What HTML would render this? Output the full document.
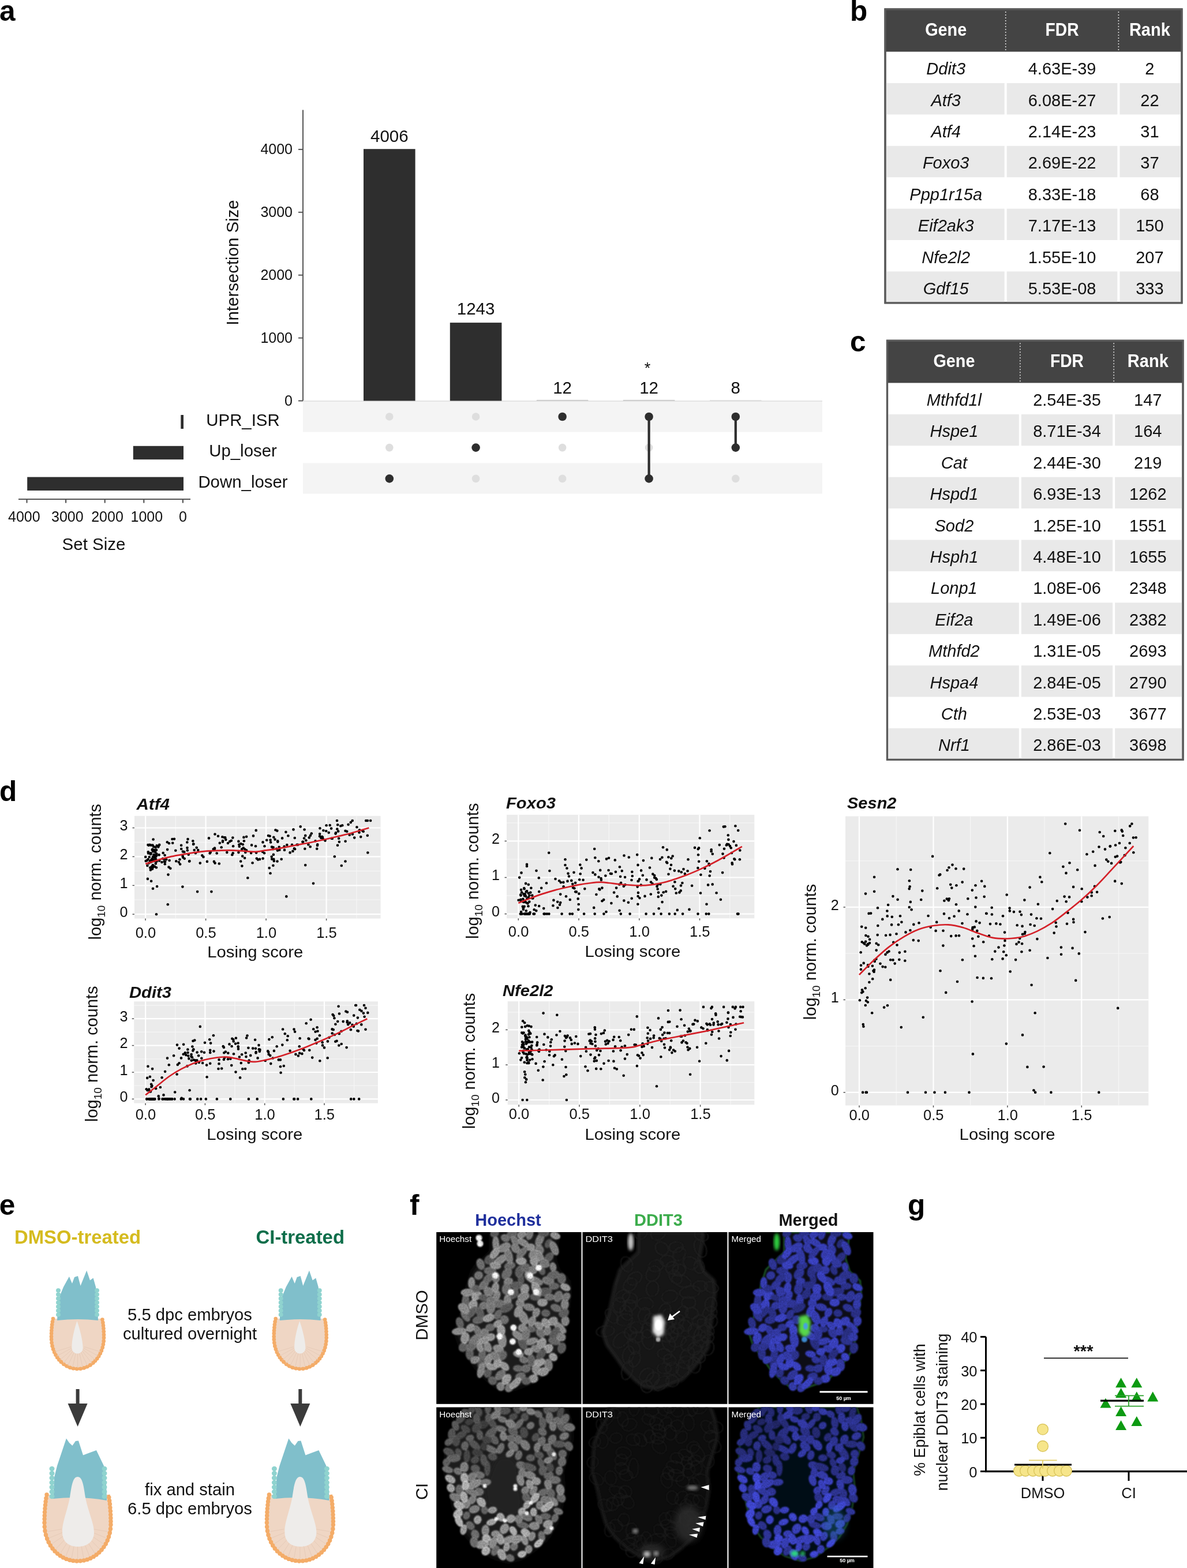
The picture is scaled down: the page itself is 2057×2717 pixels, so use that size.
<!DOCTYPE html>
<html><head><meta charset="utf-8"><title>Figure</title>
<style>html,body{margin:0;padding:0;background:#fff;overflow:hidden;}svg{display:block;}</style></head>
<body>
<svg width="2057" height="2717" viewBox="0 0 2057 2717" font-family="'Liberation Sans', Arial, Helvetica, sans-serif" fill="#111">
<text x="-1" y="35.5" font-size="49.5" font-weight="bold" fill="#000">a</text>
<line x1="525" y1="190.5" x2="525" y2="694.5" stroke="#555" stroke-width="2"/>
<line x1="517" y1="694.5" x2="525" y2="694.5" stroke="#555" stroke-width="2"/>
<text x="507" y="702.5" font-size="25" text-anchor="end">0</text>
<line x1="517" y1="585.6" x2="525" y2="585.6" stroke="#555" stroke-width="2"/>
<text x="507" y="593.6" font-size="25" text-anchor="end">1000</text>
<line x1="517" y1="476.7" x2="525" y2="476.7" stroke="#555" stroke-width="2"/>
<text x="507" y="484.7" font-size="25" text-anchor="end">2000</text>
<line x1="517" y1="367.8" x2="525" y2="367.8" stroke="#555" stroke-width="2"/>
<text x="507" y="375.8" font-size="25" text-anchor="end">3000</text>
<line x1="517" y1="258.9" x2="525" y2="258.9" stroke="#555" stroke-width="2"/>
<text x="507" y="266.9" font-size="25" text-anchor="end">4000</text>
<text x="412.5" y="455" font-size="29.4" text-anchor="middle" transform="rotate(-90 412.5 455)">Intersection Size</text>
<rect x="525" y="695.5" width="900" height="53" fill="#f4f4f4"/>
<rect x="525" y="802.5" width="900" height="53" fill="#f4f4f4"/>
<line x1="525" y1="695" x2="1425" y2="695" stroke="#dcdcdc" stroke-width="1.5"/>
<rect x="630" y="258.2" width="89.6" height="436.3" fill="#2e2e2e"/>
<text x="674.8" y="245.8" font-size="29.5" text-anchor="middle">4006</text>
<rect x="779.8" y="559.1" width="89.6" height="135.4" fill="#2e2e2e"/>
<text x="824.6" y="544.5" font-size="29.5" text-anchor="middle">1243</text>
<rect x="929.8" y="692.9" width="89.6" height="1.6" fill="#c8c8c8"/>
<text x="974.6" y="681.7" font-size="29.5" text-anchor="middle">12</text>
<rect x="1079.8" y="692.9" width="89.6" height="1.6" fill="#c8c8c8"/>
<text x="1124.6" y="681.7" font-size="29.5" text-anchor="middle">12</text>
<rect x="1230" y="693.4" width="89.6" height="1.1" fill="#d4d4d4"/>
<text x="1274.8" y="681.7" font-size="29.5" text-anchor="middle">8</text>
<text x="1122" y="647" font-size="27" text-anchor="middle">*</text>
<circle cx="674.8" cy="722" r="6.8" fill="#dedede"/>
<circle cx="674.8" cy="775.6" r="6.8" fill="#dedede"/>
<circle cx="674.8" cy="829.4" r="7.3" fill="#2e2e2e"/>
<circle cx="824.6" cy="722" r="6.8" fill="#dedede"/>
<circle cx="824.6" cy="829.4" r="6.8" fill="#dedede"/>
<circle cx="824.6" cy="775.6" r="7.3" fill="#2e2e2e"/>
<circle cx="974.6" cy="775.6" r="6.8" fill="#dedede"/>
<circle cx="974.6" cy="829.4" r="6.8" fill="#dedede"/>
<circle cx="974.6" cy="722" r="7.3" fill="#2e2e2e"/>
<circle cx="1124.6" cy="775.6" r="6.8" fill="#dedede"/>
<line x1="1124.6" y1="722" x2="1124.6" y2="829.4" stroke="#2e2e2e" stroke-width="4.2"/>
<circle cx="1124.6" cy="722" r="7.3" fill="#2e2e2e"/>
<circle cx="1124.6" cy="829.4" r="7.3" fill="#2e2e2e"/>
<circle cx="1274.8" cy="829.4" r="6.8" fill="#dedede"/>
<line x1="1274.8" y1="722" x2="1274.8" y2="775.6" stroke="#2e2e2e" stroke-width="4.2"/>
<circle cx="1274.8" cy="722" r="7.3" fill="#2e2e2e"/>
<circle cx="1274.8" cy="775.6" r="7.3" fill="#2e2e2e"/>
<text x="421" y="737.5" font-size="29.4" text-anchor="middle">UPR_ISR</text>
<text x="421" y="791.1" font-size="29.4" text-anchor="middle">Up_loser</text>
<text x="421" y="844.9" font-size="29.4" text-anchor="middle">Down_loser</text>
<rect x="313.3" y="719" width="4.7" height="24" fill="#2e2e2e"/>
<rect x="230.8" y="772.8" width="87.2" height="23.4" fill="#2e2e2e"/>
<rect x="47.2" y="826.6" width="270.8" height="23.4" fill="#2e2e2e"/>
<line x1="32" y1="865" x2="330" y2="865" stroke="#555" stroke-width="2"/>
<line x1="316.9" y1="865" x2="316.9" y2="871.5" stroke="#555" stroke-width="2.2"/>
<text x="317" y="903.8" font-size="25" text-anchor="middle">0</text>
<line x1="249.3" y1="865" x2="249.3" y2="871.5" stroke="#555" stroke-width="2.2"/>
<text x="254.3" y="903.8" font-size="25" text-anchor="middle">1000</text>
<line x1="181.7" y1="865" x2="181.7" y2="871.5" stroke="#555" stroke-width="2.2"/>
<text x="186" y="903.8" font-size="25" text-anchor="middle">2000</text>
<line x1="114.1" y1="865" x2="114.1" y2="871.5" stroke="#555" stroke-width="2.2"/>
<text x="116.8" y="903.8" font-size="25" text-anchor="middle">3000</text>
<line x1="46.5" y1="865" x2="46.5" y2="871.5" stroke="#555" stroke-width="2.2"/>
<text x="41.8" y="903.8" font-size="25" text-anchor="middle">4000</text>
<text x="162.5" y="952.7" font-size="29.5" text-anchor="middle">Set Size</text>
<text x="1473" y="35.5" font-size="49.5" font-weight="bold" fill="#000">b</text>
<rect x="1534" y="16" width="514" height="508.8" fill="#ffffff" stroke="#5a5a5a" stroke-width="3.2"/>
<rect x="1534" y="16" width="514" height="73.6" fill="#444444"/>
<rect x="1535.6" y="144" width="205.1" height="54.4" fill="#e9e9e9"/>
<rect x="1744.7" y="144" width="191.7" height="54.4" fill="#e9e9e9"/>
<rect x="1940.4" y="144" width="106" height="54.4" fill="#e9e9e9"/>
<rect x="1535.6" y="252.8" width="205.1" height="54.4" fill="#e9e9e9"/>
<rect x="1744.7" y="252.8" width="191.7" height="54.4" fill="#e9e9e9"/>
<rect x="1940.4" y="252.8" width="106" height="54.4" fill="#e9e9e9"/>
<rect x="1535.6" y="361.6" width="205.1" height="54.4" fill="#e9e9e9"/>
<rect x="1744.7" y="361.6" width="191.7" height="54.4" fill="#e9e9e9"/>
<rect x="1940.4" y="361.6" width="106" height="54.4" fill="#e9e9e9"/>
<rect x="1535.6" y="470.4" width="205.1" height="54.4" fill="#e9e9e9"/>
<rect x="1744.7" y="470.4" width="191.7" height="54.4" fill="#e9e9e9"/>
<rect x="1940.4" y="470.4" width="106" height="54.4" fill="#e9e9e9"/>
<rect x="1534" y="16" width="514" height="508.8" fill="none" stroke="#5a5a5a" stroke-width="3.2"/>
<line x1="1742.7" y1="20" x2="1742.7" y2="87.6" stroke="#dddddd" stroke-width="1.6" stroke-dasharray="2 3"/>
<line x1="1938.4" y1="20" x2="1938.4" y2="87.6" stroke="#dddddd" stroke-width="1.6" stroke-dasharray="2 3"/>
<text x="1639.2" y="62.3" font-size="32" text-anchor="middle" font-weight="bold" fill="#ffffff" textLength="72" lengthAdjust="spacingAndGlyphs">Gene</text>
<text x="1840.6" y="62.3" font-size="32" text-anchor="middle" font-weight="bold" fill="#ffffff" textLength="58" lengthAdjust="spacingAndGlyphs">FDR</text>
<text x="1992.4" y="62.3" font-size="32" text-anchor="middle" font-weight="bold" fill="#ffffff" textLength="71" lengthAdjust="spacingAndGlyphs">Rank</text>
<text x="1639.2" y="129.1" font-size="29" text-anchor="middle" font-style="italic">Ddit3</text>
<text x="1840.6" y="129.1" font-size="29" text-anchor="middle">4.63E-39</text>
<text x="1992.4" y="129.1" font-size="29" text-anchor="middle">2</text>
<text x="1639.2" y="183.5" font-size="29" text-anchor="middle" font-style="italic">Atf3</text>
<text x="1840.6" y="183.5" font-size="29" text-anchor="middle">6.08E-27</text>
<text x="1992.4" y="183.5" font-size="29" text-anchor="middle">22</text>
<text x="1639.2" y="237.9" font-size="29" text-anchor="middle" font-style="italic">Atf4</text>
<text x="1840.6" y="237.9" font-size="29" text-anchor="middle">2.14E-23</text>
<text x="1992.4" y="237.9" font-size="29" text-anchor="middle">31</text>
<text x="1639.2" y="292.3" font-size="29" text-anchor="middle" font-style="italic">Foxo3</text>
<text x="1840.6" y="292.3" font-size="29" text-anchor="middle">2.69E-22</text>
<text x="1992.4" y="292.3" font-size="29" text-anchor="middle">37</text>
<text x="1639.2" y="346.7" font-size="29" text-anchor="middle" font-style="italic">Ppp1r15a</text>
<text x="1840.6" y="346.7" font-size="29" text-anchor="middle">8.33E-18</text>
<text x="1992.4" y="346.7" font-size="29" text-anchor="middle">68</text>
<text x="1639.2" y="401.1" font-size="29" text-anchor="middle" font-style="italic">Eif2ak3</text>
<text x="1840.6" y="401.1" font-size="29" text-anchor="middle">7.17E-13</text>
<text x="1992.4" y="401.1" font-size="29" text-anchor="middle">150</text>
<text x="1639.2" y="455.5" font-size="29" text-anchor="middle" font-style="italic">Nfe2l2</text>
<text x="1840.6" y="455.5" font-size="29" text-anchor="middle">1.55E-10</text>
<text x="1992.4" y="455.5" font-size="29" text-anchor="middle">207</text>
<text x="1639.2" y="509.9" font-size="29" text-anchor="middle" font-style="italic">Gdf15</text>
<text x="1840.6" y="509.9" font-size="29" text-anchor="middle">5.53E-08</text>
<text x="1992.4" y="509.9" font-size="29" text-anchor="middle">333</text>
<text x="1473" y="609.3" font-size="49.5" font-weight="bold" fill="#000">c</text>
<rect x="1537.5" y="590.3" width="512.5" height="726" fill="#ffffff" stroke="#5a5a5a" stroke-width="3.2"/>
<rect x="1537.5" y="590.3" width="512.5" height="73.2" fill="#444444"/>
<rect x="1539.1" y="717.9" width="226.7" height="54.4" fill="#e9e9e9"/>
<rect x="1769.8" y="717.9" width="158.4" height="54.4" fill="#e9e9e9"/>
<rect x="1932.2" y="717.9" width="116.2" height="54.4" fill="#e9e9e9"/>
<rect x="1539.1" y="826.7" width="226.7" height="54.4" fill="#e9e9e9"/>
<rect x="1769.8" y="826.7" width="158.4" height="54.4" fill="#e9e9e9"/>
<rect x="1932.2" y="826.7" width="116.2" height="54.4" fill="#e9e9e9"/>
<rect x="1539.1" y="935.5" width="226.7" height="54.4" fill="#e9e9e9"/>
<rect x="1769.8" y="935.5" width="158.4" height="54.4" fill="#e9e9e9"/>
<rect x="1932.2" y="935.5" width="116.2" height="54.4" fill="#e9e9e9"/>
<rect x="1539.1" y="1044.3" width="226.7" height="54.4" fill="#e9e9e9"/>
<rect x="1769.8" y="1044.3" width="158.4" height="54.4" fill="#e9e9e9"/>
<rect x="1932.2" y="1044.3" width="116.2" height="54.4" fill="#e9e9e9"/>
<rect x="1539.1" y="1153.1" width="226.7" height="54.4" fill="#e9e9e9"/>
<rect x="1769.8" y="1153.1" width="158.4" height="54.4" fill="#e9e9e9"/>
<rect x="1932.2" y="1153.1" width="116.2" height="54.4" fill="#e9e9e9"/>
<rect x="1539.1" y="1261.9" width="226.7" height="54.4" fill="#e9e9e9"/>
<rect x="1769.8" y="1261.9" width="158.4" height="54.4" fill="#e9e9e9"/>
<rect x="1932.2" y="1261.9" width="116.2" height="54.4" fill="#e9e9e9"/>
<rect x="1537.5" y="590.3" width="512.5" height="726" fill="none" stroke="#5a5a5a" stroke-width="3.2"/>
<line x1="1767.8" y1="594.3" x2="1767.8" y2="661.5" stroke="#dddddd" stroke-width="1.6" stroke-dasharray="2 3"/>
<line x1="1930.2" y1="594.3" x2="1930.2" y2="661.5" stroke="#dddddd" stroke-width="1.6" stroke-dasharray="2 3"/>
<text x="1653.4" y="636.4" font-size="32" text-anchor="middle" font-weight="bold" fill="#ffffff" textLength="72" lengthAdjust="spacingAndGlyphs">Gene</text>
<text x="1849" y="636.4" font-size="32" text-anchor="middle" font-weight="bold" fill="#ffffff" textLength="58" lengthAdjust="spacingAndGlyphs">FDR</text>
<text x="1989.3" y="636.4" font-size="32" text-anchor="middle" font-weight="bold" fill="#ffffff" textLength="71" lengthAdjust="spacingAndGlyphs">Rank</text>
<text x="1653.4" y="703" font-size="29" text-anchor="middle" font-style="italic">Mthfd1l</text>
<text x="1849" y="703" font-size="29" text-anchor="middle">2.54E-35</text>
<text x="1989.3" y="703" font-size="29" text-anchor="middle">147</text>
<text x="1653.4" y="757.4" font-size="29" text-anchor="middle" font-style="italic">Hspe1</text>
<text x="1849" y="757.4" font-size="29" text-anchor="middle">8.71E-34</text>
<text x="1989.3" y="757.4" font-size="29" text-anchor="middle">164</text>
<text x="1653.4" y="811.8" font-size="29" text-anchor="middle" font-style="italic">Cat</text>
<text x="1849" y="811.8" font-size="29" text-anchor="middle">2.44E-30</text>
<text x="1989.3" y="811.8" font-size="29" text-anchor="middle">219</text>
<text x="1653.4" y="866.2" font-size="29" text-anchor="middle" font-style="italic">Hspd1</text>
<text x="1849" y="866.2" font-size="29" text-anchor="middle">6.93E-13</text>
<text x="1989.3" y="866.2" font-size="29" text-anchor="middle">1262</text>
<text x="1653.4" y="920.6" font-size="29" text-anchor="middle" font-style="italic">Sod2</text>
<text x="1849" y="920.6" font-size="29" text-anchor="middle">1.25E-10</text>
<text x="1989.3" y="920.6" font-size="29" text-anchor="middle">1551</text>
<text x="1653.4" y="975" font-size="29" text-anchor="middle" font-style="italic">Hsph1</text>
<text x="1849" y="975" font-size="29" text-anchor="middle">4.48E-10</text>
<text x="1989.3" y="975" font-size="29" text-anchor="middle">1655</text>
<text x="1653.4" y="1029.4" font-size="29" text-anchor="middle" font-style="italic">Lonp1</text>
<text x="1849" y="1029.4" font-size="29" text-anchor="middle">1.08E-06</text>
<text x="1989.3" y="1029.4" font-size="29" text-anchor="middle">2348</text>
<text x="1653.4" y="1083.8" font-size="29" text-anchor="middle" font-style="italic">Eif2a</text>
<text x="1849" y="1083.8" font-size="29" text-anchor="middle">1.49E-06</text>
<text x="1989.3" y="1083.8" font-size="29" text-anchor="middle">2382</text>
<text x="1653.4" y="1138.2" font-size="29" text-anchor="middle" font-style="italic">Mthfd2</text>
<text x="1849" y="1138.2" font-size="29" text-anchor="middle">1.31E-05</text>
<text x="1989.3" y="1138.2" font-size="29" text-anchor="middle">2693</text>
<text x="1653.4" y="1192.6" font-size="29" text-anchor="middle" font-style="italic">Hspa4</text>
<text x="1849" y="1192.6" font-size="29" text-anchor="middle">2.84E-05</text>
<text x="1989.3" y="1192.6" font-size="29" text-anchor="middle">2790</text>
<text x="1653.4" y="1247" font-size="29" text-anchor="middle" font-style="italic">Cth</text>
<text x="1849" y="1247" font-size="29" text-anchor="middle">2.53E-03</text>
<text x="1989.3" y="1247" font-size="29" text-anchor="middle">3677</text>
<text x="1653.4" y="1301.4" font-size="29" text-anchor="middle" font-style="italic">Nrf1</text>
<text x="1849" y="1301.4" font-size="29" text-anchor="middle">2.86E-03</text>
<text x="1989.3" y="1301.4" font-size="29" text-anchor="middle">3698</text>
<text x="-1" y="1388.2" font-size="49.5" font-weight="bold" fill="#000">d</text>
<rect x="233" y="1413.8" width="426.6" height="177.8" fill="#ebebeb"/>
<line x1="304.4" y1="1413.8" x2="304.4" y2="1591.6" stroke="#f5f5f5" stroke-width="1.3"/>
<line x1="408.9" y1="1413.8" x2="408.9" y2="1591.6" stroke="#f5f5f5" stroke-width="1.3"/>
<line x1="513.4" y1="1413.8" x2="513.4" y2="1591.6" stroke="#f5f5f5" stroke-width="1.3"/>
<line x1="617.9" y1="1413.8" x2="617.9" y2="1591.6" stroke="#f5f5f5" stroke-width="1.3"/>
<line x1="233" y1="1559.2" x2="659.6" y2="1559.2" stroke="#f5f5f5" stroke-width="1.3"/>
<line x1="233" y1="1509.4" x2="659.6" y2="1509.4" stroke="#f5f5f5" stroke-width="1.3"/>
<line x1="233" y1="1459.5" x2="659.6" y2="1459.5" stroke="#f5f5f5" stroke-width="1.3"/>
<line x1="252.1" y1="1413.8" x2="252.1" y2="1591.6" stroke="#ffffff" stroke-width="2.2"/>
<line x1="356.6" y1="1413.8" x2="356.6" y2="1591.6" stroke="#ffffff" stroke-width="2.2"/>
<line x1="461.1" y1="1413.8" x2="461.1" y2="1591.6" stroke="#ffffff" stroke-width="2.2"/>
<line x1="565.6" y1="1413.8" x2="565.6" y2="1591.6" stroke="#ffffff" stroke-width="2.2"/>
<line x1="233" y1="1584.2" x2="659.6" y2="1584.2" stroke="#ffffff" stroke-width="2.2"/>
<line x1="233" y1="1534.3" x2="659.6" y2="1534.3" stroke="#ffffff" stroke-width="2.2"/>
<line x1="233" y1="1484.4" x2="659.6" y2="1484.4" stroke="#ffffff" stroke-width="2.2"/>
<line x1="233" y1="1434.5" x2="659.6" y2="1434.5" stroke="#ffffff" stroke-width="2.2"/>
<line x1="252.1" y1="1591.6" x2="252.1" y2="1595.1" stroke="#555" stroke-width="1.5"/>
<text x="252.4" y="1625.2" font-size="25" text-anchor="middle" textLength="35.5" lengthAdjust="spacingAndGlyphs">0.0</text>
<line x1="356.6" y1="1591.6" x2="356.6" y2="1595.1" stroke="#555" stroke-width="1.5"/>
<text x="356.9" y="1625.2" font-size="25" text-anchor="middle" textLength="35.5" lengthAdjust="spacingAndGlyphs">0.5</text>
<line x1="461.1" y1="1591.6" x2="461.1" y2="1595.1" stroke="#555" stroke-width="1.5"/>
<text x="461.4" y="1625.2" font-size="25" text-anchor="middle" textLength="35.5" lengthAdjust="spacingAndGlyphs">1.0</text>
<line x1="565.6" y1="1591.6" x2="565.6" y2="1595.1" stroke="#555" stroke-width="1.5"/>
<text x="565.9" y="1625.2" font-size="25" text-anchor="middle" textLength="35.5" lengthAdjust="spacingAndGlyphs">1.5</text>
<line x1="229.5" y1="1584.2" x2="233" y2="1584.2" stroke="#555" stroke-width="1.5"/>
<text x="221.5" y="1588.8" font-size="25.5" text-anchor="end" textLength="14" lengthAdjust="spacingAndGlyphs">0</text>
<line x1="229.5" y1="1534.3" x2="233" y2="1534.3" stroke="#555" stroke-width="1.5"/>
<text x="221.5" y="1538.9" font-size="25.5" text-anchor="end" textLength="14" lengthAdjust="spacingAndGlyphs">1</text>
<line x1="229.5" y1="1484.4" x2="233" y2="1484.4" stroke="#555" stroke-width="1.5"/>
<text x="221.5" y="1489" font-size="25.5" text-anchor="end" textLength="14" lengthAdjust="spacingAndGlyphs">2</text>
<line x1="229.5" y1="1434.5" x2="233" y2="1434.5" stroke="#555" stroke-width="1.5"/>
<text x="221.5" y="1439.1" font-size="25.5" text-anchor="end" textLength="14" lengthAdjust="spacingAndGlyphs">3</text>
<circle cx="271.7" cy="1465.3" r="2.3" fill="#000"/>
<circle cx="256.7" cy="1489" r="2.3" fill="#000"/>
<circle cx="264.8" cy="1485.1" r="2.3" fill="#000"/>
<circle cx="263.6" cy="1488.2" r="2.3" fill="#000"/>
<circle cx="265.6" cy="1454.5" r="2.3" fill="#000"/>
<circle cx="271.3" cy="1482.2" r="2.3" fill="#000"/>
<circle cx="265" cy="1500.5" r="2.3" fill="#000"/>
<circle cx="270.2" cy="1484.2" r="2.3" fill="#000"/>
<circle cx="268.1" cy="1486.6" r="2.3" fill="#000"/>
<circle cx="264.9" cy="1492.3" r="2.3" fill="#000"/>
<circle cx="260.5" cy="1479.5" r="2.3" fill="#000"/>
<circle cx="267.5" cy="1473.1" r="2.3" fill="#000"/>
<circle cx="261" cy="1494" r="2.3" fill="#000"/>
<circle cx="271.5" cy="1492.6" r="2.3" fill="#000"/>
<circle cx="265.5" cy="1500.1" r="2.3" fill="#000"/>
<circle cx="260.9" cy="1507.5" r="2.3" fill="#000"/>
<circle cx="252.7" cy="1491.9" r="2.3" fill="#000"/>
<circle cx="262.1" cy="1526.7" r="2.3" fill="#000"/>
<circle cx="257.8" cy="1495.6" r="2.3" fill="#000"/>
<circle cx="266" cy="1484.4" r="2.3" fill="#000"/>
<circle cx="255.9" cy="1522.9" r="2.3" fill="#000"/>
<circle cx="262.3" cy="1489.8" r="2.3" fill="#000"/>
<circle cx="271.4" cy="1479.6" r="2.3" fill="#000"/>
<circle cx="252.2" cy="1484.9" r="2.3" fill="#000"/>
<circle cx="256.5" cy="1464" r="2.3" fill="#000"/>
<circle cx="268" cy="1501.5" r="2.3" fill="#000"/>
<circle cx="263.4" cy="1505.7" r="2.3" fill="#000"/>
<circle cx="261.5" cy="1478.4" r="2.3" fill="#000"/>
<circle cx="264.4" cy="1471.6" r="2.3" fill="#000"/>
<circle cx="255" cy="1490.8" r="2.3" fill="#000"/>
<circle cx="275.6" cy="1481.4" r="2.3" fill="#000"/>
<circle cx="263.7" cy="1472.7" r="2.3" fill="#000"/>
<circle cx="269.2" cy="1476.7" r="2.3" fill="#000"/>
<circle cx="270.1" cy="1488.9" r="2.3" fill="#000"/>
<circle cx="256.9" cy="1476.2" r="2.3" fill="#000"/>
<circle cx="264.5" cy="1464.6" r="2.3" fill="#000"/>
<circle cx="272.1" cy="1536" r="2.3" fill="#000"/>
<circle cx="269.6" cy="1468.4" r="2.3" fill="#000"/>
<circle cx="260.2" cy="1503.6" r="2.3" fill="#000"/>
<circle cx="265.8" cy="1502.1" r="2.3" fill="#000"/>
<circle cx="257.1" cy="1478.5" r="2.3" fill="#000"/>
<circle cx="268.5" cy="1481.7" r="2.3" fill="#000"/>
<circle cx="259.3" cy="1463.7" r="2.3" fill="#000"/>
<circle cx="263.3" cy="1501.4" r="2.3" fill="#000"/>
<circle cx="264.9" cy="1489.5" r="2.3" fill="#000"/>
<circle cx="260.1" cy="1491.9" r="2.3" fill="#000"/>
<circle cx="261.5" cy="1503.4" r="2.3" fill="#000"/>
<circle cx="266.2" cy="1467.1" r="2.3" fill="#000"/>
<circle cx="271" cy="1472.9" r="2.3" fill="#000"/>
<circle cx="257.8" cy="1464.8" r="2.3" fill="#000"/>
<circle cx="265.3" cy="1475.4" r="2.3" fill="#000"/>
<circle cx="261.3" cy="1480.1" r="2.3" fill="#000"/>
<circle cx="268.8" cy="1490.8" r="2.3" fill="#000"/>
<circle cx="258.8" cy="1485" r="2.3" fill="#000"/>
<circle cx="266.9" cy="1482.1" r="2.3" fill="#000"/>
<circle cx="264.1" cy="1505.4" r="2.3" fill="#000"/>
<circle cx="260.8" cy="1478.8" r="2.3" fill="#000"/>
<circle cx="276.2" cy="1491.5" r="2.3" fill="#000"/>
<circle cx="265" cy="1539.8" r="2.3" fill="#000"/>
<circle cx="255.4" cy="1499.9" r="2.3" fill="#000"/>
<circle cx="270.9" cy="1503.3" r="2.3" fill="#000"/>
<circle cx="269.8" cy="1496.4" r="2.3" fill="#000"/>
<circle cx="261.7" cy="1464.6" r="2.3" fill="#000"/>
<circle cx="262.3" cy="1492.9" r="2.3" fill="#000"/>
<circle cx="268.1" cy="1483.4" r="2.3" fill="#000"/>
<circle cx="266.4" cy="1481" r="2.3" fill="#000"/>
<circle cx="274.6" cy="1466.1" r="2.3" fill="#000"/>
<circle cx="268" cy="1492" r="2.3" fill="#000"/>
<circle cx="271" cy="1584.2" r="2.3" fill="#000"/>
<circle cx="264.8" cy="1499.1" r="2.3" fill="#000"/>
<circle cx="610.9" cy="1445.4" r="2.3" fill="#000"/>
<circle cx="314.2" cy="1471" r="2.3" fill="#000"/>
<circle cx="527.6" cy="1437.5" r="2.3" fill="#000"/>
<circle cx="473.4" cy="1499.8" r="2.3" fill="#000"/>
<circle cx="636.8" cy="1447.8" r="2.3" fill="#000"/>
<circle cx="417.4" cy="1462" r="2.3" fill="#000"/>
<circle cx="390.2" cy="1451.3" r="2.3" fill="#000"/>
<circle cx="474.3" cy="1488.9" r="2.3" fill="#000"/>
<circle cx="363.7" cy="1478.4" r="2.3" fill="#000"/>
<circle cx="299.2" cy="1460.8" r="2.3" fill="#000"/>
<circle cx="455.5" cy="1459.4" r="2.3" fill="#000"/>
<circle cx="458.5" cy="1466.2" r="2.3" fill="#000"/>
<circle cx="560.1" cy="1454.3" r="2.3" fill="#000"/>
<circle cx="391.3" cy="1454.9" r="2.3" fill="#000"/>
<circle cx="603.6" cy="1428.8" r="2.3" fill="#000"/>
<circle cx="284.7" cy="1493.1" r="2.3" fill="#000"/>
<circle cx="584" cy="1422" r="2.3" fill="#000"/>
<circle cx="338.9" cy="1478.2" r="2.3" fill="#000"/>
<circle cx="366.4" cy="1545.1" r="2.3" fill="#000"/>
<circle cx="473.3" cy="1471.3" r="2.3" fill="#000"/>
<circle cx="419.4" cy="1500.6" r="2.3" fill="#000"/>
<circle cx="427.1" cy="1473.4" r="2.3" fill="#000"/>
<circle cx="319.3" cy="1476.2" r="2.3" fill="#000"/>
<circle cx="420.2" cy="1483.6" r="2.3" fill="#000"/>
<circle cx="468.6" cy="1455.6" r="2.3" fill="#000"/>
<circle cx="435.1" cy="1478.1" r="2.3" fill="#000"/>
<circle cx="450.1" cy="1488.9" r="2.3" fill="#000"/>
<circle cx="480.3" cy="1439.6" r="2.3" fill="#000"/>
<circle cx="290.8" cy="1567.3" r="2.3" fill="#000"/>
<circle cx="556.4" cy="1452" r="2.3" fill="#000"/>
<circle cx="529.2" cy="1447.9" r="2.3" fill="#000"/>
<circle cx="493" cy="1472.9" r="2.3" fill="#000"/>
<circle cx="628.2" cy="1439.4" r="2.3" fill="#000"/>
<circle cx="483.7" cy="1467.8" r="2.3" fill="#000"/>
<circle cx="525.2" cy="1458.8" r="2.3" fill="#000"/>
<circle cx="543" cy="1530.8" r="2.3" fill="#000"/>
<circle cx="372" cy="1471.1" r="2.3" fill="#000"/>
<circle cx="324.5" cy="1469.1" r="2.3" fill="#000"/>
<circle cx="437.6" cy="1495.3" r="2.3" fill="#000"/>
<circle cx="414.4" cy="1463.5" r="2.3" fill="#000"/>
<circle cx="319.7" cy="1487.7" r="2.3" fill="#000"/>
<circle cx="317.1" cy="1485.7" r="2.3" fill="#000"/>
<circle cx="364.8" cy="1476.7" r="2.3" fill="#000"/>
<circle cx="343.2" cy="1473.1" r="2.3" fill="#000"/>
<circle cx="582" cy="1443" r="2.3" fill="#000"/>
<circle cx="473.6" cy="1468.2" r="2.3" fill="#000"/>
<circle cx="565.6" cy="1430.3" r="2.3" fill="#000"/>
<circle cx="474.8" cy="1491.9" r="2.3" fill="#000"/>
<circle cx="414.8" cy="1466.7" r="2.3" fill="#000"/>
<circle cx="571.7" cy="1430" r="2.3" fill="#000"/>
<circle cx="554.5" cy="1435.3" r="2.3" fill="#000"/>
<circle cx="458.1" cy="1478.2" r="2.3" fill="#000"/>
<circle cx="468.5" cy="1513.2" r="2.3" fill="#000"/>
<circle cx="420.8" cy="1463.3" r="2.3" fill="#000"/>
<circle cx="455.1" cy="1476" r="2.3" fill="#000"/>
<circle cx="375.7" cy="1478.5" r="2.3" fill="#000"/>
<circle cx="579.8" cy="1484.2" r="2.3" fill="#000"/>
<circle cx="424.3" cy="1471.5" r="2.3" fill="#000"/>
<circle cx="386" cy="1458.7" r="2.3" fill="#000"/>
<circle cx="274.3" cy="1467.6" r="2.3" fill="#000"/>
<circle cx="422.9" cy="1457.2" r="2.3" fill="#000"/>
<circle cx="550" cy="1465" r="2.3" fill="#000"/>
<circle cx="509.9" cy="1470.4" r="2.3" fill="#000"/>
<circle cx="507.4" cy="1474.9" r="2.3" fill="#000"/>
<circle cx="586.1" cy="1440.4" r="2.3" fill="#000"/>
<circle cx="370.9" cy="1492.9" r="2.3" fill="#000"/>
<circle cx="474.3" cy="1450.8" r="2.3" fill="#000"/>
<circle cx="289.8" cy="1459.2" r="2.3" fill="#000"/>
<circle cx="429.3" cy="1521.2" r="2.3" fill="#000"/>
<circle cx="623" cy="1438.4" r="2.3" fill="#000"/>
<circle cx="350.3" cy="1482.4" r="2.3" fill="#000"/>
<circle cx="372.5" cy="1445.5" r="2.3" fill="#000"/>
<circle cx="462.2" cy="1455.8" r="2.3" fill="#000"/>
<circle cx="514.6" cy="1463.9" r="2.3" fill="#000"/>
<circle cx="358.9" cy="1492.9" r="2.3" fill="#000"/>
<circle cx="565.2" cy="1440" r="2.3" fill="#000"/>
<circle cx="534.4" cy="1463.4" r="2.3" fill="#000"/>
<circle cx="605.7" cy="1446.8" r="2.3" fill="#000"/>
<circle cx="563.5" cy="1456.6" r="2.3" fill="#000"/>
<circle cx="334.3" cy="1457.3" r="2.3" fill="#000"/>
<circle cx="497.3" cy="1464" r="2.3" fill="#000"/>
<circle cx="324.3" cy="1459.5" r="2.3" fill="#000"/>
<circle cx="362" cy="1452.4" r="2.3" fill="#000"/>
<circle cx="386" cy="1457.1" r="2.3" fill="#000"/>
<circle cx="342.1" cy="1545.1" r="2.3" fill="#000"/>
<circle cx="285.8" cy="1497.3" r="2.3" fill="#000"/>
<circle cx="629.7" cy="1440.7" r="2.3" fill="#000"/>
<circle cx="529.2" cy="1499.1" r="2.3" fill="#000"/>
<circle cx="335.4" cy="1462.2" r="2.3" fill="#000"/>
<circle cx="444.1" cy="1477.6" r="2.3" fill="#000"/>
<circle cx="492.6" cy="1466.9" r="2.3" fill="#000"/>
<circle cx="290.1" cy="1472.1" r="2.3" fill="#000"/>
<circle cx="487.7" cy="1488.8" r="2.3" fill="#000"/>
<circle cx="598.5" cy="1439.7" r="2.3" fill="#000"/>
<circle cx="326.7" cy="1480.7" r="2.3" fill="#000"/>
<circle cx="413.4" cy="1457.9" r="2.3" fill="#000"/>
<circle cx="286.1" cy="1493.3" r="2.3" fill="#000"/>
<circle cx="316.4" cy="1536.6" r="2.3" fill="#000"/>
<circle cx="527.1" cy="1452.5" r="2.3" fill="#000"/>
<circle cx="417.2" cy="1492.5" r="2.3" fill="#000"/>
<circle cx="295.3" cy="1504.8" r="2.3" fill="#000"/>
<circle cx="402.3" cy="1481.2" r="2.3" fill="#000"/>
<circle cx="403.7" cy="1478.3" r="2.3" fill="#000"/>
<circle cx="598.6" cy="1457.7" r="2.3" fill="#000"/>
<circle cx="539.8" cy="1444.3" r="2.3" fill="#000"/>
<circle cx="634.2" cy="1422" r="2.3" fill="#000"/>
<circle cx="292.5" cy="1502.6" r="2.3" fill="#000"/>
<circle cx="637.3" cy="1477.5" r="2.3" fill="#000"/>
<circle cx="419.2" cy="1471.3" r="2.3" fill="#000"/>
<circle cx="282.1" cy="1487.8" r="2.3" fill="#000"/>
<circle cx="285.6" cy="1482" r="2.3" fill="#000"/>
<circle cx="388.9" cy="1451.3" r="2.3" fill="#000"/>
<circle cx="385.4" cy="1450.3" r="2.3" fill="#000"/>
<circle cx="479.1" cy="1470.8" r="2.3" fill="#000"/>
<circle cx="489.1" cy="1452.4" r="2.3" fill="#000"/>
<circle cx="439" cy="1448.4" r="2.3" fill="#000"/>
<circle cx="471.1" cy="1467.6" r="2.3" fill="#000"/>
<circle cx="380.8" cy="1460.7" r="2.3" fill="#000"/>
<circle cx="400.8" cy="1456.7" r="2.3" fill="#000"/>
<circle cx="574.5" cy="1452.7" r="2.3" fill="#000"/>
<circle cx="393.3" cy="1477.1" r="2.3" fill="#000"/>
<circle cx="467.6" cy="1448.8" r="2.3" fill="#000"/>
<circle cx="298.5" cy="1454" r="2.3" fill="#000"/>
<circle cx="610.7" cy="1422" r="2.3" fill="#000"/>
<circle cx="614.2" cy="1451.6" r="2.3" fill="#000"/>
<circle cx="466.7" cy="1504.1" r="2.3" fill="#000"/>
<circle cx="549.2" cy="1470.8" r="2.3" fill="#000"/>
<circle cx="511.1" cy="1471.2" r="2.3" fill="#000"/>
<circle cx="335.1" cy="1462.9" r="2.3" fill="#000"/>
<circle cx="481.2" cy="1457.4" r="2.3" fill="#000"/>
<circle cx="291.5" cy="1515.6" r="2.3" fill="#000"/>
<circle cx="369.8" cy="1471.3" r="2.3" fill="#000"/>
<circle cx="302" cy="1453.8" r="2.3" fill="#000"/>
<circle cx="591.8" cy="1500" r="2.3" fill="#000"/>
<circle cx="378" cy="1448.7" r="2.3" fill="#000"/>
<circle cx="593.2" cy="1430.3" r="2.3" fill="#000"/>
<circle cx="622.5" cy="1442.4" r="2.3" fill="#000"/>
<circle cx="574.1" cy="1435.6" r="2.3" fill="#000"/>
<circle cx="558" cy="1449.7" r="2.3" fill="#000"/>
<circle cx="422.4" cy="1450.9" r="2.3" fill="#000"/>
<circle cx="587.9" cy="1458.8" r="2.3" fill="#000"/>
<circle cx="383.7" cy="1468.3" r="2.3" fill="#000"/>
<circle cx="601.2" cy="1440.8" r="2.3" fill="#000"/>
<circle cx="473.9" cy="1480.9" r="2.3" fill="#000"/>
<circle cx="575.8" cy="1453" r="2.3" fill="#000"/>
<circle cx="506" cy="1463.9" r="2.3" fill="#000"/>
<circle cx="476.5" cy="1454.6" r="2.3" fill="#000"/>
<circle cx="508.5" cy="1437.4" r="2.3" fill="#000"/>
<circle cx="421.8" cy="1469.4" r="2.3" fill="#000"/>
<circle cx="520.7" cy="1432.4" r="2.3" fill="#000"/>
<circle cx="444.8" cy="1487.6" r="2.3" fill="#000"/>
<circle cx="550.2" cy="1463.4" r="2.3" fill="#000"/>
<circle cx="404.1" cy="1466.3" r="2.3" fill="#000"/>
<circle cx="336.7" cy="1473" r="2.3" fill="#000"/>
<circle cx="642.1" cy="1422" r="2.3" fill="#000"/>
<circle cx="546.6" cy="1457.2" r="2.3" fill="#000"/>
<circle cx="537.7" cy="1467.2" r="2.3" fill="#000"/>
<circle cx="537.9" cy="1447.8" r="2.3" fill="#000"/>
<circle cx="282.7" cy="1478" r="2.3" fill="#000"/>
<circle cx="625.2" cy="1450.1" r="2.3" fill="#000"/>
<circle cx="499.4" cy="1448.3" r="2.3" fill="#000"/>
<circle cx="470.7" cy="1484.6" r="2.3" fill="#000"/>
<circle cx="477.5" cy="1438.3" r="2.3" fill="#000"/>
<circle cx="316.9" cy="1475.6" r="2.3" fill="#000"/>
<circle cx="590.3" cy="1431.2" r="2.3" fill="#000"/>
<circle cx="305.3" cy="1492.2" r="2.3" fill="#000"/>
<circle cx="607.8" cy="1425.1" r="2.3" fill="#000"/>
<circle cx="312.1" cy="1497.5" r="2.3" fill="#000"/>
<circle cx="427.1" cy="1449.8" r="2.3" fill="#000"/>
<circle cx="379.8" cy="1496.5" r="2.3" fill="#000"/>
<circle cx="554" cy="1449.1" r="2.3" fill="#000"/>
<circle cx="276.2" cy="1463.9" r="2.3" fill="#000"/>
<circle cx="372" cy="1469.6" r="2.3" fill="#000"/>
<circle cx="554.1" cy="1445.1" r="2.3" fill="#000"/>
<circle cx="425.3" cy="1477" r="2.3" fill="#000"/>
<circle cx="480.5" cy="1492.5" r="2.3" fill="#000"/>
<circle cx="328.1" cy="1492.5" r="2.3" fill="#000"/>
<circle cx="530.3" cy="1456.2" r="2.3" fill="#000"/>
<circle cx="398.2" cy="1458.1" r="2.3" fill="#000"/>
<circle cx="598.5" cy="1492.5" r="2.3" fill="#000"/>
<circle cx="528.3" cy="1470.7" r="2.3" fill="#000"/>
<circle cx="455.6" cy="1487.6" r="2.3" fill="#000"/>
<circle cx="324.8" cy="1473.5" r="2.3" fill="#000"/>
<circle cx="481.3" cy="1458.8" r="2.3" fill="#000"/>
<circle cx="346.8" cy="1495.6" r="2.3" fill="#000"/>
<circle cx="280.4" cy="1494" r="2.3" fill="#000"/>
<circle cx="304.3" cy="1473.7" r="2.3" fill="#000"/>
<circle cx="495.4" cy="1441.8" r="2.3" fill="#000"/>
<circle cx="395" cy="1461" r="2.3" fill="#000"/>
<circle cx="288.2" cy="1489.3" r="2.3" fill="#000"/>
<circle cx="372.6" cy="1495.6" r="2.3" fill="#000"/>
<circle cx="618.4" cy="1433.3" r="2.3" fill="#000"/>
<circle cx="524.4" cy="1458.7" r="2.3" fill="#000"/>
<circle cx="403.3" cy="1451.6" r="2.3" fill="#000"/>
<circle cx="585" cy="1464.7" r="2.3" fill="#000"/>
<circle cx="502.6" cy="1477.4" r="2.3" fill="#000"/>
<circle cx="471.2" cy="1488.6" r="2.3" fill="#000"/>
<circle cx="293" cy="1461.3" r="2.3" fill="#000"/>
<circle cx="352.5" cy="1484.9" r="2.3" fill="#000"/>
<circle cx="469.1" cy="1459.5" r="2.3" fill="#000"/>
<circle cx="311.4" cy="1489.3" r="2.3" fill="#000"/>
<circle cx="585.2" cy="1429.3" r="2.3" fill="#000"/>
<circle cx="284.3" cy="1488.7" r="2.3" fill="#000"/>
<circle cx="325.5" cy="1454.1" r="2.3" fill="#000"/>
<circle cx="584.3" cy="1436.5" r="2.3" fill="#000"/>
<circle cx="587.1" cy="1452.8" r="2.3" fill="#000"/>
<circle cx="316.6" cy="1483.2" r="2.3" fill="#000"/>
<circle cx="496.3" cy="1553.4" r="2.3" fill="#000"/>
<circle cx="413.4" cy="1477.1" r="2.3" fill="#000"/>
<circle cx="443" cy="1466.3" r="2.3" fill="#000"/>
<circle cx="424.1" cy="1486.7" r="2.3" fill="#000"/>
<circle cx="447.1" cy="1489.6" r="2.3" fill="#000"/>
<circle cx="314.1" cy="1464.8" r="2.3" fill="#000"/>
<circle cx="636.9" cy="1422" r="2.3" fill="#000"/>
<circle cx="569.7" cy="1442.7" r="2.3" fill="#000"/>
<circle cx="481" cy="1473.7" r="2.3" fill="#000"/>
<circle cx="560.4" cy="1439" r="2.3" fill="#000"/>
<circle cx="516.2" cy="1463.8" r="2.3" fill="#000"/>
<circle cx="293.6" cy="1491" r="2.3" fill="#000"/>
<circle cx="436.1" cy="1464.4" r="2.3" fill="#000"/>
<circle cx="465" cy="1448" r="2.3" fill="#000"/>
<circle cx="510.8" cy="1452" r="2.3" fill="#000"/>
<circle cx="535.8" cy="1451.4" r="2.3" fill="#000"/>
<circle cx="581.5" cy="1444.6" r="2.3" fill="#000"/>
<circle cx="309.9" cy="1494.1" r="2.3" fill="#000"/>
<circle cx="443.7" cy="1438.9" r="2.3" fill="#000"/>
<circle cx="559" cy="1450.9" r="2.3" fill="#000"/>
<circle cx="484.4" cy="1472.7" r="2.3" fill="#000"/>
<circle cx="328.4" cy="1492.1" r="2.3" fill="#000"/>
<circle cx="340.7" cy="1468.8" r="2.3" fill="#000"/>
<path d="M252.1,1496.9 C255.6,1495.8 266,1492.4 273,1490.4 C280,1488.4 286.9,1486.5 293.9,1484.9 C300.9,1483.3 307.8,1482.2 314.8,1480.9 C321.8,1479.7 328.7,1478.4 335.7,1477.4 C342.7,1476.4 349.6,1475.5 356.6,1474.9 C363.6,1474.3 370.5,1474.2 377.5,1473.9 C384.5,1473.7 391.4,1473.3 398.4,1473.4 C405.4,1473.5 412.3,1474 419.3,1474.4 C426.3,1474.8 433.2,1476.1 440.2,1475.9 C447.2,1475.8 454.1,1474.3 461.1,1473.4 C468.1,1472.5 475,1471.6 482,1470.4 C489,1469.3 495.9,1467.8 502.9,1466.4 C509.9,1465.1 516.8,1463.8 523.8,1462.4 C530.8,1461.1 537.7,1459.9 544.7,1458.5 C551.7,1457 558.6,1455.5 565.6,1454 C572.6,1452.4 579.5,1450.6 586.5,1449 C593.5,1447.3 598.6,1446.4 607.4,1444 C616.2,1441.6 634,1436.1 639.4,1434.5" fill="none" stroke="#d42028" stroke-width="2.7"/>
<text x="236.5" y="1402.6" font-size="28.5" font-weight="bold" font-style="italic" textLength="57.5" lengthAdjust="spacingAndGlyphs">Atf4</text>
<text x="442.2" y="1659.4" font-size="28.3" text-anchor="middle" textLength="166" lengthAdjust="spacingAndGlyphs">Losing score</text>
<text transform="translate(174.5,1510.7) rotate(-90)" font-size="29" text-anchor="middle">log<tspan font-size="19" dy="7">10</tspan><tspan dy="-7"> norm. counts</tspan></text>
<rect x="878" y="1411.8" width="429.3" height="179.5" fill="#ebebeb"/>
<line x1="950.7" y1="1411.8" x2="950.7" y2="1591.3" stroke="#f5f5f5" stroke-width="1.3"/>
<line x1="1055.4" y1="1411.8" x2="1055.4" y2="1591.3" stroke="#f5f5f5" stroke-width="1.3"/>
<line x1="1160.2" y1="1411.8" x2="1160.2" y2="1591.3" stroke="#f5f5f5" stroke-width="1.3"/>
<line x1="1264.9" y1="1411.8" x2="1264.9" y2="1591.3" stroke="#f5f5f5" stroke-width="1.3"/>
<line x1="878" y1="1552" x2="1307.3" y2="1552" stroke="#f5f5f5" stroke-width="1.3"/>
<line x1="878" y1="1488.9" x2="1307.3" y2="1488.9" stroke="#f5f5f5" stroke-width="1.3"/>
<line x1="878" y1="1425.8" x2="1307.3" y2="1425.8" stroke="#f5f5f5" stroke-width="1.3"/>
<line x1="898.3" y1="1411.8" x2="898.3" y2="1591.3" stroke="#ffffff" stroke-width="2.2"/>
<line x1="1003" y1="1411.8" x2="1003" y2="1591.3" stroke="#ffffff" stroke-width="2.2"/>
<line x1="1107.8" y1="1411.8" x2="1107.8" y2="1591.3" stroke="#ffffff" stroke-width="2.2"/>
<line x1="1212.5" y1="1411.8" x2="1212.5" y2="1591.3" stroke="#ffffff" stroke-width="2.2"/>
<line x1="878" y1="1583.6" x2="1307.3" y2="1583.6" stroke="#ffffff" stroke-width="2.2"/>
<line x1="878" y1="1520.5" x2="1307.3" y2="1520.5" stroke="#ffffff" stroke-width="2.2"/>
<line x1="878" y1="1457.4" x2="1307.3" y2="1457.4" stroke="#ffffff" stroke-width="2.2"/>
<line x1="898.3" y1="1591.3" x2="898.3" y2="1594.8" stroke="#555" stroke-width="1.5"/>
<text x="898.6" y="1622.6" font-size="25" text-anchor="middle" textLength="35.5" lengthAdjust="spacingAndGlyphs">0.0</text>
<line x1="1003" y1="1591.3" x2="1003" y2="1594.8" stroke="#555" stroke-width="1.5"/>
<text x="1003.3" y="1622.6" font-size="25" text-anchor="middle" textLength="35.5" lengthAdjust="spacingAndGlyphs">0.5</text>
<line x1="1107.8" y1="1591.3" x2="1107.8" y2="1594.8" stroke="#555" stroke-width="1.5"/>
<text x="1108.1" y="1622.6" font-size="25" text-anchor="middle" textLength="35.5" lengthAdjust="spacingAndGlyphs">1.0</text>
<line x1="1212.5" y1="1591.3" x2="1212.5" y2="1594.8" stroke="#555" stroke-width="1.5"/>
<text x="1212.8" y="1622.6" font-size="25" text-anchor="middle" textLength="35.5" lengthAdjust="spacingAndGlyphs">1.5</text>
<line x1="874.5" y1="1583.6" x2="878" y2="1583.6" stroke="#555" stroke-width="1.5"/>
<text x="866" y="1588.2" font-size="25.5" text-anchor="end" textLength="14" lengthAdjust="spacingAndGlyphs">0</text>
<line x1="874.5" y1="1520.5" x2="878" y2="1520.5" stroke="#555" stroke-width="1.5"/>
<text x="866" y="1525.1" font-size="25.5" text-anchor="end" textLength="14" lengthAdjust="spacingAndGlyphs">1</text>
<line x1="874.5" y1="1457.4" x2="878" y2="1457.4" stroke="#555" stroke-width="1.5"/>
<text x="866" y="1462" font-size="25.5" text-anchor="end" textLength="14" lengthAdjust="spacingAndGlyphs">2</text>
<circle cx="924.5" cy="1583.6" r="2.3" fill="#000"/>
<circle cx="915.1" cy="1583.6" r="2.3" fill="#000"/>
<circle cx="903.1" cy="1580.1" r="2.3" fill="#000"/>
<circle cx="904.1" cy="1546.2" r="2.3" fill="#000"/>
<circle cx="917.3" cy="1562.6" r="2.3" fill="#000"/>
<circle cx="911.3" cy="1553.1" r="2.3" fill="#000"/>
<circle cx="900.2" cy="1520.6" r="2.3" fill="#000"/>
<circle cx="909.9" cy="1549.3" r="2.3" fill="#000"/>
<circle cx="909.6" cy="1561.4" r="2.3" fill="#000"/>
<circle cx="918.6" cy="1581" r="2.3" fill="#000"/>
<circle cx="910.7" cy="1583.6" r="2.3" fill="#000"/>
<circle cx="913.4" cy="1557.4" r="2.3" fill="#000"/>
<circle cx="902.3" cy="1550.2" r="2.3" fill="#000"/>
<circle cx="898.6" cy="1559.8" r="2.3" fill="#000"/>
<circle cx="915.5" cy="1570.3" r="2.3" fill="#000"/>
<circle cx="908.6" cy="1583.6" r="2.3" fill="#000"/>
<circle cx="908.6" cy="1570.7" r="2.3" fill="#000"/>
<circle cx="914.4" cy="1565.4" r="2.3" fill="#000"/>
<circle cx="902.2" cy="1558.9" r="2.3" fill="#000"/>
<circle cx="908.2" cy="1539" r="2.3" fill="#000"/>
<circle cx="908" cy="1563.1" r="2.3" fill="#000"/>
<circle cx="913.2" cy="1583.6" r="2.3" fill="#000"/>
<circle cx="906.9" cy="1573.6" r="2.3" fill="#000"/>
<circle cx="915.8" cy="1532.8" r="2.3" fill="#000"/>
<circle cx="913" cy="1500.9" r="2.3" fill="#000"/>
<circle cx="915.7" cy="1547.8" r="2.3" fill="#000"/>
<circle cx="923.4" cy="1556.5" r="2.3" fill="#000"/>
<circle cx="908.5" cy="1549.6" r="2.3" fill="#000"/>
<circle cx="906.4" cy="1562.4" r="2.3" fill="#000"/>
<circle cx="911.1" cy="1530.9" r="2.3" fill="#000"/>
<circle cx="911.1" cy="1583.6" r="2.3" fill="#000"/>
<circle cx="910.9" cy="1583.6" r="2.3" fill="#000"/>
<circle cx="916.2" cy="1583.6" r="2.3" fill="#000"/>
<circle cx="906.9" cy="1575.8" r="2.3" fill="#000"/>
<circle cx="912.1" cy="1564" r="2.3" fill="#000"/>
<circle cx="906.3" cy="1557.8" r="2.3" fill="#000"/>
<circle cx="904.7" cy="1583.6" r="2.3" fill="#000"/>
<circle cx="908.6" cy="1540.2" r="2.3" fill="#000"/>
<circle cx="910.6" cy="1583.6" r="2.3" fill="#000"/>
<circle cx="908.9" cy="1552.3" r="2.3" fill="#000"/>
<circle cx="916.6" cy="1583.6" r="2.3" fill="#000"/>
<circle cx="901.9" cy="1583.6" r="2.3" fill="#000"/>
<circle cx="907.3" cy="1549.1" r="2.3" fill="#000"/>
<circle cx="913" cy="1544" r="2.3" fill="#000"/>
<circle cx="902.9" cy="1561.7" r="2.3" fill="#000"/>
<circle cx="913" cy="1497.8" r="2.3" fill="#000"/>
<circle cx="902.9" cy="1583.6" r="2.3" fill="#000"/>
<circle cx="903.1" cy="1541.8" r="2.3" fill="#000"/>
<circle cx="911.8" cy="1578.3" r="2.3" fill="#000"/>
<circle cx="905.8" cy="1570.7" r="2.3" fill="#000"/>
<circle cx="919.3" cy="1546.6" r="2.3" fill="#000"/>
<circle cx="914.9" cy="1583.6" r="2.3" fill="#000"/>
<circle cx="911.8" cy="1545.2" r="2.3" fill="#000"/>
<circle cx="917.9" cy="1583.6" r="2.3" fill="#000"/>
<circle cx="920.4" cy="1538.8" r="2.3" fill="#000"/>
<circle cx="917.5" cy="1551.5" r="2.3" fill="#000"/>
<circle cx="903.5" cy="1512.4" r="2.3" fill="#000"/>
<circle cx="915.8" cy="1554.9" r="2.3" fill="#000"/>
<circle cx="908.5" cy="1560.8" r="2.3" fill="#000"/>
<circle cx="902.5" cy="1551.6" r="2.3" fill="#000"/>
<circle cx="1273.3" cy="1489.2" r="2.3" fill="#000"/>
<circle cx="1229.3" cy="1499.1" r="2.3" fill="#000"/>
<circle cx="1077.8" cy="1509.1" r="2.3" fill="#000"/>
<circle cx="1136.5" cy="1521.7" r="2.3" fill="#000"/>
<circle cx="973.6" cy="1583.6" r="2.3" fill="#000"/>
<circle cx="951.2" cy="1477.7" r="2.3" fill="#000"/>
<circle cx="1029.2" cy="1572.9" r="2.3" fill="#000"/>
<circle cx="1171.8" cy="1547.5" r="2.3" fill="#000"/>
<circle cx="1271.5" cy="1458.1" r="2.3" fill="#000"/>
<circle cx="1110.8" cy="1533.6" r="2.3" fill="#000"/>
<circle cx="1180" cy="1534.5" r="2.3" fill="#000"/>
<circle cx="1209.5" cy="1583.6" r="2.3" fill="#000"/>
<circle cx="1139.9" cy="1532.6" r="2.3" fill="#000"/>
<circle cx="1108.4" cy="1556.1" r="2.3" fill="#000"/>
<circle cx="1180.8" cy="1511.3" r="2.3" fill="#000"/>
<circle cx="1041.9" cy="1524.8" r="2.3" fill="#000"/>
<circle cx="1002.7" cy="1567" r="2.3" fill="#000"/>
<circle cx="1166.6" cy="1535.7" r="2.3" fill="#000"/>
<circle cx="1183.1" cy="1583.6" r="2.3" fill="#000"/>
<circle cx="1269" cy="1497.4" r="2.3" fill="#000"/>
<circle cx="1255" cy="1470.7" r="2.3" fill="#000"/>
<circle cx="993.2" cy="1538.2" r="2.3" fill="#000"/>
<circle cx="990.3" cy="1525.9" r="2.3" fill="#000"/>
<circle cx="1013.3" cy="1540.1" r="2.3" fill="#000"/>
<circle cx="995.3" cy="1539.3" r="2.3" fill="#000"/>
<circle cx="1229.7" cy="1517.5" r="2.3" fill="#000"/>
<circle cx="1043.4" cy="1561.2" r="2.3" fill="#000"/>
<circle cx="929.5" cy="1508.8" r="2.3" fill="#000"/>
<circle cx="1210.1" cy="1481.3" r="2.3" fill="#000"/>
<circle cx="1211.2" cy="1492.8" r="2.3" fill="#000"/>
<circle cx="1091.6" cy="1583.6" r="2.3" fill="#000"/>
<circle cx="1126" cy="1503.5" r="2.3" fill="#000"/>
<circle cx="1083.4" cy="1533.1" r="2.3" fill="#000"/>
<circle cx="1159.9" cy="1583.6" r="2.3" fill="#000"/>
<circle cx="1224.9" cy="1492.2" r="2.3" fill="#000"/>
<circle cx="1214.4" cy="1515.8" r="2.3" fill="#000"/>
<circle cx="1154.1" cy="1544.7" r="2.3" fill="#000"/>
<circle cx="1234.8" cy="1479.7" r="2.3" fill="#000"/>
<circle cx="1088.9" cy="1563.8" r="2.3" fill="#000"/>
<circle cx="1274.4" cy="1431.2" r="2.3" fill="#000"/>
<circle cx="1037.3" cy="1492.2" r="2.3" fill="#000"/>
<circle cx="981" cy="1553.3" r="2.3" fill="#000"/>
<circle cx="1083.1" cy="1520" r="2.3" fill="#000"/>
<circle cx="1040.2" cy="1507.9" r="2.3" fill="#000"/>
<circle cx="1057.9" cy="1513.8" r="2.3" fill="#000"/>
<circle cx="1005.7" cy="1514.2" r="2.3" fill="#000"/>
<circle cx="1046.2" cy="1559.1" r="2.3" fill="#000"/>
<circle cx="1105.6" cy="1553" r="2.3" fill="#000"/>
<circle cx="1241.6" cy="1547.2" r="2.3" fill="#000"/>
<circle cx="1282.3" cy="1473.5" r="2.3" fill="#000"/>
<circle cx="1065.8" cy="1490.4" r="2.3" fill="#000"/>
<circle cx="1050.5" cy="1580" r="2.3" fill="#000"/>
<circle cx="966.4" cy="1573" r="2.3" fill="#000"/>
<circle cx="1246.8" cy="1464.1" r="2.3" fill="#000"/>
<circle cx="1120.5" cy="1524.4" r="2.3" fill="#000"/>
<circle cx="1155.8" cy="1472.4" r="2.3" fill="#000"/>
<circle cx="1262.7" cy="1463.2" r="2.3" fill="#000"/>
<circle cx="1075.1" cy="1519" r="2.3" fill="#000"/>
<circle cx="1010.6" cy="1524.7" r="2.3" fill="#000"/>
<circle cx="1204" cy="1468.9" r="2.3" fill="#000"/>
<circle cx="1234.7" cy="1532.4" r="2.3" fill="#000"/>
<circle cx="1232.7" cy="1472.2" r="2.3" fill="#000"/>
<circle cx="1145.6" cy="1583.6" r="2.3" fill="#000"/>
<circle cx="1149" cy="1468.3" r="2.3" fill="#000"/>
<circle cx="1140.8" cy="1553.9" r="2.3" fill="#000"/>
<circle cx="1231" cy="1510" r="2.3" fill="#000"/>
<circle cx="1113.8" cy="1516.8" r="2.3" fill="#000"/>
<circle cx="1266.8" cy="1469.3" r="2.3" fill="#000"/>
<circle cx="947.9" cy="1583.6" r="2.3" fill="#000"/>
<circle cx="1049.3" cy="1517.5" r="2.3" fill="#000"/>
<circle cx="1279.5" cy="1583.6" r="2.3" fill="#000"/>
<circle cx="1252.5" cy="1479.6" r="2.3" fill="#000"/>
<circle cx="1105.5" cy="1498.9" r="2.3" fill="#000"/>
<circle cx="1259.9" cy="1462.9" r="2.3" fill="#000"/>
<circle cx="971.2" cy="1564.1" r="2.3" fill="#000"/>
<circle cx="962.5" cy="1523" r="2.3" fill="#000"/>
<circle cx="1059.8" cy="1514" r="2.3" fill="#000"/>
<circle cx="1254.5" cy="1486.4" r="2.3" fill="#000"/>
<circle cx="958.4" cy="1569.3" r="2.3" fill="#000"/>
<circle cx="997.2" cy="1545.3" r="2.3" fill="#000"/>
<circle cx="1066.9" cy="1510.8" r="2.3" fill="#000"/>
<circle cx="1127.8" cy="1549.5" r="2.3" fill="#000"/>
<circle cx="1004.2" cy="1524.2" r="2.3" fill="#000"/>
<circle cx="1163.3" cy="1487.2" r="2.3" fill="#000"/>
<circle cx="1134.2" cy="1520.7" r="2.3" fill="#000"/>
<circle cx="1194.5" cy="1575.9" r="2.3" fill="#000"/>
<circle cx="1224.5" cy="1566.8" r="2.3" fill="#000"/>
<circle cx="959.4" cy="1559.9" r="2.3" fill="#000"/>
<circle cx="1281.9" cy="1489.2" r="2.3" fill="#000"/>
<circle cx="1027.5" cy="1512" r="2.3" fill="#000"/>
<circle cx="1253.9" cy="1432.6" r="2.3" fill="#000"/>
<circle cx="1073.3" cy="1532.5" r="2.3" fill="#000"/>
<circle cx="1179.7" cy="1543.4" r="2.3" fill="#000"/>
<circle cx="998.8" cy="1545.4" r="2.3" fill="#000"/>
<circle cx="1261.8" cy="1447.3" r="2.3" fill="#000"/>
<circle cx="1176.3" cy="1509.4" r="2.3" fill="#000"/>
<circle cx="1094.7" cy="1556.7" r="2.3" fill="#000"/>
<circle cx="1095.8" cy="1518" r="2.3" fill="#000"/>
<circle cx="982.4" cy="1504.5" r="2.3" fill="#000"/>
<circle cx="1001.7" cy="1557.4" r="2.3" fill="#000"/>
<circle cx="1033.4" cy="1550" r="2.3" fill="#000"/>
<circle cx="1030.2" cy="1471" r="2.3" fill="#000"/>
<circle cx="1037.5" cy="1519.7" r="2.3" fill="#000"/>
<circle cx="1046.4" cy="1583.6" r="2.3" fill="#000"/>
<circle cx="1134.2" cy="1517" r="2.3" fill="#000"/>
<circle cx="1144.3" cy="1532.2" r="2.3" fill="#000"/>
<circle cx="1158.5" cy="1514.8" r="2.3" fill="#000"/>
<circle cx="1258.9" cy="1464.5" r="2.3" fill="#000"/>
<circle cx="994.5" cy="1511.7" r="2.3" fill="#000"/>
<circle cx="1138.5" cy="1535.9" r="2.3" fill="#000"/>
<circle cx="942.2" cy="1574.1" r="2.3" fill="#000"/>
<circle cx="1149.7" cy="1546.3" r="2.3" fill="#000"/>
<circle cx="1095.3" cy="1510.7" r="2.3" fill="#000"/>
<circle cx="1002.3" cy="1576.1" r="2.3" fill="#000"/>
<circle cx="1169.4" cy="1528.3" r="2.3" fill="#000"/>
<circle cx="1068.1" cy="1538.6" r="2.3" fill="#000"/>
<circle cx="1209.4" cy="1504" r="2.3" fill="#000"/>
<circle cx="1191.6" cy="1509.3" r="2.3" fill="#000"/>
<circle cx="971.8" cy="1529.1" r="2.3" fill="#000"/>
<circle cx="1147.6" cy="1563.1" r="2.3" fill="#000"/>
<circle cx="951.4" cy="1583.6" r="2.3" fill="#000"/>
<circle cx="971.2" cy="1549.6" r="2.3" fill="#000"/>
<circle cx="1051" cy="1488.4" r="2.3" fill="#000"/>
<circle cx="1144" cy="1489" r="2.3" fill="#000"/>
<circle cx="1155" cy="1493.8" r="2.3" fill="#000"/>
<circle cx="1108.1" cy="1523.4" r="2.3" fill="#000"/>
<circle cx="922.3" cy="1551.6" r="2.3" fill="#000"/>
<circle cx="1184.5" cy="1506.1" r="2.3" fill="#000"/>
<circle cx="1080.8" cy="1535.8" r="2.3" fill="#000"/>
<circle cx="979.5" cy="1499" r="2.3" fill="#000"/>
<circle cx="1168.9" cy="1508.6" r="2.3" fill="#000"/>
<circle cx="934.2" cy="1545" r="2.3" fill="#000"/>
<circle cx="1256.4" cy="1432.3" r="2.3" fill="#000"/>
<circle cx="944.3" cy="1583.6" r="2.3" fill="#000"/>
<circle cx="1104.7" cy="1536.6" r="2.3" fill="#000"/>
<circle cx="1114.9" cy="1491.1" r="2.3" fill="#000"/>
<circle cx="966.2" cy="1562.7" r="2.3" fill="#000"/>
<circle cx="1131.3" cy="1514.6" r="2.3" fill="#000"/>
<circle cx="1081.5" cy="1482.5" r="2.3" fill="#000"/>
<circle cx="1139.7" cy="1540.5" r="2.3" fill="#000"/>
<circle cx="927.8" cy="1568.6" r="2.3" fill="#000"/>
<circle cx="1012.1" cy="1583.6" r="2.3" fill="#000"/>
<circle cx="1076.1" cy="1529.7" r="2.3" fill="#000"/>
<circle cx="1223.8" cy="1583.6" r="2.3" fill="#000"/>
<circle cx="1031.3" cy="1486.3" r="2.3" fill="#000"/>
<circle cx="1173.8" cy="1576.9" r="2.3" fill="#000"/>
<circle cx="1054.6" cy="1508" r="2.3" fill="#000"/>
<circle cx="1117.5" cy="1552.9" r="2.3" fill="#000"/>
<circle cx="1199.1" cy="1534.8" r="2.3" fill="#000"/>
<circle cx="1161.4" cy="1505.6" r="2.3" fill="#000"/>
<circle cx="1141" cy="1546.6" r="2.3" fill="#000"/>
<circle cx="1064.1" cy="1546.5" r="2.3" fill="#000"/>
<circle cx="1177.4" cy="1546.4" r="2.3" fill="#000"/>
<circle cx="1165.7" cy="1483.5" r="2.3" fill="#000"/>
<circle cx="1104.2" cy="1481.1" r="2.3" fill="#000"/>
<circle cx="1130.7" cy="1531.4" r="2.3" fill="#000"/>
<circle cx="1209.8" cy="1471.3" r="2.3" fill="#000"/>
<circle cx="934.2" cy="1570" r="2.3" fill="#000"/>
<circle cx="1268.7" cy="1495.3" r="2.3" fill="#000"/>
<circle cx="1228.3" cy="1583.6" r="2.3" fill="#000"/>
<circle cx="1141.7" cy="1574.3" r="2.3" fill="#000"/>
<circle cx="926.1" cy="1583.6" r="2.3" fill="#000"/>
<circle cx="1041.6" cy="1522" r="2.3" fill="#000"/>
<circle cx="1279.2" cy="1439" r="2.3" fill="#000"/>
<circle cx="1146.3" cy="1551.6" r="2.3" fill="#000"/>
<circle cx="1227.1" cy="1533.4" r="2.3" fill="#000"/>
<circle cx="1106" cy="1546.9" r="2.3" fill="#000"/>
<circle cx="1232.7" cy="1475.2" r="2.3" fill="#000"/>
<circle cx="1186.9" cy="1514.1" r="2.3" fill="#000"/>
<circle cx="1007.6" cy="1504.4" r="2.3" fill="#000"/>
<circle cx="1069.7" cy="1553.4" r="2.3" fill="#000"/>
<circle cx="986" cy="1518.5" r="2.3" fill="#000"/>
<circle cx="1147.4" cy="1485.7" r="2.3" fill="#000"/>
<circle cx="997.1" cy="1529.7" r="2.3" fill="#000"/>
<circle cx="992.3" cy="1531.7" r="2.3" fill="#000"/>
<circle cx="1229.6" cy="1439.2" r="2.3" fill="#000"/>
<circle cx="1094.5" cy="1525" r="2.3" fill="#000"/>
<circle cx="984.5" cy="1513.6" r="2.3" fill="#000"/>
<circle cx="942.6" cy="1583.6" r="2.3" fill="#000"/>
<circle cx="947" cy="1530.3" r="2.3" fill="#000"/>
<circle cx="929.3" cy="1578.1" r="2.3" fill="#000"/>
<circle cx="1073.9" cy="1502.3" r="2.3" fill="#000"/>
<circle cx="933.8" cy="1521.2" r="2.3" fill="#000"/>
<circle cx="976.3" cy="1528.9" r="2.3" fill="#000"/>
<circle cx="1158.4" cy="1485.2" r="2.3" fill="#000"/>
<circle cx="1261.2" cy="1463.1" r="2.3" fill="#000"/>
<circle cx="1106.4" cy="1526.8" r="2.3" fill="#000"/>
<circle cx="1272.4" cy="1488.3" r="2.3" fill="#000"/>
<circle cx="991.9" cy="1583.6" r="2.3" fill="#000"/>
<circle cx="925.7" cy="1576.3" r="2.3" fill="#000"/>
<circle cx="970" cy="1567.8" r="2.3" fill="#000"/>
<circle cx="1170.2" cy="1540.1" r="2.3" fill="#000"/>
<circle cx="1275.9" cy="1464.9" r="2.3" fill="#000"/>
<circle cx="1252.1" cy="1512.1" r="2.3" fill="#000"/>
<circle cx="1129.3" cy="1486.9" r="2.3" fill="#000"/>
<circle cx="952.4" cy="1509" r="2.3" fill="#000"/>
<circle cx="1043.4" cy="1538.6" r="2.3" fill="#000"/>
<circle cx="1081.3" cy="1560.6" r="2.3" fill="#000"/>
<circle cx="1262.4" cy="1454.9" r="2.3" fill="#000"/>
<circle cx="987.8" cy="1559" r="2.3" fill="#000"/>
<circle cx="1059.4" cy="1565.1" r="2.3" fill="#000"/>
<circle cx="1119.6" cy="1583.6" r="2.3" fill="#000"/>
<circle cx="1228.5" cy="1496.9" r="2.3" fill="#000"/>
<circle cx="1182.4" cy="1530" r="2.3" fill="#000"/>
<circle cx="1105.6" cy="1527" r="2.3" fill="#000"/>
<circle cx="1005.3" cy="1498.6" r="2.3" fill="#000"/>
<circle cx="1128.1" cy="1528.5" r="2.3" fill="#000"/>
<circle cx="1003.3" cy="1548.6" r="2.3" fill="#000"/>
<circle cx="1265" cy="1466.1" r="2.3" fill="#000"/>
<circle cx="1030.7" cy="1583.6" r="2.3" fill="#000"/>
<circle cx="1075.8" cy="1583.6" r="2.3" fill="#000"/>
<circle cx="1214" cy="1547.5" r="2.3" fill="#000"/>
<circle cx="976.6" cy="1536.2" r="2.3" fill="#000"/>
<circle cx="1111.1" cy="1508.4" r="2.3" fill="#000"/>
<circle cx="1073.6" cy="1577.8" r="2.3" fill="#000"/>
<circle cx="983.5" cy="1526.9" r="2.3" fill="#000"/>
<circle cx="1133" cy="1583.6" r="2.3" fill="#000"/>
<circle cx="922.2" cy="1556.2" r="2.3" fill="#000"/>
<circle cx="1089.8" cy="1485.5" r="2.3" fill="#000"/>
<circle cx="1156.2" cy="1495.3" r="2.3" fill="#000"/>
<circle cx="1221.4" cy="1504.7" r="2.3" fill="#000"/>
<circle cx="1248.9" cy="1558.8" r="2.3" fill="#000"/>
<circle cx="979.5" cy="1489.2" r="2.3" fill="#000"/>
<circle cx="1192.5" cy="1489.2" r="2.3" fill="#000"/>
<circle cx="1211.1" cy="1469.4" r="2.3" fill="#000"/>
<circle cx="1031.4" cy="1515.4" r="2.3" fill="#000"/>
<circle cx="1212.8" cy="1452.2" r="2.3" fill="#000"/>
<circle cx="1105.4" cy="1566.8" r="2.3" fill="#000"/>
<circle cx="1016.3" cy="1489.7" r="2.3" fill="#000"/>
<circle cx="938.2" cy="1538.7" r="2.3" fill="#000"/>
<circle cx="1039.3" cy="1541.4" r="2.3" fill="#000"/>
<circle cx="987.6" cy="1583.6" r="2.3" fill="#000"/>
<circle cx="1169.7" cy="1583.6" r="2.3" fill="#000"/>
<circle cx="1038.3" cy="1540.4" r="2.3" fill="#000"/>
<circle cx="969.2" cy="1526.2" r="2.3" fill="#000"/>
<circle cx="1163" cy="1498.7" r="2.3" fill="#000"/>
<circle cx="1278" cy="1583.6" r="2.3" fill="#000"/>
<circle cx="1055" cy="1486.8" r="2.3" fill="#000"/>
<circle cx="1268" cy="1478" r="2.3" fill="#000"/>
<circle cx="1137.9" cy="1523.9" r="2.3" fill="#000"/>
<path d="M898.3,1564.7 C901.8,1563.3 912.3,1559.1 919.2,1556.5 C926.2,1553.8 933.2,1551.2 940.2,1548.9 C947.2,1546.6 954.2,1544.5 961.1,1542.6 C968.1,1540.7 975.1,1539.1 982.1,1537.5 C989.1,1536 996.1,1534.4 1003,1533.1 C1010,1531.9 1017.7,1530.7 1024,1530 C1030.3,1529.2 1035.5,1528.7 1040.8,1528.7 C1046,1528.7 1049.5,1529.3 1055.4,1530 C1061.4,1530.6 1067.6,1531.8 1076.4,1532.5 C1085.1,1533.2 1099.1,1534.3 1107.8,1534.4 C1116.5,1534.5 1121.8,1534 1128.8,1533.1 C1135.7,1532.3 1142.7,1531 1149.7,1529.3 C1156.7,1527.7 1163.7,1525.3 1170.7,1523 C1177.6,1520.7 1184.6,1518.2 1191.6,1515.5 C1198.6,1512.7 1205.6,1509.8 1212.5,1506.6 C1219.5,1503.5 1226.5,1500.1 1233.5,1496.5 C1240.5,1492.9 1245.7,1490.1 1254.4,1485.2 C1263.2,1480.2 1280.6,1469.9 1285.9,1466.9" fill="none" stroke="#d42028" stroke-width="2.7"/>
<text x="877" y="1400.8" font-size="28.5" font-weight="bold" font-style="italic" textLength="86" lengthAdjust="spacingAndGlyphs">Foxo3</text>
<text x="1096.4" y="1657.6" font-size="28.3" text-anchor="middle" textLength="166" lengthAdjust="spacingAndGlyphs">Losing score</text>
<text transform="translate(828.7,1509.2) rotate(-90)" font-size="29" text-anchor="middle">log<tspan font-size="19" dy="7">10</tspan><tspan dy="-7"> norm. counts</tspan></text>
<rect x="232.2" y="1735.3" width="422.7" height="176.3" fill="#ebebeb"/>
<line x1="303.8" y1="1735.3" x2="303.8" y2="1911.6" stroke="#f5f5f5" stroke-width="1.3"/>
<line x1="407" y1="1735.3" x2="407" y2="1911.6" stroke="#f5f5f5" stroke-width="1.3"/>
<line x1="510.4" y1="1735.3" x2="510.4" y2="1911.6" stroke="#f5f5f5" stroke-width="1.3"/>
<line x1="613.6" y1="1735.3" x2="613.6" y2="1911.6" stroke="#f5f5f5" stroke-width="1.3"/>
<line x1="232.2" y1="1881.2" x2="654.9" y2="1881.2" stroke="#f5f5f5" stroke-width="1.3"/>
<line x1="232.2" y1="1834.8" x2="654.9" y2="1834.8" stroke="#f5f5f5" stroke-width="1.3"/>
<line x1="232.2" y1="1788.4" x2="654.9" y2="1788.4" stroke="#f5f5f5" stroke-width="1.3"/>
<line x1="232.2" y1="1742" x2="654.9" y2="1742" stroke="#f5f5f5" stroke-width="1.3"/>
<line x1="252.1" y1="1735.3" x2="252.1" y2="1911.6" stroke="#ffffff" stroke-width="2.2"/>
<line x1="355.4" y1="1735.3" x2="355.4" y2="1911.6" stroke="#ffffff" stroke-width="2.2"/>
<line x1="458.7" y1="1735.3" x2="458.7" y2="1911.6" stroke="#ffffff" stroke-width="2.2"/>
<line x1="562" y1="1735.3" x2="562" y2="1911.6" stroke="#ffffff" stroke-width="2.2"/>
<line x1="232.2" y1="1904.4" x2="654.9" y2="1904.4" stroke="#ffffff" stroke-width="2.2"/>
<line x1="232.2" y1="1858" x2="654.9" y2="1858" stroke="#ffffff" stroke-width="2.2"/>
<line x1="232.2" y1="1811.6" x2="654.9" y2="1811.6" stroke="#ffffff" stroke-width="2.2"/>
<line x1="232.2" y1="1765.2" x2="654.9" y2="1765.2" stroke="#ffffff" stroke-width="2.2"/>
<line x1="252.1" y1="1911.6" x2="252.1" y2="1915.1" stroke="#555" stroke-width="1.5"/>
<text x="252.4" y="1939.6" font-size="25" text-anchor="middle" textLength="35.5" lengthAdjust="spacingAndGlyphs">0.0</text>
<line x1="355.4" y1="1911.6" x2="355.4" y2="1915.1" stroke="#555" stroke-width="1.5"/>
<text x="355.7" y="1939.6" font-size="25" text-anchor="middle" textLength="35.5" lengthAdjust="spacingAndGlyphs">0.5</text>
<line x1="458.7" y1="1911.6" x2="458.7" y2="1915.1" stroke="#555" stroke-width="1.5"/>
<text x="459" y="1939.6" font-size="25" text-anchor="middle" textLength="35.5" lengthAdjust="spacingAndGlyphs">1.0</text>
<line x1="562" y1="1911.6" x2="562" y2="1915.1" stroke="#555" stroke-width="1.5"/>
<text x="562.3" y="1939.6" font-size="25" text-anchor="middle" textLength="35.5" lengthAdjust="spacingAndGlyphs">1.5</text>
<line x1="228.7" y1="1904.4" x2="232.2" y2="1904.4" stroke="#555" stroke-width="1.5"/>
<text x="221.5" y="1909" font-size="25.5" text-anchor="end" textLength="14" lengthAdjust="spacingAndGlyphs">0</text>
<line x1="228.7" y1="1858" x2="232.2" y2="1858" stroke="#555" stroke-width="1.5"/>
<text x="221.5" y="1862.6" font-size="25.5" text-anchor="end" textLength="14" lengthAdjust="spacingAndGlyphs">1</text>
<line x1="228.7" y1="1811.6" x2="232.2" y2="1811.6" stroke="#555" stroke-width="1.5"/>
<text x="221.5" y="1816.2" font-size="25.5" text-anchor="end" textLength="14" lengthAdjust="spacingAndGlyphs">2</text>
<line x1="228.7" y1="1765.2" x2="232.2" y2="1765.2" stroke="#555" stroke-width="1.5"/>
<text x="221.5" y="1769.8" font-size="25.5" text-anchor="end" textLength="14" lengthAdjust="spacingAndGlyphs">3</text>
<circle cx="264.1" cy="1852.1" r="2.3" fill="#000"/>
<circle cx="261.9" cy="1904.4" r="2.3" fill="#000"/>
<circle cx="259.4" cy="1904.4" r="2.3" fill="#000"/>
<circle cx="263.3" cy="1881.2" r="2.3" fill="#000"/>
<circle cx="260.7" cy="1904.4" r="2.3" fill="#000"/>
<circle cx="262" cy="1904.4" r="2.3" fill="#000"/>
<circle cx="255.2" cy="1867.9" r="2.3" fill="#000"/>
<circle cx="258.2" cy="1887.6" r="2.3" fill="#000"/>
<circle cx="254.4" cy="1904.4" r="2.3" fill="#000"/>
<circle cx="268.4" cy="1904.4" r="2.3" fill="#000"/>
<circle cx="266.7" cy="1904.4" r="2.3" fill="#000"/>
<circle cx="259.7" cy="1891.4" r="2.3" fill="#000"/>
<circle cx="270.1" cy="1886.2" r="2.3" fill="#000"/>
<circle cx="253.7" cy="1887.3" r="2.3" fill="#000"/>
<circle cx="260.2" cy="1904.4" r="2.3" fill="#000"/>
<circle cx="258.9" cy="1904.4" r="2.3" fill="#000"/>
<circle cx="256.4" cy="1847.7" r="2.3" fill="#000"/>
<circle cx="255.6" cy="1889.3" r="2.3" fill="#000"/>
<circle cx="265.4" cy="1904.4" r="2.3" fill="#000"/>
<circle cx="262.1" cy="1878.8" r="2.3" fill="#000"/>
<circle cx="258" cy="1904.4" r="2.3" fill="#000"/>
<circle cx="262.7" cy="1904.4" r="2.3" fill="#000"/>
<circle cx="262.5" cy="1883.2" r="2.3" fill="#000"/>
<circle cx="261.2" cy="1904.4" r="2.3" fill="#000"/>
<circle cx="277.9" cy="1884" r="2.3" fill="#000"/>
<circle cx="265.3" cy="1904.4" r="2.3" fill="#000"/>
<circle cx="260.3" cy="1904.4" r="2.3" fill="#000"/>
<circle cx="267.6" cy="1904.4" r="2.3" fill="#000"/>
<circle cx="262.4" cy="1904.4" r="2.3" fill="#000"/>
<circle cx="262" cy="1904.4" r="2.3" fill="#000"/>
<circle cx="261" cy="1891.4" r="2.3" fill="#000"/>
<circle cx="265.6" cy="1872" r="2.3" fill="#000"/>
<circle cx="263.4" cy="1904.4" r="2.3" fill="#000"/>
<circle cx="259.9" cy="1865.8" r="2.3" fill="#000"/>
<circle cx="261.6" cy="1904.4" r="2.3" fill="#000"/>
<circle cx="254.3" cy="1904.4" r="2.3" fill="#000"/>
<circle cx="265" cy="1904.4" r="2.3" fill="#000"/>
<circle cx="262.5" cy="1904.4" r="2.3" fill="#000"/>
<circle cx="266.8" cy="1904.4" r="2.3" fill="#000"/>
<circle cx="258.8" cy="1904.4" r="2.3" fill="#000"/>
<circle cx="355" cy="1806.7" r="2.3" fill="#000"/>
<circle cx="579.4" cy="1764.3" r="2.3" fill="#000"/>
<circle cx="567.9" cy="1804.4" r="2.3" fill="#000"/>
<circle cx="379.5" cy="1843.2" r="2.3" fill="#000"/>
<circle cx="399.4" cy="1834.7" r="2.3" fill="#000"/>
<circle cx="329.8" cy="1904.4" r="2.3" fill="#000"/>
<circle cx="431.6" cy="1837.6" r="2.3" fill="#000"/>
<circle cx="354" cy="1823.7" r="2.3" fill="#000"/>
<circle cx="378.5" cy="1852" r="2.3" fill="#000"/>
<circle cx="297.7" cy="1904.4" r="2.3" fill="#000"/>
<circle cx="603.2" cy="1775.3" r="2.3" fill="#000"/>
<circle cx="600.6" cy="1815.1" r="2.3" fill="#000"/>
<circle cx="335.6" cy="1836.5" r="2.3" fill="#000"/>
<circle cx="616.2" cy="1742" r="2.3" fill="#000"/>
<circle cx="365.1" cy="1807.6" r="2.3" fill="#000"/>
<circle cx="344.9" cy="1840.9" r="2.3" fill="#000"/>
<circle cx="335.4" cy="1818.3" r="2.3" fill="#000"/>
<circle cx="275.5" cy="1903.6" r="2.3" fill="#000"/>
<circle cx="291" cy="1904.4" r="2.3" fill="#000"/>
<circle cx="445.7" cy="1904.4" r="2.3" fill="#000"/>
<circle cx="292.8" cy="1845.2" r="2.3" fill="#000"/>
<circle cx="585.2" cy="1770" r="2.3" fill="#000"/>
<circle cx="388.3" cy="1824.3" r="2.3" fill="#000"/>
<circle cx="404.7" cy="1804.5" r="2.3" fill="#000"/>
<circle cx="318" cy="1904.4" r="2.3" fill="#000"/>
<circle cx="338.1" cy="1837.3" r="2.3" fill="#000"/>
<circle cx="559" cy="1811.4" r="2.3" fill="#000"/>
<circle cx="408.9" cy="1798.7" r="2.3" fill="#000"/>
<circle cx="426.5" cy="1831.1" r="2.3" fill="#000"/>
<circle cx="527" cy="1820" r="2.3" fill="#000"/>
<circle cx="428.5" cy="1794.5" r="2.3" fill="#000"/>
<circle cx="562" cy="1815.4" r="2.3" fill="#000"/>
<circle cx="317.8" cy="1826.7" r="2.3" fill="#000"/>
<circle cx="516.9" cy="1829.5" r="2.3" fill="#000"/>
<circle cx="310.5" cy="1842.2" r="2.3" fill="#000"/>
<circle cx="289" cy="1904.4" r="2.3" fill="#000"/>
<circle cx="594.7" cy="1770.1" r="2.3" fill="#000"/>
<circle cx="581.4" cy="1774.8" r="2.3" fill="#000"/>
<circle cx="621" cy="1786.6" r="2.3" fill="#000"/>
<circle cx="459.7" cy="1838" r="2.3" fill="#000"/>
<circle cx="546.6" cy="1787.8" r="2.3" fill="#000"/>
<circle cx="575.6" cy="1783.4" r="2.3" fill="#000"/>
<circle cx="364.2" cy="1842.7" r="2.3" fill="#000"/>
<circle cx="417.8" cy="1842" r="2.3" fill="#000"/>
<circle cx="303.2" cy="1892.5" r="2.3" fill="#000"/>
<circle cx="331.5" cy="1830.4" r="2.3" fill="#000"/>
<circle cx="519.2" cy="1824.9" r="2.3" fill="#000"/>
<circle cx="327.4" cy="1834.4" r="2.3" fill="#000"/>
<circle cx="607.9" cy="1784.2" r="2.3" fill="#000"/>
<circle cx="370.5" cy="1821.6" r="2.3" fill="#000"/>
<circle cx="387.9" cy="1814.9" r="2.3" fill="#000"/>
<circle cx="530.7" cy="1773.3" r="2.3" fill="#000"/>
<circle cx="486.6" cy="1858.8" r="2.3" fill="#000"/>
<circle cx="412.7" cy="1813.4" r="2.3" fill="#000"/>
<circle cx="325.3" cy="1818.5" r="2.3" fill="#000"/>
<circle cx="491.8" cy="1847" r="2.3" fill="#000"/>
<circle cx="448.8" cy="1818.2" r="2.3" fill="#000"/>
<circle cx="419.1" cy="1827.3" r="2.3" fill="#000"/>
<circle cx="358.6" cy="1866.2" r="2.3" fill="#000"/>
<circle cx="623.3" cy="1749.7" r="2.3" fill="#000"/>
<circle cx="341.2" cy="1837.2" r="2.3" fill="#000"/>
<circle cx="601.8" cy="1769.4" r="2.3" fill="#000"/>
<circle cx="539.3" cy="1904.4" r="2.3" fill="#000"/>
<circle cx="577.7" cy="1784.2" r="2.3" fill="#000"/>
<circle cx="275.3" cy="1904.4" r="2.3" fill="#000"/>
<circle cx="450.4" cy="1818.8" r="2.3" fill="#000"/>
<circle cx="471.8" cy="1797.3" r="2.3" fill="#000"/>
<circle cx="516.1" cy="1904.4" r="2.3" fill="#000"/>
<circle cx="617" cy="1742" r="2.3" fill="#000"/>
<circle cx="549.7" cy="1799.7" r="2.3" fill="#000"/>
<circle cx="369.9" cy="1794.3" r="2.3" fill="#000"/>
<circle cx="518.8" cy="1813.3" r="2.3" fill="#000"/>
<circle cx="535.4" cy="1800.2" r="2.3" fill="#000"/>
<circle cx="339.3" cy="1842.5" r="2.3" fill="#000"/>
<circle cx="512.4" cy="1826.9" r="2.3" fill="#000"/>
<circle cx="324.5" cy="1847.4" r="2.3" fill="#000"/>
<circle cx="509.5" cy="1783.6" r="2.3" fill="#000"/>
<circle cx="337.3" cy="1802.6" r="2.3" fill="#000"/>
<circle cx="543.2" cy="1783.3" r="2.3" fill="#000"/>
<circle cx="413" cy="1817.7" r="2.3" fill="#000"/>
<circle cx="553.9" cy="1794.2" r="2.3" fill="#000"/>
<circle cx="420.3" cy="1852.2" r="2.3" fill="#000"/>
<circle cx="313.8" cy="1904.4" r="2.3" fill="#000"/>
<circle cx="314" cy="1833.4" r="2.3" fill="#000"/>
<circle cx="425.1" cy="1852" r="2.3" fill="#000"/>
<circle cx="546.5" cy="1801.9" r="2.3" fill="#000"/>
<circle cx="465.7" cy="1826.9" r="2.3" fill="#000"/>
<circle cx="364.2" cy="1819.8" r="2.3" fill="#000"/>
<circle cx="619.9" cy="1763.6" r="2.3" fill="#000"/>
<circle cx="486" cy="1848.3" r="2.3" fill="#000"/>
<circle cx="587.3" cy="1811.5" r="2.3" fill="#000"/>
<circle cx="538.6" cy="1766.7" r="2.3" fill="#000"/>
<circle cx="464.2" cy="1821.4" r="2.3" fill="#000"/>
<circle cx="466.4" cy="1801.1" r="2.3" fill="#000"/>
<circle cx="479.7" cy="1813.2" r="2.3" fill="#000"/>
<circle cx="322.3" cy="1828.1" r="2.3" fill="#000"/>
<circle cx="358.1" cy="1845.6" r="2.3" fill="#000"/>
<circle cx="612.8" cy="1778.7" r="2.3" fill="#000"/>
<circle cx="586.6" cy="1743.8" r="2.3" fill="#000"/>
<circle cx="534.6" cy="1799.6" r="2.3" fill="#000"/>
<circle cx="587.8" cy="1791.3" r="2.3" fill="#000"/>
<circle cx="450.1" cy="1820.6" r="2.3" fill="#000"/>
<circle cx="331.6" cy="1827" r="2.3" fill="#000"/>
<circle cx="469.3" cy="1843.1" r="2.3" fill="#000"/>
<circle cx="549.6" cy="1780.3" r="2.3" fill="#000"/>
<circle cx="601.7" cy="1771.5" r="2.3" fill="#000"/>
<circle cx="490.9" cy="1904.4" r="2.3" fill="#000"/>
<circle cx="349.2" cy="1822.2" r="2.3" fill="#000"/>
<circle cx="349.3" cy="1833.8" r="2.3" fill="#000"/>
<circle cx="334.3" cy="1820.6" r="2.3" fill="#000"/>
<circle cx="294.6" cy="1904.4" r="2.3" fill="#000"/>
<circle cx="291.5" cy="1904.4" r="2.3" fill="#000"/>
<circle cx="282.5" cy="1904.4" r="2.3" fill="#000"/>
<circle cx="333" cy="1832.2" r="2.3" fill="#000"/>
<circle cx="318.1" cy="1809.7" r="2.3" fill="#000"/>
<circle cx="442.9" cy="1816.7" r="2.3" fill="#000"/>
<circle cx="364.2" cy="1823.9" r="2.3" fill="#000"/>
<circle cx="307" cy="1810.6" r="2.3" fill="#000"/>
<circle cx="489.3" cy="1810.6" r="2.3" fill="#000"/>
<circle cx="286.1" cy="1856.7" r="2.3" fill="#000"/>
<circle cx="602" cy="1753.7" r="2.3" fill="#000"/>
<circle cx="608.2" cy="1904.4" r="2.3" fill="#000"/>
<circle cx="384.2" cy="1851.5" r="2.3" fill="#000"/>
<circle cx="583.6" cy="1803.8" r="2.3" fill="#000"/>
<circle cx="395" cy="1835.2" r="2.3" fill="#000"/>
<circle cx="541.2" cy="1832.6" r="2.3" fill="#000"/>
<circle cx="610.5" cy="1775.9" r="2.3" fill="#000"/>
<circle cx="448.5" cy="1811.1" r="2.3" fill="#000"/>
<circle cx="536.3" cy="1819.7" r="2.3" fill="#000"/>
<circle cx="329" cy="1904.4" r="2.3" fill="#000"/>
<circle cx="443.5" cy="1824.4" r="2.3" fill="#000"/>
<circle cx="581.3" cy="1804.8" r="2.3" fill="#000"/>
<circle cx="591.7" cy="1809" r="2.3" fill="#000"/>
<circle cx="408.1" cy="1808.6" r="2.3" fill="#000"/>
<circle cx="622.2" cy="1904.4" r="2.3" fill="#000"/>
<circle cx="510.1" cy="1904.4" r="2.3" fill="#000"/>
<circle cx="328.6" cy="1889.3" r="2.3" fill="#000"/>
<circle cx="626.5" cy="1751.9" r="2.3" fill="#000"/>
<circle cx="493.8" cy="1791.3" r="2.3" fill="#000"/>
<circle cx="341.6" cy="1823.5" r="2.3" fill="#000"/>
<circle cx="281.5" cy="1904.4" r="2.3" fill="#000"/>
<circle cx="599.4" cy="1752.5" r="2.3" fill="#000"/>
<circle cx="497.8" cy="1802.2" r="2.3" fill="#000"/>
<circle cx="591.5" cy="1787" r="2.3" fill="#000"/>
<circle cx="578.2" cy="1760" r="2.3" fill="#000"/>
<circle cx="348.1" cy="1904.4" r="2.3" fill="#000"/>
<circle cx="399.3" cy="1904.4" r="2.3" fill="#000"/>
<circle cx="474.9" cy="1820.9" r="2.3" fill="#000"/>
<circle cx="351.1" cy="1842" r="2.3" fill="#000"/>
<circle cx="395.3" cy="1824.8" r="2.3" fill="#000"/>
<circle cx="613.2" cy="1759.6" r="2.3" fill="#000"/>
<circle cx="633.5" cy="1783.8" r="2.3" fill="#000"/>
<circle cx="619.4" cy="1786" r="2.3" fill="#000"/>
<circle cx="449.8" cy="1822" r="2.3" fill="#000"/>
<circle cx="379.6" cy="1836.2" r="2.3" fill="#000"/>
<circle cx="307.8" cy="1844.9" r="2.3" fill="#000"/>
<circle cx="287.6" cy="1904.4" r="2.3" fill="#000"/>
<circle cx="430.9" cy="1841.2" r="2.3" fill="#000"/>
<circle cx="310.6" cy="1816.6" r="2.3" fill="#000"/>
<circle cx="301.1" cy="1829.3" r="2.3" fill="#000"/>
<circle cx="631" cy="1742" r="2.3" fill="#000"/>
<circle cx="331.8" cy="1837.6" r="2.3" fill="#000"/>
<circle cx="404.3" cy="1801.3" r="2.3" fill="#000"/>
<circle cx="442.1" cy="1801.7" r="2.3" fill="#000"/>
<circle cx="567.7" cy="1833.2" r="2.3" fill="#000"/>
<circle cx="333.4" cy="1813.5" r="2.3" fill="#000"/>
<circle cx="554.3" cy="1838.2" r="2.3" fill="#000"/>
<circle cx="285.6" cy="1904.4" r="2.3" fill="#000"/>
<circle cx="430.9" cy="1904.4" r="2.3" fill="#000"/>
<circle cx="386.7" cy="1813.1" r="2.3" fill="#000"/>
<circle cx="425.7" cy="1824.5" r="2.3" fill="#000"/>
<circle cx="519.7" cy="1799.3" r="2.3" fill="#000"/>
<circle cx="363.2" cy="1801.3" r="2.3" fill="#000"/>
<circle cx="576.6" cy="1758.1" r="2.3" fill="#000"/>
<circle cx="334.5" cy="1803.7" r="2.3" fill="#000"/>
<circle cx="443.7" cy="1823" r="2.3" fill="#000"/>
<circle cx="570.4" cy="1797.8" r="2.3" fill="#000"/>
<circle cx="339.7" cy="1838.2" r="2.3" fill="#000"/>
<circle cx="472.8" cy="1833.5" r="2.3" fill="#000"/>
<circle cx="438.2" cy="1816.6" r="2.3" fill="#000"/>
<circle cx="387.9" cy="1835.9" r="2.3" fill="#000"/>
<circle cx="613.3" cy="1904.4" r="2.3" fill="#000"/>
<circle cx="482.8" cy="1836.4" r="2.3" fill="#000"/>
<circle cx="606.1" cy="1772.4" r="2.3" fill="#000"/>
<circle cx="408.5" cy="1857.6" r="2.3" fill="#000"/>
<circle cx="344.1" cy="1829.3" r="2.3" fill="#000"/>
<circle cx="412.9" cy="1814" r="2.3" fill="#000"/>
<circle cx="617.9" cy="1773.9" r="2.3" fill="#000"/>
<circle cx="375.9" cy="1904.4" r="2.3" fill="#000"/>
<circle cx="356.8" cy="1904.4" r="2.3" fill="#000"/>
<circle cx="465.2" cy="1823.1" r="2.3" fill="#000"/>
<circle cx="274.7" cy="1899.4" r="2.3" fill="#000"/>
<circle cx="298.1" cy="1904.4" r="2.3" fill="#000"/>
<circle cx="290" cy="1833.6" r="2.3" fill="#000"/>
<circle cx="325.5" cy="1824" r="2.3" fill="#000"/>
<circle cx="509.3" cy="1904.4" r="2.3" fill="#000"/>
<circle cx="550.5" cy="1786.8" r="2.3" fill="#000"/>
<circle cx="290.6" cy="1904.4" r="2.3" fill="#000"/>
<circle cx="412.6" cy="1807.5" r="2.3" fill="#000"/>
<circle cx="320.8" cy="1824.4" r="2.3" fill="#000"/>
<circle cx="401.6" cy="1813" r="2.3" fill="#000"/>
<circle cx="637.3" cy="1754.9" r="2.3" fill="#000"/>
<circle cx="402.3" cy="1799.8" r="2.3" fill="#000"/>
<circle cx="280.6" cy="1867.3" r="2.3" fill="#000"/>
<circle cx="558.7" cy="1806.3" r="2.3" fill="#000"/>
<circle cx="468.2" cy="1829.1" r="2.3" fill="#000"/>
<circle cx="490.1" cy="1783.5" r="2.3" fill="#000"/>
<circle cx="579.9" cy="1793" r="2.3" fill="#000"/>
<circle cx="346.8" cy="1778.9" r="2.3" fill="#000"/>
<circle cx="314.7" cy="1902.9" r="2.3" fill="#000"/>
<circle cx="523.4" cy="1825.9" r="2.3" fill="#000"/>
<circle cx="306.6" cy="1861.5" r="2.3" fill="#000"/>
<circle cx="390.9" cy="1822.5" r="2.3" fill="#000"/>
<circle cx="389.1" cy="1832.9" r="2.3" fill="#000"/>
<circle cx="588" cy="1756.5" r="2.3" fill="#000"/>
<circle cx="629.9" cy="1755.6" r="2.3" fill="#000"/>
<circle cx="397.5" cy="1809.4" r="2.3" fill="#000"/>
<circle cx="626.3" cy="1775.4" r="2.3" fill="#000"/>
<circle cx="633.5" cy="1746.8" r="2.3" fill="#000"/>
<circle cx="498.7" cy="1795.2" r="2.3" fill="#000"/>
<circle cx="294.5" cy="1904.4" r="2.3" fill="#000"/>
<circle cx="631.6" cy="1761.8" r="2.3" fill="#000"/>
<circle cx="430.4" cy="1815.7" r="2.3" fill="#000"/>
<circle cx="405" cy="1826.2" r="2.3" fill="#000"/>
<circle cx="511.1" cy="1787.8" r="2.3" fill="#000"/>
<circle cx="326.2" cy="1829.6" r="2.3" fill="#000"/>
<circle cx="302.6" cy="1904.4" r="2.3" fill="#000"/>
<circle cx="283.5" cy="1897.4" r="2.3" fill="#000"/>
<circle cx="575.7" cy="1790.5" r="2.3" fill="#000"/>
<circle cx="434.2" cy="1828.9" r="2.3" fill="#000"/>
<circle cx="446.6" cy="1833.4" r="2.3" fill="#000"/>
<circle cx="342.2" cy="1904.4" r="2.3" fill="#000"/>
<circle cx="401.2" cy="1846.1" r="2.3" fill="#000"/>
<circle cx="414.9" cy="1831.5" r="2.3" fill="#000"/>
<circle cx="502.6" cy="1820.8" r="2.3" fill="#000"/>
<circle cx="525.5" cy="1818.1" r="2.3" fill="#000"/>
<circle cx="548.3" cy="1807.6" r="2.3" fill="#000"/>
<circle cx="427.1" cy="1798.5" r="2.3" fill="#000"/>
<circle cx="485.9" cy="1836.4" r="2.3" fill="#000"/>
<circle cx="416.1" cy="1867.4" r="2.3" fill="#000"/>
<path d="M252.1,1897.4 C255.5,1894.7 265.9,1886.6 272.8,1881.2 C279.6,1875.8 286.5,1869.8 293.4,1865 C300.3,1860.2 307.2,1856.1 314.1,1852.4 C321,1848.7 327.9,1845.4 334.7,1842.7 C341.6,1840 348.5,1837.9 355.4,1836.2 C362.3,1834.5 369.9,1833.3 376.1,1832.5 C382.3,1831.7 387.4,1831.3 392.6,1831.6 C397.8,1831.8 401.2,1832.7 407,1833.9 C412.9,1835 421.9,1837.5 427.7,1838.5 C433.6,1839.5 437,1840.1 442.2,1839.9 C447.3,1839.7 452.5,1838.4 458.7,1837.1 C464.9,1835.8 472.5,1833.9 479.4,1832 C486.2,1830.1 493.1,1827.8 500,1825.5 C506.9,1823.2 513.8,1820.7 520.7,1818.1 C527.6,1815.5 534.5,1812.6 541.3,1809.7 C548.2,1806.9 555.1,1803.9 562,1800.9 C568.9,1797.9 575.8,1794.9 582.7,1791.6 C589.5,1788.4 594.4,1785.8 603.3,1781.4 C612.3,1777 630.9,1767.9 636.4,1765.2" fill="none" stroke="#d42028" stroke-width="2.7"/>
<text x="224" y="1728.6" font-size="28.5" font-weight="bold" font-style="italic" textLength="73" lengthAdjust="spacingAndGlyphs">Ddit3</text>
<text x="441.3" y="1975.2" font-size="28.3" text-anchor="middle" textLength="166" lengthAdjust="spacingAndGlyphs">Losing score</text>
<text transform="translate(169.1,1826.2) rotate(-90)" font-size="29" text-anchor="middle">log<tspan font-size="19" dy="7">10</tspan><tspan dy="-7"> norm. counts</tspan></text>
<rect x="879.7" y="1735.1" width="427.6" height="179.2" fill="#ebebeb"/>
<line x1="951.6" y1="1735.1" x2="951.6" y2="1914.3" stroke="#f5f5f5" stroke-width="1.3"/>
<line x1="1056.4" y1="1735.1" x2="1056.4" y2="1914.3" stroke="#f5f5f5" stroke-width="1.3"/>
<line x1="1161.2" y1="1735.1" x2="1161.2" y2="1914.3" stroke="#f5f5f5" stroke-width="1.3"/>
<line x1="1266" y1="1735.1" x2="1266" y2="1914.3" stroke="#f5f5f5" stroke-width="1.3"/>
<line x1="879.7" y1="1875.6" x2="1307.3" y2="1875.6" stroke="#f5f5f5" stroke-width="1.3"/>
<line x1="879.7" y1="1814.8" x2="1307.3" y2="1814.8" stroke="#f5f5f5" stroke-width="1.3"/>
<line x1="879.7" y1="1754" x2="1307.3" y2="1754" stroke="#f5f5f5" stroke-width="1.3"/>
<line x1="899.2" y1="1735.1" x2="899.2" y2="1914.3" stroke="#ffffff" stroke-width="2.2"/>
<line x1="1004" y1="1735.1" x2="1004" y2="1914.3" stroke="#ffffff" stroke-width="2.2"/>
<line x1="1108.8" y1="1735.1" x2="1108.8" y2="1914.3" stroke="#ffffff" stroke-width="2.2"/>
<line x1="1213.6" y1="1735.1" x2="1213.6" y2="1914.3" stroke="#ffffff" stroke-width="2.2"/>
<line x1="879.7" y1="1906" x2="1307.3" y2="1906" stroke="#ffffff" stroke-width="2.2"/>
<line x1="879.7" y1="1845.2" x2="1307.3" y2="1845.2" stroke="#ffffff" stroke-width="2.2"/>
<line x1="879.7" y1="1784.4" x2="1307.3" y2="1784.4" stroke="#ffffff" stroke-width="2.2"/>
<line x1="899.2" y1="1914.3" x2="899.2" y2="1917.8" stroke="#555" stroke-width="1.5"/>
<text x="899.5" y="1939" font-size="25" text-anchor="middle" textLength="35.5" lengthAdjust="spacingAndGlyphs">0.0</text>
<line x1="1004" y1="1914.3" x2="1004" y2="1917.8" stroke="#555" stroke-width="1.5"/>
<text x="1004.3" y="1939" font-size="25" text-anchor="middle" textLength="35.5" lengthAdjust="spacingAndGlyphs">0.5</text>
<line x1="1108.8" y1="1914.3" x2="1108.8" y2="1917.8" stroke="#555" stroke-width="1.5"/>
<text x="1109.1" y="1939" font-size="25" text-anchor="middle" textLength="35.5" lengthAdjust="spacingAndGlyphs">1.0</text>
<line x1="1213.6" y1="1914.3" x2="1213.6" y2="1917.8" stroke="#555" stroke-width="1.5"/>
<text x="1213.9" y="1939" font-size="25" text-anchor="middle" textLength="35.5" lengthAdjust="spacingAndGlyphs">1.5</text>
<line x1="876.2" y1="1906" x2="879.7" y2="1906" stroke="#555" stroke-width="1.5"/>
<text x="866" y="1910.6" font-size="25.5" text-anchor="end" textLength="14" lengthAdjust="spacingAndGlyphs">0</text>
<line x1="876.2" y1="1845.2" x2="879.7" y2="1845.2" stroke="#555" stroke-width="1.5"/>
<text x="866" y="1849.8" font-size="25.5" text-anchor="end" textLength="14" lengthAdjust="spacingAndGlyphs">1</text>
<line x1="876.2" y1="1784.4" x2="879.7" y2="1784.4" stroke="#555" stroke-width="1.5"/>
<text x="866" y="1789" font-size="25.5" text-anchor="end" textLength="14" lengthAdjust="spacingAndGlyphs">2</text>
<circle cx="911" cy="1804.8" r="2.3" fill="#000"/>
<circle cx="916.6" cy="1805.6" r="2.3" fill="#000"/>
<circle cx="911.2" cy="1826.1" r="2.3" fill="#000"/>
<circle cx="912.1" cy="1805.6" r="2.3" fill="#000"/>
<circle cx="916.2" cy="1842.2" r="2.3" fill="#000"/>
<circle cx="907.5" cy="1789.5" r="2.3" fill="#000"/>
<circle cx="912.7" cy="1818.5" r="2.3" fill="#000"/>
<circle cx="906.8" cy="1813.8" r="2.3" fill="#000"/>
<circle cx="922.3" cy="1827.5" r="2.3" fill="#000"/>
<circle cx="917.6" cy="1825.9" r="2.3" fill="#000"/>
<circle cx="904.2" cy="1814.4" r="2.3" fill="#000"/>
<circle cx="913.6" cy="1800" r="2.3" fill="#000"/>
<circle cx="919.2" cy="1805.7" r="2.3" fill="#000"/>
<circle cx="905.1" cy="1810.4" r="2.3" fill="#000"/>
<circle cx="907.1" cy="1807" r="2.3" fill="#000"/>
<circle cx="904.3" cy="1789.6" r="2.3" fill="#000"/>
<circle cx="913.1" cy="1831.4" r="2.3" fill="#000"/>
<circle cx="921.3" cy="1811.7" r="2.3" fill="#000"/>
<circle cx="916.3" cy="1785.9" r="2.3" fill="#000"/>
<circle cx="913.3" cy="1906" r="2.3" fill="#000"/>
<circle cx="921.3" cy="1819.6" r="2.3" fill="#000"/>
<circle cx="902.3" cy="1836.6" r="2.3" fill="#000"/>
<circle cx="907.5" cy="1809.9" r="2.3" fill="#000"/>
<circle cx="910.3" cy="1861.8" r="2.3" fill="#000"/>
<circle cx="920.4" cy="1815" r="2.3" fill="#000"/>
<circle cx="913.5" cy="1836.9" r="2.3" fill="#000"/>
<circle cx="909.1" cy="1857.3" r="2.3" fill="#000"/>
<circle cx="911" cy="1797.1" r="2.3" fill="#000"/>
<circle cx="916.1" cy="1792.4" r="2.3" fill="#000"/>
<circle cx="910.2" cy="1794.7" r="2.3" fill="#000"/>
<circle cx="912.2" cy="1870.4" r="2.3" fill="#000"/>
<circle cx="910.9" cy="1800.8" r="2.3" fill="#000"/>
<circle cx="912" cy="1808.6" r="2.3" fill="#000"/>
<circle cx="917.1" cy="1814.2" r="2.3" fill="#000"/>
<circle cx="913.4" cy="1842.3" r="2.3" fill="#000"/>
<circle cx="913.8" cy="1777.2" r="2.3" fill="#000"/>
<circle cx="906" cy="1790.6" r="2.3" fill="#000"/>
<circle cx="913.8" cy="1833.7" r="2.3" fill="#000"/>
<circle cx="909.1" cy="1772.3" r="2.3" fill="#000"/>
<circle cx="916" cy="1840.9" r="2.3" fill="#000"/>
<circle cx="908.8" cy="1816.5" r="2.3" fill="#000"/>
<circle cx="908.8" cy="1840.7" r="2.3" fill="#000"/>
<circle cx="906.3" cy="1822.9" r="2.3" fill="#000"/>
<circle cx="919.3" cy="1790.9" r="2.3" fill="#000"/>
<circle cx="899.9" cy="1825.3" r="2.3" fill="#000"/>
<circle cx="904.3" cy="1779.8" r="2.3" fill="#000"/>
<circle cx="909.3" cy="1867.3" r="2.3" fill="#000"/>
<circle cx="906.7" cy="1821.1" r="2.3" fill="#000"/>
<circle cx="908.6" cy="1815.9" r="2.3" fill="#000"/>
<circle cx="910.6" cy="1793.6" r="2.3" fill="#000"/>
<circle cx="914.7" cy="1818.1" r="2.3" fill="#000"/>
<circle cx="915" cy="1805.7" r="2.3" fill="#000"/>
<circle cx="912.5" cy="1832.6" r="2.3" fill="#000"/>
<circle cx="910.2" cy="1778.9" r="2.3" fill="#000"/>
<circle cx="916" cy="1803.2" r="2.3" fill="#000"/>
<circle cx="905.1" cy="1805.4" r="2.3" fill="#000"/>
<circle cx="907.9" cy="1825.4" r="2.3" fill="#000"/>
<circle cx="917.4" cy="1797.3" r="2.3" fill="#000"/>
<circle cx="910.9" cy="1875.2" r="2.3" fill="#000"/>
<circle cx="914.1" cy="1827.2" r="2.3" fill="#000"/>
<circle cx="904.1" cy="1833" r="2.3" fill="#000"/>
<circle cx="916.7" cy="1823.7" r="2.3" fill="#000"/>
<circle cx="918.2" cy="1836.8" r="2.3" fill="#000"/>
<circle cx="917.6" cy="1788.8" r="2.3" fill="#000"/>
<circle cx="912.5" cy="1807.6" r="2.3" fill="#000"/>
<circle cx="916.7" cy="1777.8" r="2.3" fill="#000"/>
<circle cx="905.6" cy="1906" r="2.3" fill="#000"/>
<circle cx="919.2" cy="1822.2" r="2.3" fill="#000"/>
<circle cx="906.1" cy="1769.2" r="2.3" fill="#000"/>
<circle cx="912.7" cy="1797.3" r="2.3" fill="#000"/>
<circle cx="1103.9" cy="1847.1" r="2.3" fill="#000"/>
<circle cx="1202.2" cy="1774.6" r="2.3" fill="#000"/>
<circle cx="1196.6" cy="1786.4" r="2.3" fill="#000"/>
<circle cx="1032.5" cy="1793" r="2.3" fill="#000"/>
<circle cx="1181.2" cy="1795.8" r="2.3" fill="#000"/>
<circle cx="1041.3" cy="1852.3" r="2.3" fill="#000"/>
<circle cx="1068.8" cy="1852.5" r="2.3" fill="#000"/>
<circle cx="1072.8" cy="1797" r="2.3" fill="#000"/>
<circle cx="1148.2" cy="1793.1" r="2.3" fill="#000"/>
<circle cx="1151.4" cy="1789.6" r="2.3" fill="#000"/>
<circle cx="1261.5" cy="1765.4" r="2.3" fill="#000"/>
<circle cx="954" cy="1812.6" r="2.3" fill="#000"/>
<circle cx="1208.8" cy="1769.4" r="2.3" fill="#000"/>
<circle cx="1031.2" cy="1799.4" r="2.3" fill="#000"/>
<circle cx="1123.1" cy="1803.6" r="2.3" fill="#000"/>
<circle cx="1114.7" cy="1828" r="2.3" fill="#000"/>
<circle cx="965.3" cy="1758.7" r="2.3" fill="#000"/>
<circle cx="1180.6" cy="1766.3" r="2.3" fill="#000"/>
<circle cx="1273.6" cy="1747.4" r="2.3" fill="#000"/>
<circle cx="1188.6" cy="1806.3" r="2.3" fill="#000"/>
<circle cx="977.4" cy="1865" r="2.3" fill="#000"/>
<circle cx="1244.7" cy="1775.4" r="2.3" fill="#000"/>
<circle cx="1042" cy="1791.3" r="2.3" fill="#000"/>
<circle cx="930.6" cy="1810.1" r="2.3" fill="#000"/>
<circle cx="978.3" cy="1813.8" r="2.3" fill="#000"/>
<circle cx="1006.2" cy="1830.1" r="2.3" fill="#000"/>
<circle cx="1226.4" cy="1785.5" r="2.3" fill="#000"/>
<circle cx="1261.9" cy="1754.5" r="2.3" fill="#000"/>
<circle cx="1138" cy="1882.2" r="2.3" fill="#000"/>
<circle cx="1160.1" cy="1819.1" r="2.3" fill="#000"/>
<circle cx="934" cy="1822" r="2.3" fill="#000"/>
<circle cx="1034.2" cy="1820" r="2.3" fill="#000"/>
<circle cx="1046" cy="1789.9" r="2.3" fill="#000"/>
<circle cx="1164.4" cy="1824.1" r="2.3" fill="#000"/>
<circle cx="1115.7" cy="1812.9" r="2.3" fill="#000"/>
<circle cx="1104.9" cy="1828.3" r="2.3" fill="#000"/>
<circle cx="946.6" cy="1819.2" r="2.3" fill="#000"/>
<circle cx="1178.6" cy="1750.6" r="2.3" fill="#000"/>
<circle cx="920.5" cy="1779.1" r="2.3" fill="#000"/>
<circle cx="1151" cy="1809.8" r="2.3" fill="#000"/>
<circle cx="973.9" cy="1835.8" r="2.3" fill="#000"/>
<circle cx="1030.8" cy="1780.2" r="2.3" fill="#000"/>
<circle cx="932.8" cy="1854.8" r="2.3" fill="#000"/>
<circle cx="1031" cy="1783.8" r="2.3" fill="#000"/>
<circle cx="1181.5" cy="1806.4" r="2.3" fill="#000"/>
<circle cx="1265.9" cy="1775" r="2.3" fill="#000"/>
<circle cx="1232.5" cy="1747.1" r="2.3" fill="#000"/>
<circle cx="1015.1" cy="1814.7" r="2.3" fill="#000"/>
<circle cx="1259.4" cy="1771.8" r="2.3" fill="#000"/>
<circle cx="952.3" cy="1821.8" r="2.3" fill="#000"/>
<circle cx="1266.3" cy="1788.7" r="2.3" fill="#000"/>
<circle cx="1046.5" cy="1842.8" r="2.3" fill="#000"/>
<circle cx="981.9" cy="1906" r="2.3" fill="#000"/>
<circle cx="1030.2" cy="1834.2" r="2.3" fill="#000"/>
<circle cx="1234.3" cy="1788" r="2.3" fill="#000"/>
<circle cx="930.3" cy="1811.5" r="2.3" fill="#000"/>
<circle cx="1040.5" cy="1821" r="2.3" fill="#000"/>
<circle cx="1145.3" cy="1831.2" r="2.3" fill="#000"/>
<circle cx="1274.9" cy="1744.9" r="2.3" fill="#000"/>
<circle cx="1283.2" cy="1744.9" r="2.3" fill="#000"/>
<circle cx="1233" cy="1792.8" r="2.3" fill="#000"/>
<circle cx="1122.8" cy="1790.8" r="2.3" fill="#000"/>
<circle cx="1196.1" cy="1861.7" r="2.3" fill="#000"/>
<circle cx="1001.5" cy="1808.9" r="2.3" fill="#000"/>
<circle cx="1047.8" cy="1785.5" r="2.3" fill="#000"/>
<circle cx="1270.5" cy="1762.9" r="2.3" fill="#000"/>
<circle cx="930.2" cy="1797" r="2.3" fill="#000"/>
<circle cx="1191.5" cy="1814.5" r="2.3" fill="#000"/>
<circle cx="1187" cy="1794.3" r="2.3" fill="#000"/>
<circle cx="1052.2" cy="1802.9" r="2.3" fill="#000"/>
<circle cx="931.2" cy="1806.4" r="2.3" fill="#000"/>
<circle cx="1029.8" cy="1838.7" r="2.3" fill="#000"/>
<circle cx="1098.8" cy="1783.9" r="2.3" fill="#000"/>
<circle cx="1142.8" cy="1799" r="2.3" fill="#000"/>
<circle cx="928.6" cy="1842.9" r="2.3" fill="#000"/>
<circle cx="988" cy="1798.4" r="2.3" fill="#000"/>
<circle cx="1036.8" cy="1817" r="2.3" fill="#000"/>
<circle cx="1122.1" cy="1808.7" r="2.3" fill="#000"/>
<circle cx="1015.9" cy="1821.7" r="2.3" fill="#000"/>
<circle cx="1240.2" cy="1756.2" r="2.3" fill="#000"/>
<circle cx="964.5" cy="1793.5" r="2.3" fill="#000"/>
<circle cx="1184" cy="1803.5" r="2.3" fill="#000"/>
<circle cx="1224.4" cy="1773.8" r="2.3" fill="#000"/>
<circle cx="1144.4" cy="1800.3" r="2.3" fill="#000"/>
<circle cx="941.4" cy="1848.5" r="2.3" fill="#000"/>
<circle cx="1025" cy="1804.3" r="2.3" fill="#000"/>
<circle cx="1249.6" cy="1830.1" r="2.3" fill="#000"/>
<circle cx="1236.8" cy="1772.5" r="2.3" fill="#000"/>
<circle cx="1077.6" cy="1814.2" r="2.3" fill="#000"/>
<circle cx="1233.9" cy="1744.9" r="2.3" fill="#000"/>
<circle cx="1262.5" cy="1780.1" r="2.3" fill="#000"/>
<circle cx="921.5" cy="1818.6" r="2.3" fill="#000"/>
<circle cx="1157.8" cy="1770.9" r="2.3" fill="#000"/>
<circle cx="1109.6" cy="1833.6" r="2.3" fill="#000"/>
<circle cx="970.4" cy="1787" r="2.3" fill="#000"/>
<circle cx="1023" cy="1791.2" r="2.3" fill="#000"/>
<circle cx="1158" cy="1751" r="2.3" fill="#000"/>
<circle cx="1122.4" cy="1780.8" r="2.3" fill="#000"/>
<circle cx="1053.5" cy="1807.9" r="2.3" fill="#000"/>
<circle cx="1152" cy="1815.5" r="2.3" fill="#000"/>
<circle cx="1161.8" cy="1814.5" r="2.3" fill="#000"/>
<circle cx="1275.5" cy="1774.5" r="2.3" fill="#000"/>
<circle cx="1274.5" cy="1783.8" r="2.3" fill="#000"/>
<circle cx="1031.5" cy="1804.8" r="2.3" fill="#000"/>
<circle cx="1099.7" cy="1810.3" r="2.3" fill="#000"/>
<circle cx="1240.5" cy="1758.8" r="2.3" fill="#000"/>
<circle cx="1229.7" cy="1774.3" r="2.3" fill="#000"/>
<circle cx="922.2" cy="1805.6" r="2.3" fill="#000"/>
<circle cx="1163.2" cy="1803.3" r="2.3" fill="#000"/>
<circle cx="1066.1" cy="1813.2" r="2.3" fill="#000"/>
<circle cx="1191.8" cy="1787.6" r="2.3" fill="#000"/>
<circle cx="940.7" cy="1871.5" r="2.3" fill="#000"/>
<circle cx="1127.1" cy="1799.9" r="2.3" fill="#000"/>
<circle cx="1049.8" cy="1809.5" r="2.3" fill="#000"/>
<circle cx="1132.7" cy="1798.3" r="2.3" fill="#000"/>
<circle cx="1080.7" cy="1863.8" r="2.3" fill="#000"/>
<circle cx="998.3" cy="1796" r="2.3" fill="#000"/>
<circle cx="1193.9" cy="1782.6" r="2.3" fill="#000"/>
<circle cx="1038" cy="1828.1" r="2.3" fill="#000"/>
<circle cx="958.3" cy="1845.3" r="2.3" fill="#000"/>
<circle cx="1283.7" cy="1752.2" r="2.3" fill="#000"/>
<circle cx="1246.1" cy="1799.5" r="2.3" fill="#000"/>
<circle cx="1263.1" cy="1820.9" r="2.3" fill="#000"/>
<circle cx="1153.7" cy="1799.2" r="2.3" fill="#000"/>
<circle cx="1245.5" cy="1786.5" r="2.3" fill="#000"/>
<circle cx="1075.2" cy="1803.2" r="2.3" fill="#000"/>
<circle cx="1179.5" cy="1795.7" r="2.3" fill="#000"/>
<circle cx="1195.4" cy="1786.8" r="2.3" fill="#000"/>
<circle cx="1186.1" cy="1776.8" r="2.3" fill="#000"/>
<circle cx="1282.2" cy="1761.8" r="2.3" fill="#000"/>
<circle cx="1195.3" cy="1816.9" r="2.3" fill="#000"/>
<circle cx="1200.5" cy="1774.9" r="2.3" fill="#000"/>
<circle cx="1014.5" cy="1848.3" r="2.3" fill="#000"/>
<circle cx="1160.2" cy="1790.1" r="2.3" fill="#000"/>
<circle cx="1033.2" cy="1851.9" r="2.3" fill="#000"/>
<circle cx="1223.3" cy="1807.8" r="2.3" fill="#000"/>
<circle cx="1021.8" cy="1803.8" r="2.3" fill="#000"/>
<circle cx="1156.9" cy="1790" r="2.3" fill="#000"/>
<circle cx="943.6" cy="1839.3" r="2.3" fill="#000"/>
<circle cx="1215.4" cy="1780.4" r="2.3" fill="#000"/>
<circle cx="1133.1" cy="1794.6" r="2.3" fill="#000"/>
<circle cx="1259.8" cy="1837.4" r="2.3" fill="#000"/>
<circle cx="955.8" cy="1801.2" r="2.3" fill="#000"/>
<circle cx="1062.9" cy="1821.5" r="2.3" fill="#000"/>
<circle cx="1101.8" cy="1810.6" r="2.3" fill="#000"/>
<circle cx="1243.7" cy="1770.4" r="2.3" fill="#000"/>
<circle cx="1225.9" cy="1784.3" r="2.3" fill="#000"/>
<circle cx="960" cy="1830.3" r="2.3" fill="#000"/>
<circle cx="1089.2" cy="1793.1" r="2.3" fill="#000"/>
<circle cx="1130" cy="1815.1" r="2.3" fill="#000"/>
<circle cx="1020.4" cy="1791.7" r="2.3" fill="#000"/>
<circle cx="1026.4" cy="1809" r="2.3" fill="#000"/>
<circle cx="978.6" cy="1803.6" r="2.3" fill="#000"/>
<circle cx="1065" cy="1850.8" r="2.3" fill="#000"/>
<circle cx="1147.6" cy="1780.1" r="2.3" fill="#000"/>
<circle cx="1033.8" cy="1837.9" r="2.3" fill="#000"/>
<circle cx="1023.5" cy="1808" r="2.3" fill="#000"/>
<circle cx="989.8" cy="1801.9" r="2.3" fill="#000"/>
<circle cx="922.5" cy="1835.2" r="2.3" fill="#000"/>
<circle cx="980.5" cy="1849" r="2.3" fill="#000"/>
<circle cx="990.8" cy="1808.9" r="2.3" fill="#000"/>
<circle cx="981.3" cy="1862.2" r="2.3" fill="#000"/>
<circle cx="1190.5" cy="1807.7" r="2.3" fill="#000"/>
<circle cx="1055.6" cy="1804.2" r="2.3" fill="#000"/>
<circle cx="1086.8" cy="1827.1" r="2.3" fill="#000"/>
<circle cx="1219" cy="1744.9" r="2.3" fill="#000"/>
<circle cx="961.7" cy="1828.4" r="2.3" fill="#000"/>
<circle cx="1107" cy="1829.5" r="2.3" fill="#000"/>
<circle cx="952" cy="1828.2" r="2.3" fill="#000"/>
<circle cx="978.9" cy="1795.1" r="2.3" fill="#000"/>
<circle cx="1062.6" cy="1801.9" r="2.3" fill="#000"/>
<circle cx="982.5" cy="1796.7" r="2.3" fill="#000"/>
<circle cx="1031.9" cy="1812.4" r="2.3" fill="#000"/>
<circle cx="1169.8" cy="1821.5" r="2.3" fill="#000"/>
<circle cx="932.8" cy="1820.2" r="2.3" fill="#000"/>
<circle cx="1208.1" cy="1814.8" r="2.3" fill="#000"/>
<circle cx="1075.6" cy="1820.2" r="2.3" fill="#000"/>
<circle cx="1064.2" cy="1796.7" r="2.3" fill="#000"/>
<circle cx="1286.9" cy="1762.4" r="2.3" fill="#000"/>
<circle cx="1054.6" cy="1838" r="2.3" fill="#000"/>
<circle cx="1204.5" cy="1767.9" r="2.3" fill="#000"/>
<circle cx="943.5" cy="1791.9" r="2.3" fill="#000"/>
<circle cx="934.6" cy="1818.5" r="2.3" fill="#000"/>
<circle cx="921.2" cy="1826.5" r="2.3" fill="#000"/>
<circle cx="1284.2" cy="1762.1" r="2.3" fill="#000"/>
<circle cx="1218.5" cy="1782.3" r="2.3" fill="#000"/>
<circle cx="1262" cy="1754.9" r="2.3" fill="#000"/>
<circle cx="1192.6" cy="1819.2" r="2.3" fill="#000"/>
<circle cx="983.6" cy="1794.6" r="2.3" fill="#000"/>
<circle cx="942.3" cy="1810" r="2.3" fill="#000"/>
<circle cx="1018.5" cy="1855.3" r="2.3" fill="#000"/>
<circle cx="1022.9" cy="1802.5" r="2.3" fill="#000"/>
<circle cx="1113.6" cy="1808.2" r="2.3" fill="#000"/>
<circle cx="981" cy="1798.2" r="2.3" fill="#000"/>
<circle cx="1023.5" cy="1827.6" r="2.3" fill="#000"/>
<circle cx="1112.4" cy="1824.3" r="2.3" fill="#000"/>
<circle cx="1167.1" cy="1819.5" r="2.3" fill="#000"/>
<circle cx="1063.4" cy="1838.9" r="2.3" fill="#000"/>
<circle cx="1150.5" cy="1799.7" r="2.3" fill="#000"/>
<circle cx="1049" cy="1804.6" r="2.3" fill="#000"/>
<circle cx="1269.8" cy="1744.9" r="2.3" fill="#000"/>
<circle cx="1162" cy="1815.6" r="2.3" fill="#000"/>
<circle cx="1251.2" cy="1774" r="2.3" fill="#000"/>
<circle cx="1249.5" cy="1775.3" r="2.3" fill="#000"/>
<circle cx="1103.8" cy="1761.4" r="2.3" fill="#000"/>
<circle cx="1144.9" cy="1783.9" r="2.3" fill="#000"/>
<circle cx="949.3" cy="1797.4" r="2.3" fill="#000"/>
<circle cx="980.3" cy="1821.1" r="2.3" fill="#000"/>
<circle cx="1126.6" cy="1785" r="2.3" fill="#000"/>
<circle cx="1146.2" cy="1804" r="2.3" fill="#000"/>
<circle cx="1236.5" cy="1775.6" r="2.3" fill="#000"/>
<circle cx="1031.3" cy="1832.4" r="2.3" fill="#000"/>
<circle cx="1265.7" cy="1795" r="2.3" fill="#000"/>
<circle cx="1083" cy="1834.6" r="2.3" fill="#000"/>
<circle cx="1121.7" cy="1798.5" r="2.3" fill="#000"/>
<circle cx="1254.1" cy="1744.9" r="2.3" fill="#000"/>
<circle cx="1225.8" cy="1775.5" r="2.3" fill="#000"/>
<circle cx="1082.9" cy="1812.3" r="2.3" fill="#000"/>
<circle cx="995.9" cy="1807.5" r="2.3" fill="#000"/>
<circle cx="954.3" cy="1805.9" r="2.3" fill="#000"/>
<circle cx="1287.5" cy="1744.9" r="2.3" fill="#000"/>
<circle cx="1173.5" cy="1778.8" r="2.3" fill="#000"/>
<circle cx="1093.9" cy="1783.8" r="2.3" fill="#000"/>
<circle cx="1141" cy="1764.4" r="2.3" fill="#000"/>
<circle cx="941.6" cy="1755.6" r="2.3" fill="#000"/>
<circle cx="1231.1" cy="1776" r="2.3" fill="#000"/>
<circle cx="1160.3" cy="1770.6" r="2.3" fill="#000"/>
<circle cx="1212.1" cy="1838.7" r="2.3" fill="#000"/>
<circle cx="1234" cy="1766" r="2.3" fill="#000"/>
<circle cx="1112.5" cy="1813.9" r="2.3" fill="#000"/>
<path d="M899.2,1820.9 C909.7,1820.6 941.1,1819.7 962.1,1819.1 C983,1818.4 1004,1817.8 1025,1817.2 C1045.9,1816.6 1073.9,1816.4 1087.8,1815.4 C1101.8,1814.4 1101.8,1812.8 1108.8,1811.2 C1115.8,1809.5 1122.8,1807.4 1129.8,1805.7 C1136.7,1804 1142,1802.6 1150.7,1800.8 C1159.5,1799 1171.7,1796.8 1182.2,1794.7 C1192.6,1792.7 1203.1,1790.8 1213.6,1788.7 C1224.1,1786.5 1232.5,1784.7 1245,1782 C1257.6,1779.2 1281.7,1773.9 1289.1,1772.2" fill="none" stroke="#d42028" stroke-width="2.7"/>
<text x="871" y="1726.2" font-size="28.5" font-weight="bold" font-style="italic" textLength="87.5" lengthAdjust="spacingAndGlyphs">Nfe2l2</text>
<text x="1096.4" y="1975.2" font-size="28.3" text-anchor="middle" textLength="166" lengthAdjust="spacingAndGlyphs">Losing score</text>
<text transform="translate(823.3,1838.6) rotate(-90)" font-size="29" text-anchor="middle">log<tspan font-size="19" dy="7">10</tspan><tspan dy="-7"> norm. counts</tspan></text>
<rect x="1465" y="1414.4" width="525.3" height="501.1" fill="#ebebeb"/>
<line x1="1553.2" y1="1414.4" x2="1553.2" y2="1915.5" stroke="#f5f5f5" stroke-width="1.3"/>
<line x1="1681.7" y1="1414.4" x2="1681.7" y2="1915.5" stroke="#f5f5f5" stroke-width="1.3"/>
<line x1="1810.1" y1="1414.4" x2="1810.1" y2="1915.5" stroke="#f5f5f5" stroke-width="1.3"/>
<line x1="1938.6" y1="1414.4" x2="1938.6" y2="1915.5" stroke="#f5f5f5" stroke-width="1.3"/>
<line x1="1465" y1="1812.7" x2="1990.3" y2="1812.7" stroke="#f5f5f5" stroke-width="1.3"/>
<line x1="1465" y1="1652.2" x2="1990.3" y2="1652.2" stroke="#f5f5f5" stroke-width="1.3"/>
<line x1="1465" y1="1491.7" x2="1990.3" y2="1491.7" stroke="#f5f5f5" stroke-width="1.3"/>
<line x1="1489" y1="1414.4" x2="1489" y2="1915.5" stroke="#ffffff" stroke-width="2.2"/>
<line x1="1617.5" y1="1414.4" x2="1617.5" y2="1915.5" stroke="#ffffff" stroke-width="2.2"/>
<line x1="1745.9" y1="1414.4" x2="1745.9" y2="1915.5" stroke="#ffffff" stroke-width="2.2"/>
<line x1="1874.3" y1="1414.4" x2="1874.3" y2="1915.5" stroke="#ffffff" stroke-width="2.2"/>
<line x1="1465" y1="1892.9" x2="1990.3" y2="1892.9" stroke="#ffffff" stroke-width="2.2"/>
<line x1="1465" y1="1732.4" x2="1990.3" y2="1732.4" stroke="#ffffff" stroke-width="2.2"/>
<line x1="1465" y1="1571.9" x2="1990.3" y2="1571.9" stroke="#ffffff" stroke-width="2.2"/>
<line x1="1489" y1="1915.5" x2="1489" y2="1919" stroke="#555" stroke-width="1.5"/>
<text x="1489.3" y="1941.3" font-size="25" text-anchor="middle" textLength="35.5" lengthAdjust="spacingAndGlyphs">0.0</text>
<line x1="1617.5" y1="1915.5" x2="1617.5" y2="1919" stroke="#555" stroke-width="1.5"/>
<text x="1617.8" y="1941.3" font-size="25" text-anchor="middle" textLength="35.5" lengthAdjust="spacingAndGlyphs">0.5</text>
<line x1="1745.9" y1="1915.5" x2="1745.9" y2="1919" stroke="#555" stroke-width="1.5"/>
<text x="1746.2" y="1941.3" font-size="25" text-anchor="middle" textLength="35.5" lengthAdjust="spacingAndGlyphs">1.0</text>
<line x1="1874.3" y1="1915.5" x2="1874.3" y2="1919" stroke="#555" stroke-width="1.5"/>
<text x="1874.6" y="1941.3" font-size="25" text-anchor="middle" textLength="35.5" lengthAdjust="spacingAndGlyphs">1.5</text>
<line x1="1461.5" y1="1892.9" x2="1465" y2="1892.9" stroke="#555" stroke-width="1.5"/>
<text x="1453.8" y="1897.5" font-size="25.5" text-anchor="end" textLength="14" lengthAdjust="spacingAndGlyphs">0</text>
<line x1="1461.5" y1="1732.4" x2="1465" y2="1732.4" stroke="#555" stroke-width="1.5"/>
<text x="1453.8" y="1737" font-size="25.5" text-anchor="end" textLength="14" lengthAdjust="spacingAndGlyphs">1</text>
<line x1="1461.5" y1="1571.9" x2="1465" y2="1571.9" stroke="#555" stroke-width="1.5"/>
<text x="1453.8" y="1576.5" font-size="25.5" text-anchor="end" textLength="14" lengthAdjust="spacingAndGlyphs">2</text>
<circle cx="1494" cy="1715.2" r="2.3" fill="#000"/>
<circle cx="1502" cy="1892.9" r="2.3" fill="#000"/>
<circle cx="1507.1" cy="1627.7" r="2.3" fill="#000"/>
<circle cx="1500.9" cy="1734.1" r="2.3" fill="#000"/>
<circle cx="1500" cy="1548.6" r="2.3" fill="#000"/>
<circle cx="1504.4" cy="1674.8" r="2.3" fill="#000"/>
<circle cx="1518.7" cy="1634.7" r="2.3" fill="#000"/>
<circle cx="1518.7" cy="1646.6" r="2.3" fill="#000"/>
<circle cx="1491.9" cy="1679.8" r="2.3" fill="#000"/>
<circle cx="1495.8" cy="1775.1" r="2.3" fill="#000"/>
<circle cx="1500.1" cy="1631.6" r="2.3" fill="#000"/>
<circle cx="1499.8" cy="1742" r="2.3" fill="#000"/>
<circle cx="1496.8" cy="1634.2" r="2.3" fill="#000"/>
<circle cx="1495.1" cy="1892.9" r="2.3" fill="#000"/>
<circle cx="1500.6" cy="1892.9" r="2.3" fill="#000"/>
<circle cx="1496.4" cy="1778.8" r="2.3" fill="#000"/>
<circle cx="1504.5" cy="1622.8" r="2.3" fill="#000"/>
<circle cx="1515.3" cy="1663.9" r="2.3" fill="#000"/>
<circle cx="1509.1" cy="1582.6" r="2.3" fill="#000"/>
<circle cx="1511.2" cy="1755.3" r="2.3" fill="#000"/>
<circle cx="1489.9" cy="1733.2" r="2.3" fill="#000"/>
<circle cx="1496.7" cy="1668.9" r="2.3" fill="#000"/>
<circle cx="1507" cy="1634.1" r="2.3" fill="#000"/>
<circle cx="1504.4" cy="1636.7" r="2.3" fill="#000"/>
<circle cx="1498.4" cy="1635.8" r="2.3" fill="#000"/>
<circle cx="1495.4" cy="1718.5" r="2.3" fill="#000"/>
<circle cx="1502.1" cy="1638.4" r="2.3" fill="#000"/>
<circle cx="1499.7" cy="1712.2" r="2.3" fill="#000"/>
<circle cx="1493.2" cy="1605.8" r="2.3" fill="#000"/>
<circle cx="1515.1" cy="1544.8" r="2.3" fill="#000"/>
<circle cx="1503.1" cy="1728.6" r="2.3" fill="#000"/>
<circle cx="1504.1" cy="1672.2" r="2.3" fill="#000"/>
<circle cx="1505.6" cy="1582.9" r="2.3" fill="#000"/>
<circle cx="1500.4" cy="1621" r="2.3" fill="#000"/>
<circle cx="1506.4" cy="1702" r="2.3" fill="#000"/>
<circle cx="1513.5" cy="1682.3" r="2.3" fill="#000"/>
<circle cx="1492" cy="1672.7" r="2.3" fill="#000"/>
<circle cx="1511.9" cy="1673.8" r="2.3" fill="#000"/>
<circle cx="1521" cy="1573.3" r="2.3" fill="#000"/>
<circle cx="1503.8" cy="1736.5" r="2.3" fill="#000"/>
<circle cx="1506.4" cy="1687.5" r="2.3" fill="#000"/>
<circle cx="1512.2" cy="1696.3" r="2.3" fill="#000"/>
<circle cx="1515.1" cy="1519.7" r="2.3" fill="#000"/>
<circle cx="1500.2" cy="1607.7" r="2.3" fill="#000"/>
<circle cx="1515.8" cy="1666" r="2.3" fill="#000"/>
<circle cx="1491.7" cy="1650.3" r="2.3" fill="#000"/>
<circle cx="1493.2" cy="1720.1" r="2.3" fill="#000"/>
<circle cx="1493.8" cy="1632.2" r="2.3" fill="#000"/>
<circle cx="1503.9" cy="1635.9" r="2.3" fill="#000"/>
<circle cx="1514.6" cy="1683.9" r="2.3" fill="#000"/>
<circle cx="1659" cy="1701" r="2.3" fill="#000"/>
<circle cx="1687.6" cy="1639.3" r="2.3" fill="#000"/>
<circle cx="1515" cy="1680.6" r="2.3" fill="#000"/>
<circle cx="1701.1" cy="1526.7" r="2.3" fill="#000"/>
<circle cx="1793.7" cy="1755.3" r="2.3" fill="#000"/>
<circle cx="1950.4" cy="1469.2" r="2.3" fill="#000"/>
<circle cx="1884.4" cy="1554.6" r="2.3" fill="#000"/>
<circle cx="1771.1" cy="1635.3" r="2.3" fill="#000"/>
<circle cx="1791.4" cy="1889.2" r="2.3" fill="#000"/>
<circle cx="1772" cy="1618.9" r="2.3" fill="#000"/>
<circle cx="1685.6" cy="1607" r="2.3" fill="#000"/>
<circle cx="1647.2" cy="1532.7" r="2.3" fill="#000"/>
<circle cx="1785.6" cy="1602" r="2.3" fill="#000"/>
<circle cx="1740.4" cy="1638.5" r="2.3" fill="#000"/>
<circle cx="1644.9" cy="1557.3" r="2.3" fill="#000"/>
<circle cx="1797.4" cy="1627.1" r="2.3" fill="#000"/>
<circle cx="1520.7" cy="1620.1" r="2.3" fill="#000"/>
<circle cx="1940" cy="1461" r="2.3" fill="#000"/>
<circle cx="1964.3" cy="1477.3" r="2.3" fill="#000"/>
<circle cx="1730.5" cy="1641.6" r="2.3" fill="#000"/>
<circle cx="1860.5" cy="1598" r="2.3" fill="#000"/>
<circle cx="1667.5" cy="1600" r="2.3" fill="#000"/>
<circle cx="1853.5" cy="1495.3" r="2.3" fill="#000"/>
<circle cx="1629.5" cy="1682.3" r="2.3" fill="#000"/>
<circle cx="1521.3" cy="1604" r="2.3" fill="#000"/>
<circle cx="1776.4" cy="1615.1" r="2.3" fill="#000"/>
<circle cx="1690" cy="1656.8" r="2.3" fill="#000"/>
<circle cx="1604" cy="1892.9" r="2.3" fill="#000"/>
<circle cx="1830.5" cy="1605.5" r="2.3" fill="#000"/>
<circle cx="1579.6" cy="1576.2" r="2.3" fill="#000"/>
<circle cx="1741" cy="1615.6" r="2.3" fill="#000"/>
<circle cx="1545.8" cy="1588.8" r="2.3" fill="#000"/>
<circle cx="1874.7" cy="1540.3" r="2.3" fill="#000"/>
<circle cx="1968.6" cy="1451.3" r="2.3" fill="#000"/>
<circle cx="1897.6" cy="1499.9" r="2.3" fill="#000"/>
<circle cx="1575.9" cy="1526.2" r="2.3" fill="#000"/>
<circle cx="1582.8" cy="1629.1" r="2.3" fill="#000"/>
<circle cx="1534.5" cy="1653.9" r="2.3" fill="#000"/>
<circle cx="1547.4" cy="1553.1" r="2.3" fill="#000"/>
<circle cx="1575.8" cy="1572" r="2.3" fill="#000"/>
<circle cx="1787.6" cy="1706.7" r="2.3" fill="#000"/>
<circle cx="1831.8" cy="1561.1" r="2.3" fill="#000"/>
<circle cx="1744.7" cy="1550.5" r="2.3" fill="#000"/>
<circle cx="1765.5" cy="1632.6" r="2.3" fill="#000"/>
<circle cx="1749.8" cy="1578.4" r="2.3" fill="#000"/>
<circle cx="1596.2" cy="1559" r="2.3" fill="#000"/>
<circle cx="1553.5" cy="1618.2" r="2.3" fill="#000"/>
<circle cx="1623.2" cy="1597.9" r="2.3" fill="#000"/>
<circle cx="1661.7" cy="1578.4" r="2.3" fill="#000"/>
<circle cx="1583.3" cy="1601.9" r="2.3" fill="#000"/>
<circle cx="1616.1" cy="1483.9" r="2.3" fill="#000"/>
<circle cx="1578.2" cy="1507" r="2.3" fill="#000"/>
<circle cx="1621.6" cy="1612.9" r="2.3" fill="#000"/>
<circle cx="1576.7" cy="1536.3" r="2.3" fill="#000"/>
<circle cx="1880.5" cy="1615.1" r="2.3" fill="#000"/>
<circle cx="1775.4" cy="1559.6" r="2.3" fill="#000"/>
<circle cx="1558.8" cy="1650.6" r="2.3" fill="#000"/>
<circle cx="1733.4" cy="1601.5" r="2.3" fill="#000"/>
<circle cx="1796.4" cy="1591.3" r="2.3" fill="#000"/>
<circle cx="1560" cy="1587.3" r="2.3" fill="#000"/>
<circle cx="1915" cy="1471.6" r="2.3" fill="#000"/>
<circle cx="1640.8" cy="1557.6" r="2.3" fill="#000"/>
<circle cx="1529.3" cy="1592.9" r="2.3" fill="#000"/>
<circle cx="1941.2" cy="1494.4" r="2.3" fill="#000"/>
<circle cx="1568.3" cy="1664.7" r="2.3" fill="#000"/>
<circle cx="1821.4" cy="1892.9" r="2.3" fill="#000"/>
<circle cx="1619.5" cy="1892.9" r="2.3" fill="#000"/>
<circle cx="1656.5" cy="1505.2" r="2.3" fill="#000"/>
<circle cx="1847.7" cy="1562.3" r="2.3" fill="#000"/>
<circle cx="1942.3" cy="1493.8" r="2.3" fill="#000"/>
<circle cx="1958.2" cy="1431.4" r="2.3" fill="#000"/>
<circle cx="1535.1" cy="1620.8" r="2.3" fill="#000"/>
<circle cx="1750.7" cy="1683.5" r="2.3" fill="#000"/>
<circle cx="1738" cy="1587.2" r="2.3" fill="#000"/>
<circle cx="1695.4" cy="1622.7" r="2.3" fill="#000"/>
<circle cx="1538" cy="1742.3" r="2.3" fill="#000"/>
<circle cx="1697.6" cy="1599.1" r="2.3" fill="#000"/>
<circle cx="1657.4" cy="1534.2" r="2.3" fill="#000"/>
<circle cx="1904.3" cy="1892.9" r="2.3" fill="#000"/>
<circle cx="1760.1" cy="1663.1" r="2.3" fill="#000"/>
<circle cx="1844.6" cy="1553.6" r="2.3" fill="#000"/>
<circle cx="1718.9" cy="1584.5" r="2.3" fill="#000"/>
<circle cx="1554.5" cy="1637.5" r="2.3" fill="#000"/>
<circle cx="1657" cy="1567.3" r="2.3" fill="#000"/>
<circle cx="1709.6" cy="1583" r="2.3" fill="#000"/>
<circle cx="1542.6" cy="1619.9" r="2.3" fill="#000"/>
<circle cx="1684.6" cy="1735.5" r="2.3" fill="#000"/>
<circle cx="1767.5" cy="1579.7" r="2.3" fill="#000"/>
<circle cx="1860.1" cy="1592.9" r="2.3" fill="#000"/>
<circle cx="1948.8" cy="1482.1" r="2.3" fill="#000"/>
<circle cx="1636.4" cy="1560.8" r="2.3" fill="#000"/>
<circle cx="1591.7" cy="1630.1" r="2.3" fill="#000"/>
<circle cx="1644.5" cy="1503.2" r="2.3" fill="#000"/>
<circle cx="1537.7" cy="1587.4" r="2.3" fill="#000"/>
<circle cx="1905.7" cy="1442" r="2.3" fill="#000"/>
<circle cx="1679.5" cy="1892.9" r="2.3" fill="#000"/>
<circle cx="1780.4" cy="1848.9" r="2.3" fill="#000"/>
<circle cx="1592.5" cy="1599.3" r="2.3" fill="#000"/>
<circle cx="1568.4" cy="1648.7" r="2.3" fill="#000"/>
<circle cx="1724.3" cy="1648.6" r="2.3" fill="#000"/>
<circle cx="1756.9" cy="1580.1" r="2.3" fill="#000"/>
<circle cx="1561.8" cy="1780.1" r="2.3" fill="#000"/>
<circle cx="1529.6" cy="1675.1" r="2.3" fill="#000"/>
<circle cx="1612.7" cy="1606.8" r="2.3" fill="#000"/>
<circle cx="1770.4" cy="1649.3" r="2.3" fill="#000"/>
<circle cx="1627.6" cy="1516.5" r="2.3" fill="#000"/>
<circle cx="1901.1" cy="1545.7" r="2.3" fill="#000"/>
<circle cx="1737.6" cy="1661.4" r="2.3" fill="#000"/>
<circle cx="1924" cy="1466.2" r="2.3" fill="#000"/>
<circle cx="1662" cy="1621.2" r="2.3" fill="#000"/>
<circle cx="1685.9" cy="1826.4" r="2.3" fill="#000"/>
<circle cx="1691.6" cy="1596.4" r="2.3" fill="#000"/>
<circle cx="1656.6" cy="1621.4" r="2.3" fill="#000"/>
<circle cx="1961.4" cy="1427.5" r="2.3" fill="#000"/>
<circle cx="1829.7" cy="1598.8" r="2.3" fill="#000"/>
<circle cx="1784.6" cy="1646.7" r="2.3" fill="#000"/>
<circle cx="1643.9" cy="1560.3" r="2.3" fill="#000"/>
<circle cx="1860.1" cy="1536.9" r="2.3" fill="#000"/>
<circle cx="1937.2" cy="1746.9" r="2.3" fill="#000"/>
<circle cx="1819.3" cy="1478.2" r="2.3" fill="#000"/>
<circle cx="1850.5" cy="1581.8" r="2.3" fill="#000"/>
<circle cx="1749.6" cy="1573.6" r="2.3" fill="#000"/>
<circle cx="1693.6" cy="1694" r="2.3" fill="#000"/>
<circle cx="1923.7" cy="1466.6" r="2.3" fill="#000"/>
<circle cx="1690.5" cy="1534.3" r="2.3" fill="#000"/>
<circle cx="1684.8" cy="1542.6" r="2.3" fill="#000"/>
<circle cx="1653.6" cy="1587.7" r="2.3" fill="#000"/>
<circle cx="1802.4" cy="1519.9" r="2.3" fill="#000"/>
<circle cx="1543.2" cy="1697.9" r="2.3" fill="#000"/>
<circle cx="1704.2" cy="1632.3" r="2.3" fill="#000"/>
<circle cx="1926.1" cy="1495.9" r="2.3" fill="#000"/>
<circle cx="1599.8" cy="1762.7" r="2.3" fill="#000"/>
<circle cx="1598.3" cy="1543.6" r="2.3" fill="#000"/>
<circle cx="1808.6" cy="1848.5" r="2.3" fill="#000"/>
<circle cx="1894.2" cy="1475.7" r="2.3" fill="#000"/>
<circle cx="1936.1" cy="1483.6" r="2.3" fill="#000"/>
<circle cx="1897" cy="1535.7" r="2.3" fill="#000"/>
<circle cx="1556.9" cy="1602.2" r="2.3" fill="#000"/>
<circle cx="1562.4" cy="1597.7" r="2.3" fill="#000"/>
<circle cx="1838.9" cy="1641.6" r="2.3" fill="#000"/>
<circle cx="1798.9" cy="1566.7" r="2.3" fill="#000"/>
<circle cx="1608.6" cy="1587" r="2.3" fill="#000"/>
<circle cx="1824.1" cy="1575.1" r="2.3" fill="#000"/>
<circle cx="1685.3" cy="1609.4" r="2.3" fill="#000"/>
<circle cx="1684.9" cy="1612" r="2.3" fill="#000"/>
<circle cx="1547.5" cy="1663.4" r="2.3" fill="#000"/>
<circle cx="1649.3" cy="1538.6" r="2.3" fill="#000"/>
<circle cx="1932.3" cy="1439.7" r="2.3" fill="#000"/>
<circle cx="1741.5" cy="1630" r="2.3" fill="#000"/>
<circle cx="1667.9" cy="1663.2" r="2.3" fill="#000"/>
<circle cx="1537.6" cy="1650.4" r="2.3" fill="#000"/>
<circle cx="1637.9" cy="1892.9" r="2.3" fill="#000"/>
<circle cx="1690.3" cy="1571.6" r="2.3" fill="#000"/>
<circle cx="1676.5" cy="1584.2" r="2.3" fill="#000"/>
<circle cx="1522.2" cy="1637.3" r="2.3" fill="#000"/>
<circle cx="1688.8" cy="1606.4" r="2.3" fill="#000"/>
<circle cx="1716" cy="1601.1" r="2.3" fill="#000"/>
<circle cx="1641.6" cy="1508" r="2.3" fill="#000"/>
<circle cx="1693.3" cy="1612.9" r="2.3" fill="#000"/>
<circle cx="1784.6" cy="1537.6" r="2.3" fill="#000"/>
<circle cx="1525.5" cy="1669.7" r="2.3" fill="#000"/>
<circle cx="1912.2" cy="1449" r="2.3" fill="#000"/>
<circle cx="1858.6" cy="1642.9" r="2.3" fill="#000"/>
<circle cx="1869.8" cy="1652.4" r="2.3" fill="#000"/>
<circle cx="1706.3" cy="1535.9" r="2.3" fill="#000"/>
<circle cx="1645" cy="1591" r="2.3" fill="#000"/>
<circle cx="1548.3" cy="1632.8" r="2.3" fill="#000"/>
<circle cx="1917.3" cy="1489.6" r="2.3" fill="#000"/>
<circle cx="1787" cy="1584.6" r="2.3" fill="#000"/>
<circle cx="1933.1" cy="1464.5" r="2.3" fill="#000"/>
<circle cx="1636" cy="1583.4" r="2.3" fill="#000"/>
<circle cx="1867.2" cy="1507.2" r="2.3" fill="#000"/>
<circle cx="1555.6" cy="1558.8" r="2.3" fill="#000"/>
<circle cx="1685.2" cy="1626.5" r="2.3" fill="#000"/>
<circle cx="1624.2" cy="1539.2" r="2.3" fill="#000"/>
<circle cx="1762.7" cy="1603.3" r="2.3" fill="#000"/>
<circle cx="1518.4" cy="1661.7" r="2.3" fill="#000"/>
<circle cx="1743.9" cy="1808.6" r="2.3" fill="#000"/>
<circle cx="1532.1" cy="1745.6" r="2.3" fill="#000"/>
<circle cx="1719.3" cy="1662.2" r="2.3" fill="#000"/>
<circle cx="1839" cy="1653.7" r="2.3" fill="#000"/>
<circle cx="1964" cy="1451.5" r="2.3" fill="#000"/>
<circle cx="1718.7" cy="1572.8" r="2.3" fill="#000"/>
<circle cx="1691.5" cy="1555.5" r="2.3" fill="#000"/>
<circle cx="1577.4" cy="1612" r="2.3" fill="#000"/>
<circle cx="1772" cy="1793.4" r="2.3" fill="#000"/>
<circle cx="1670.2" cy="1505.6" r="2.3" fill="#000"/>
<circle cx="1871" cy="1438.7" r="2.3" fill="#000"/>
<circle cx="1891.7" cy="1552.3" r="2.3" fill="#000"/>
<circle cx="1634.5" cy="1612.8" r="2.3" fill="#000"/>
<circle cx="1922.7" cy="1589.1" r="2.3" fill="#000"/>
<circle cx="1769.9" cy="1585.1" r="2.3" fill="#000"/>
<circle cx="1910.9" cy="1591.5" r="2.3" fill="#000"/>
<circle cx="1792.7" cy="1604" r="2.3" fill="#000"/>
<circle cx="1946.2" cy="1448" r="2.3" fill="#000"/>
<circle cx="1545.1" cy="1602.4" r="2.3" fill="#000"/>
<circle cx="1920.3" cy="1492.7" r="2.3" fill="#000"/>
<circle cx="1569.5" cy="1615.4" r="2.3" fill="#000"/>
<circle cx="1650.5" cy="1498.6" r="2.3" fill="#000"/>
<circle cx="1726.4" cy="1600.4" r="2.3" fill="#000"/>
<circle cx="1634.4" cy="1638.6" r="2.3" fill="#000"/>
<circle cx="1550.7" cy="1669.6" r="2.3" fill="#000"/>
<circle cx="1577.8" cy="1562.9" r="2.3" fill="#000"/>
<circle cx="1718" cy="1695.2" r="2.3" fill="#000"/>
<circle cx="1739.2" cy="1649.2" r="2.3" fill="#000"/>
<circle cx="1767.2" cy="1626" r="2.3" fill="#000"/>
<circle cx="1648.2" cy="1622.1" r="2.3" fill="#000"/>
<circle cx="1677.3" cy="1557.3" r="2.3" fill="#000"/>
<circle cx="1949.5" cy="1482" r="2.3" fill="#000"/>
<circle cx="1667.7" cy="1528.6" r="2.3" fill="#000"/>
<circle cx="1537.4" cy="1578.5" r="2.3" fill="#000"/>
<circle cx="1804" cy="1591.8" r="2.3" fill="#000"/>
<circle cx="1558.3" cy="1662.7" r="2.3" fill="#000"/>
<circle cx="1543.2" cy="1663.3" r="2.3" fill="#000"/>
<circle cx="1943.7" cy="1438.4" r="2.3" fill="#000"/>
<circle cx="1703.9" cy="1694.9" r="2.3" fill="#000"/>
<circle cx="1771.6" cy="1604.9" r="2.3" fill="#000"/>
<circle cx="1944.8" cy="1440.6" r="2.3" fill="#000"/>
<circle cx="1864.2" cy="1698.9" r="2.3" fill="#000"/>
<circle cx="1761.5" cy="1635.9" r="2.3" fill="#000"/>
<circle cx="1709.2" cy="1582.7" r="2.3" fill="#000"/>
<circle cx="1932.2" cy="1526.9" r="2.3" fill="#000"/>
<circle cx="1883.4" cy="1480.3" r="2.3" fill="#000"/>
<circle cx="1539.1" cy="1568" r="2.3" fill="#000"/>
<circle cx="1775.7" cy="1617.8" r="2.3" fill="#000"/>
<circle cx="1853.1" cy="1554.4" r="2.3" fill="#000"/>
<circle cx="1575.7" cy="1540.1" r="2.3" fill="#000"/>
<circle cx="1846.2" cy="1427.5" r="2.3" fill="#000"/>
<circle cx="1555.5" cy="1506.2" r="2.3" fill="#000"/>
<circle cx="1904.5" cy="1467.5" r="2.3" fill="#000"/>
<circle cx="1629.2" cy="1515.4" r="2.3" fill="#000"/>
<circle cx="1842.4" cy="1501.7" r="2.3" fill="#000"/>
<circle cx="1805.3" cy="1528.2" r="2.3" fill="#000"/>
<circle cx="1932.8" cy="1484.7" r="2.3" fill="#000"/>
<circle cx="1705.7" cy="1553.7" r="2.3" fill="#000"/>
<circle cx="1573" cy="1892.9" r="2.3" fill="#000"/>
<circle cx="1943.8" cy="1531.1" r="2.3" fill="#000"/>
<circle cx="1815.4" cy="1660" r="2.3" fill="#000"/>
<circle cx="1847.5" cy="1512.9" r="2.3" fill="#000"/>
<circle cx="1794.1" cy="1892.9" r="2.3" fill="#000"/>
<circle cx="1874.3" cy="1562.2" r="2.3" fill="#000"/>
<circle cx="1534.3" cy="1675.7" r="2.3" fill="#000"/>
<circle cx="1957.7" cy="1461" r="2.3" fill="#000"/>
<circle cx="1891.7" cy="1546.4" r="2.3" fill="#000"/>
<circle cx="1639.2" cy="1719.9" r="2.3" fill="#000"/>
<circle cx="1743.8" cy="1655.2" r="2.3" fill="#000"/>
<circle cx="1849" cy="1600.8" r="2.3" fill="#000"/>
<circle cx="1826.7" cy="1616.6" r="2.3" fill="#000"/>
<circle cx="1540.5" cy="1648.5" r="2.3" fill="#000"/>
<circle cx="1714" cy="1621.6" r="2.3" fill="#000"/>
<path d="M1489,1689.1 C1493.3,1684.8 1506.1,1671.4 1514.7,1663.4 C1523.3,1655.4 1531.8,1647.6 1540.4,1640.9 C1548.9,1634.2 1557.5,1628.3 1566.1,1623.3 C1574.6,1618.2 1583.2,1613.6 1591.8,1610.4 C1600.3,1607.2 1608.9,1605.3 1617.5,1604 C1626,1602.7 1634.6,1601.9 1643.1,1602.4 C1651.7,1602.9 1660.3,1604.8 1668.8,1607.2 C1677.4,1609.6 1686,1613.9 1694.5,1616.8 C1703.1,1619.8 1711.6,1623.3 1720.2,1624.9 C1728.8,1626.5 1737.3,1626.7 1745.9,1626.5 C1754.5,1626.2 1763,1625.4 1771.6,1623.3 C1780.2,1621.1 1788.7,1617.6 1797.3,1613.6 C1805.8,1609.6 1814.4,1604.8 1823,1599.2 C1831.5,1593.6 1840.1,1586.6 1848.7,1579.9 C1857.2,1573.2 1865.8,1566.5 1874.3,1559.1 C1882.9,1551.6 1891.5,1543.5 1900,1535 C1908.6,1526.4 1915,1519.2 1925.7,1507.7 C1936.4,1496.2 1957.8,1472.9 1964.3,1466" fill="none" stroke="#d42028" stroke-width="2.7"/>
<text x="1468" y="1401.4" font-size="28.5" font-weight="bold" font-style="italic" textLength="85.5" lengthAdjust="spacingAndGlyphs">Sesn2</text>
<text x="1745.6" y="1974.6" font-size="28.3" text-anchor="middle" textLength="166" lengthAdjust="spacingAndGlyphs">Losing score</text>
<text transform="translate(1413.5,1649.4) rotate(-90)" font-size="29" text-anchor="middle">log<tspan font-size="19" dy="7">10</tspan><tspan dy="-7"> norm. counts</tspan></text>
<text x="-1.3" y="2105.4" font-size="49.5" font-weight="bold" fill="#000">e</text>
<text x="25" y="2155.3" font-size="34" font-weight="bold" fill="#d5bb1f" textLength="219" lengthAdjust="spacingAndGlyphs">DMSO-treated</text>
<text x="443.5" y="2155.3" font-size="34" font-weight="bold" fill="#0e6e4a" textLength="153.5" lengthAdjust="spacingAndGlyphs">CI-treated</text>
<path d="M92,2285 C89.5,2295 89,2308 89,2318 C89,2348 109.4,2372 134.5,2372 C159.6,2372 180,2348 180,2318 C180,2308 179.5,2295 177,2285 Z" fill="#efd6c4"/>
<path d="M92,2285 C89.5,2295 89,2308 89,2318 C89,2348 109.4,2372 134.5,2372 C159.6,2372 180,2348 180,2318 C180,2308 179.5,2295 177,2285" fill="none" stroke="#f4ac68" stroke-width="4.5"/>
<ellipse cx="92" cy="2285" rx="3.3" ry="3.3" fill="#f4ac68"/><circle cx="90.9" cy="2290.2" r="3.3" fill="#f4ac68"/><circle cx="90.2" cy="2295.2" r="3.3" fill="#f4ac68"/><circle cx="89.7" cy="2300.4" r="3.3" fill="#f4ac68"/><circle cx="89.3" cy="2305.5" r="3.3" fill="#f4ac68"/><circle cx="89.1" cy="2310.6" r="3.3" fill="#f4ac68"/><circle cx="89" cy="2316" r="3.3" fill="#f4ac68"/><circle cx="89.1" cy="2321" r="3.3" fill="#f4ac68"/><circle cx="89.6" cy="2326.8" r="3.3" fill="#f4ac68"/><circle cx="90.6" cy="2332.4" r="3.3" fill="#f4ac68"/><circle cx="92.1" cy="2337.8" r="3.3" fill="#f4ac68"/><circle cx="94.1" cy="2342.9" r="3.3" fill="#f4ac68"/><circle cx="96.5" cy="2347.7" r="3.3" fill="#f4ac68"/><circle cx="99.2" cy="2352.2" r="3.3" fill="#f4ac68"/><circle cx="102.3" cy="2356.2" r="3.3" fill="#f4ac68"/><circle cx="105.8" cy="2359.9" r="3.3" fill="#f4ac68"/><circle cx="110.5" cy="2364" r="3.3" fill="#f4ac68"/><circle cx="115.7" cy="2367.2" r="3.3" fill="#f4ac68"/><circle cx="121.3" cy="2369.7" r="3.3" fill="#f4ac68"/><circle cx="127.1" cy="2371.3" r="3.3" fill="#f4ac68"/><circle cx="133.2" cy="2372" r="3.3" fill="#f4ac68"/><circle cx="139.5" cy="2371.7" r="3.3" fill="#f4ac68"/><circle cx="145.4" cy="2370.4" r="3.3" fill="#f4ac68"/><circle cx="151.1" cy="2368.3" r="3.3" fill="#f4ac68"/><circle cx="156.4" cy="2365.4" r="3.3" fill="#f4ac68"/><circle cx="161.4" cy="2361.6" r="3.3" fill="#f4ac68"/><circle cx="165" cy="2358.1" r="3.3" fill="#f4ac68"/><circle cx="168.3" cy="2354.3" r="3.3" fill="#f4ac68"/><circle cx="171.2" cy="2350" r="3.3" fill="#f4ac68"/><circle cx="173.8" cy="2345.3" r="3.3" fill="#f4ac68"/><circle cx="175.9" cy="2340.4" r="3.3" fill="#f4ac68"/><circle cx="177.7" cy="2335.1" r="3.3" fill="#f4ac68"/><circle cx="178.9" cy="2329.6" r="3.3" fill="#f4ac68"/><circle cx="179.7" cy="2323.9" r="3.3" fill="#f4ac68"/><circle cx="180" cy="2318" r="3.3" fill="#f4ac68"/><circle cx="180" cy="2312.8" r="3.3" fill="#f4ac68"/><circle cx="179.8" cy="2307.2" r="3.3" fill="#f4ac68"/><circle cx="179.5" cy="2302.1" r="3.3" fill="#f4ac68"/><circle cx="179" cy="2296.9" r="3.3" fill="#f4ac68"/><circle cx="178.4" cy="2291.9" r="3.3" fill="#f4ac68"/><circle cx="177.4" cy="2286.5" r="3.3" fill="#f4ac68"/>
<line x1="145.9" y1="2333.7" x2="174.4" y2="2342.4" stroke="#e6cbb8" stroke-width="1"/>
<line x1="144.9" y1="2336" x2="170.9" y2="2350" stroke="#e6cbb8" stroke-width="1"/>
<line x1="143.4" y1="2338" x2="165.7" y2="2356.8" stroke="#e6cbb8" stroke-width="1"/>
<line x1="141.6" y1="2339.7" x2="159.2" y2="2362.4" stroke="#e6cbb8" stroke-width="1"/>
<line x1="139.4" y1="2341" x2="151.6" y2="2366.5" stroke="#e6cbb8" stroke-width="1"/>
<line x1="137" y1="2341.7" x2="143.2" y2="2369.1" stroke="#e6cbb8" stroke-width="1"/>
<line x1="134.5" y1="2342" x2="134.5" y2="2370" stroke="#e6cbb8" stroke-width="1"/>
<line x1="132" y1="2341.7" x2="125.8" y2="2369.1" stroke="#e6cbb8" stroke-width="1"/>
<line x1="129.6" y1="2341" x2="117.4" y2="2366.5" stroke="#e6cbb8" stroke-width="1"/>
<line x1="127.4" y1="2339.7" x2="109.8" y2="2362.4" stroke="#e6cbb8" stroke-width="1"/>
<line x1="125.6" y1="2338" x2="103.3" y2="2356.8" stroke="#e6cbb8" stroke-width="1"/>
<line x1="124.1" y1="2336" x2="98.1" y2="2350" stroke="#e6cbb8" stroke-width="1"/>
<line x1="123.1" y1="2333.7" x2="94.6" y2="2342.4" stroke="#e6cbb8" stroke-width="1"/>
<path d="M99,2288 L101,2252 L110,2230 L119.9,2212 L125,2224 L129,2213 L135,2211 L139.5,2228 L150.2,2201.5 L156,2218.5 L161.6,2214.5 L166,2230 L169,2260 L170,2288 Q135,2284 99,2288 Z" fill="#80bfcb"/>
<ellipse cx="101" cy="2236" rx="4" ry="3.8" fill="#8fd3cf"/>
<ellipse cx="168" cy="2236" rx="4" ry="3.8" fill="#8fd3cf"/>
<ellipse cx="101" cy="2243" rx="4" ry="3.8" fill="#8fd3cf"/>
<ellipse cx="168" cy="2243" rx="4" ry="3.8" fill="#8fd3cf"/>
<ellipse cx="101" cy="2250" rx="4" ry="3.8" fill="#8fd3cf"/>
<ellipse cx="168" cy="2250" rx="4" ry="3.8" fill="#8fd3cf"/>
<ellipse cx="101" cy="2257" rx="4" ry="3.8" fill="#8fd3cf"/>
<ellipse cx="168" cy="2257" rx="4" ry="3.8" fill="#8fd3cf"/>
<ellipse cx="101" cy="2264" rx="4" ry="3.8" fill="#8fd3cf"/>
<ellipse cx="168" cy="2264" rx="4" ry="3.8" fill="#8fd3cf"/>
<ellipse cx="101" cy="2271" rx="4" ry="3.8" fill="#8fd3cf"/>
<ellipse cx="168" cy="2271" rx="4" ry="3.8" fill="#8fd3cf"/>
<ellipse cx="101" cy="2278" rx="4" ry="3.8" fill="#8fd3cf"/>
<ellipse cx="168" cy="2278" rx="4" ry="3.8" fill="#8fd3cf"/>
<path d="M133.5,2289 C129,2302 124,2322 124.5,2336 A9.6 9.6 0 0 0 143.7,2336 C143.5,2322 138,2302 133.5,2289 Z" fill="#eeecea"/>
<path d="M477.7,2285 C475.2,2295 474.7,2308 474.7,2318 C474.7,2348 495.1,2372 520.2,2372 C545.3,2372 565.7,2348 565.7,2318 C565.7,2308 565.2,2295 562.7,2285 Z" fill="#efd6c4"/>
<path d="M477.7,2285 C475.2,2295 474.7,2308 474.7,2318 C474.7,2348 495.1,2372 520.2,2372 C545.3,2372 565.7,2348 565.7,2318 C565.7,2308 565.2,2295 562.7,2285" fill="none" stroke="#f4ac68" stroke-width="4.5"/>
<ellipse cx="477.7" cy="2285" rx="3.3" ry="3.3" fill="#f4ac68"/><circle cx="476.6" cy="2290.2" r="3.3" fill="#f4ac68"/><circle cx="475.9" cy="2295.2" r="3.3" fill="#f4ac68"/><circle cx="475.4" cy="2300.4" r="3.3" fill="#f4ac68"/><circle cx="475" cy="2305.5" r="3.3" fill="#f4ac68"/><circle cx="474.8" cy="2310.6" r="3.3" fill="#f4ac68"/><circle cx="474.7" cy="2316" r="3.3" fill="#f4ac68"/><circle cx="474.8" cy="2321" r="3.3" fill="#f4ac68"/><circle cx="475.3" cy="2326.8" r="3.3" fill="#f4ac68"/><circle cx="476.3" cy="2332.4" r="3.3" fill="#f4ac68"/><circle cx="477.8" cy="2337.8" r="3.3" fill="#f4ac68"/><circle cx="479.8" cy="2342.9" r="3.3" fill="#f4ac68"/><circle cx="482.2" cy="2347.7" r="3.3" fill="#f4ac68"/><circle cx="484.9" cy="2352.2" r="3.3" fill="#f4ac68"/><circle cx="488" cy="2356.2" r="3.3" fill="#f4ac68"/><circle cx="491.5" cy="2359.9" r="3.3" fill="#f4ac68"/><circle cx="496.2" cy="2364" r="3.3" fill="#f4ac68"/><circle cx="501.4" cy="2367.2" r="3.3" fill="#f4ac68"/><circle cx="507" cy="2369.7" r="3.3" fill="#f4ac68"/><circle cx="512.8" cy="2371.3" r="3.3" fill="#f4ac68"/><circle cx="518.9" cy="2372" r="3.3" fill="#f4ac68"/><circle cx="525.2" cy="2371.7" r="3.3" fill="#f4ac68"/><circle cx="531.1" cy="2370.4" r="3.3" fill="#f4ac68"/><circle cx="536.8" cy="2368.3" r="3.3" fill="#f4ac68"/><circle cx="542.1" cy="2365.4" r="3.3" fill="#f4ac68"/><circle cx="547.1" cy="2361.6" r="3.3" fill="#f4ac68"/><circle cx="550.7" cy="2358.1" r="3.3" fill="#f4ac68"/><circle cx="554" cy="2354.3" r="3.3" fill="#f4ac68"/><circle cx="556.9" cy="2350" r="3.3" fill="#f4ac68"/><circle cx="559.5" cy="2345.3" r="3.3" fill="#f4ac68"/><circle cx="561.6" cy="2340.4" r="3.3" fill="#f4ac68"/><circle cx="563.4" cy="2335.1" r="3.3" fill="#f4ac68"/><circle cx="564.6" cy="2329.6" r="3.3" fill="#f4ac68"/><circle cx="565.4" cy="2323.9" r="3.3" fill="#f4ac68"/><circle cx="565.7" cy="2318" r="3.3" fill="#f4ac68"/><circle cx="565.7" cy="2312.8" r="3.3" fill="#f4ac68"/><circle cx="565.5" cy="2307.2" r="3.3" fill="#f4ac68"/><circle cx="565.2" cy="2302.1" r="3.3" fill="#f4ac68"/><circle cx="564.7" cy="2296.9" r="3.3" fill="#f4ac68"/><circle cx="564.1" cy="2291.9" r="3.3" fill="#f4ac68"/><circle cx="563.1" cy="2286.5" r="3.3" fill="#f4ac68"/>
<line x1="531.6" y1="2333.7" x2="560.1" y2="2342.4" stroke="#e6cbb8" stroke-width="1"/>
<line x1="530.6" y1="2336" x2="556.6" y2="2350" stroke="#e6cbb8" stroke-width="1"/>
<line x1="529.1" y1="2338" x2="551.4" y2="2356.8" stroke="#e6cbb8" stroke-width="1"/>
<line x1="527.3" y1="2339.7" x2="544.9" y2="2362.4" stroke="#e6cbb8" stroke-width="1"/>
<line x1="525.1" y1="2341" x2="537.3" y2="2366.5" stroke="#e6cbb8" stroke-width="1"/>
<line x1="522.7" y1="2341.7" x2="528.9" y2="2369.1" stroke="#e6cbb8" stroke-width="1"/>
<line x1="520.2" y1="2342" x2="520.2" y2="2370" stroke="#e6cbb8" stroke-width="1"/>
<line x1="517.7" y1="2341.7" x2="511.5" y2="2369.1" stroke="#e6cbb8" stroke-width="1"/>
<line x1="515.3" y1="2341" x2="503.1" y2="2366.5" stroke="#e6cbb8" stroke-width="1"/>
<line x1="513.1" y1="2339.7" x2="495.5" y2="2362.4" stroke="#e6cbb8" stroke-width="1"/>
<line x1="511.3" y1="2338" x2="489" y2="2356.8" stroke="#e6cbb8" stroke-width="1"/>
<line x1="509.8" y1="2336" x2="483.8" y2="2350" stroke="#e6cbb8" stroke-width="1"/>
<line x1="508.8" y1="2333.7" x2="480.3" y2="2342.4" stroke="#e6cbb8" stroke-width="1"/>
<path d="M484.7,2288 L486.7,2252 L495.7,2230 L505.6,2212 L510.7,2224 L514.7,2213 L520.7,2211 L525.2,2228 L535.9,2201.5 L541.7,2218.5 L547.3,2214.5 L551.7,2230 L554.7,2260 L555.7,2288 Q520.7,2284 484.7,2288 Z" fill="#80bfcb"/>
<ellipse cx="486.7" cy="2236" rx="4" ry="3.8" fill="#8fd3cf"/>
<ellipse cx="553.7" cy="2236" rx="4" ry="3.8" fill="#8fd3cf"/>
<ellipse cx="486.7" cy="2243" rx="4" ry="3.8" fill="#8fd3cf"/>
<ellipse cx="553.7" cy="2243" rx="4" ry="3.8" fill="#8fd3cf"/>
<ellipse cx="486.7" cy="2250" rx="4" ry="3.8" fill="#8fd3cf"/>
<ellipse cx="553.7" cy="2250" rx="4" ry="3.8" fill="#8fd3cf"/>
<ellipse cx="486.7" cy="2257" rx="4" ry="3.8" fill="#8fd3cf"/>
<ellipse cx="553.7" cy="2257" rx="4" ry="3.8" fill="#8fd3cf"/>
<ellipse cx="486.7" cy="2264" rx="4" ry="3.8" fill="#8fd3cf"/>
<ellipse cx="553.7" cy="2264" rx="4" ry="3.8" fill="#8fd3cf"/>
<ellipse cx="486.7" cy="2271" rx="4" ry="3.8" fill="#8fd3cf"/>
<ellipse cx="553.7" cy="2271" rx="4" ry="3.8" fill="#8fd3cf"/>
<ellipse cx="486.7" cy="2278" rx="4" ry="3.8" fill="#8fd3cf"/>
<ellipse cx="553.7" cy="2278" rx="4" ry="3.8" fill="#8fd3cf"/>
<path d="M519.2,2289 C514.7,2302 509.7,2322 510.2,2336 A9.6 9.6 0 0 0 529.4,2336 C529.2,2322 523.7,2302 519.2,2289 Z" fill="#eeecea"/>
<path d="M81,2590 C78,2605 77,2625 77,2640 C77,2678 103,2705 134.5,2705 C166,2705 192,2678 192,2640 C192,2625 191,2605 188,2590 Z" fill="#efd6c4"/>
<path d="M81,2590 C78,2605 77,2625 77,2640 C77,2678 103,2705 134.5,2705 C166,2705 192,2678 192,2640 C192,2625 191,2605 188,2590" fill="none" stroke="#f4ac68" stroke-width="5"/>
<ellipse cx="81" cy="2590" rx="3.7" ry="3.7" fill="#f4ac68"/><circle cx="79.9" cy="2596.2" r="3.7" fill="#f4ac68"/><circle cx="79.1" cy="2602" r="3.7" fill="#f4ac68"/><circle cx="78.5" cy="2608" r="3.7" fill="#f4ac68"/><circle cx="77.9" cy="2614.1" r="3.7" fill="#f4ac68"/><circle cx="77.5" cy="2620.2" r="3.7" fill="#f4ac68"/><circle cx="77.3" cy="2626.3" r="3.7" fill="#f4ac68"/><circle cx="77.1" cy="2632.1" r="3.7" fill="#f4ac68"/><circle cx="77" cy="2638.5" r="3.7" fill="#f4ac68"/><circle cx="77.2" cy="2645.6" r="3.7" fill="#f4ac68"/><circle cx="78" cy="2652.8" r="3.7" fill="#f4ac68"/><circle cx="79.5" cy="2659.7" r="3.7" fill="#f4ac68"/><circle cx="81.6" cy="2666.2" r="3.7" fill="#f4ac68"/><circle cx="84.2" cy="2672.3" r="3.7" fill="#f4ac68"/><circle cx="87.3" cy="2677.9" r="3.7" fill="#f4ac68"/><circle cx="90.9" cy="2683.2" r="3.7" fill="#f4ac68"/><circle cx="95" cy="2687.9" r="3.7" fill="#f4ac68"/><circle cx="99.5" cy="2692.1" r="3.7" fill="#f4ac68"/><circle cx="104.3" cy="2695.8" r="3.7" fill="#f4ac68"/><circle cx="109.5" cy="2698.9" r="3.7" fill="#f4ac68"/><circle cx="115" cy="2701.4" r="3.7" fill="#f4ac68"/><circle cx="120.8" cy="2703.2" r="3.7" fill="#f4ac68"/><circle cx="126.8" cy="2704.4" r="3.7" fill="#f4ac68"/><circle cx="132.9" cy="2705" r="3.7" fill="#f4ac68"/><circle cx="139.2" cy="2704.8" r="3.7" fill="#f4ac68"/><circle cx="145.3" cy="2703.9" r="3.7" fill="#f4ac68"/><circle cx="151.1" cy="2702.4" r="3.7" fill="#f4ac68"/><circle cx="156.8" cy="2700.2" r="3.7" fill="#f4ac68"/><circle cx="162.1" cy="2697.4" r="3.7" fill="#f4ac68"/><circle cx="167.1" cy="2694" r="3.7" fill="#f4ac68"/><circle cx="171.8" cy="2690.1" r="3.7" fill="#f4ac68"/><circle cx="176.1" cy="2685.6" r="3.7" fill="#f4ac68"/><circle cx="179.9" cy="2680.6" r="3.7" fill="#f4ac68"/><circle cx="183.3" cy="2675.2" r="3.7" fill="#f4ac68"/><circle cx="186.2" cy="2669.3" r="3.7" fill="#f4ac68"/><circle cx="188.5" cy="2663" r="3.7" fill="#f4ac68"/><circle cx="190.3" cy="2656.3" r="3.7" fill="#f4ac68"/><circle cx="191.5" cy="2649.3" r="3.7" fill="#f4ac68"/><circle cx="192" cy="2641.9" r="3.7" fill="#f4ac68"/><circle cx="192" cy="2636.2" r="3.7" fill="#f4ac68"/><circle cx="191.9" cy="2630.5" r="3.7" fill="#f4ac68"/><circle cx="191.7" cy="2624.6" r="3.7" fill="#f4ac68"/><circle cx="191.4" cy="2618.5" r="3.7" fill="#f4ac68"/><circle cx="190.9" cy="2612.4" r="3.7" fill="#f4ac68"/><circle cx="190.4" cy="2606.3" r="3.7" fill="#f4ac68"/><circle cx="189.7" cy="2600.4" r="3.7" fill="#f4ac68"/><circle cx="188.8" cy="2594.6" r="3.7" fill="#f4ac68"/>
<line x1="162.2" y1="2649.7" x2="185.9" y2="2653.8" stroke="#e6cbb8" stroke-width="1"/>
<line x1="160.7" y1="2655.5" x2="183.2" y2="2664.7" stroke="#e6cbb8" stroke-width="1"/>
<line x1="158.2" y1="2661" x2="178.5" y2="2674.8" stroke="#e6cbb8" stroke-width="1"/>
<line x1="154.7" y1="2665.7" x2="172.1" y2="2683.7" stroke="#e6cbb8" stroke-width="1"/>
<line x1="150.4" y1="2669.7" x2="164.1" y2="2691" stroke="#e6cbb8" stroke-width="1"/>
<line x1="145.5" y1="2672.6" x2="154.9" y2="2696.5" stroke="#e6cbb8" stroke-width="1"/>
<line x1="140.1" y1="2674.4" x2="144.9" y2="2699.9" stroke="#e6cbb8" stroke-width="1"/>
<line x1="134.5" y1="2675" x2="134.5" y2="2701" stroke="#e6cbb8" stroke-width="1"/>
<line x1="128.9" y1="2674.4" x2="124.1" y2="2699.9" stroke="#e6cbb8" stroke-width="1"/>
<line x1="123.5" y1="2672.6" x2="114.1" y2="2696.5" stroke="#e6cbb8" stroke-width="1"/>
<line x1="118.6" y1="2669.7" x2="104.9" y2="2691" stroke="#e6cbb8" stroke-width="1"/>
<line x1="114.3" y1="2665.7" x2="96.9" y2="2683.7" stroke="#e6cbb8" stroke-width="1"/>
<line x1="110.8" y1="2661" x2="90.5" y2="2674.8" stroke="#e6cbb8" stroke-width="1"/>
<line x1="108.3" y1="2655.5" x2="85.8" y2="2664.7" stroke="#e6cbb8" stroke-width="1"/>
<line x1="106.8" y1="2649.7" x2="83.1" y2="2653.8" stroke="#e6cbb8" stroke-width="1"/>
<path d="M92,2597 L94,2560 L99,2540 L114.9,2492.5 L120,2500 L125.4,2505 L131,2497 L136,2496.5 L144,2521.5 L156,2517 L167,2513 L180,2540 L184,2570 L185,2600 Q140,2592 92,2597 Z" fill="#80bfcb"/>
<ellipse cx="90" cy="2545" rx="4.5" ry="4.2" fill="#8fd3cf"/>
<ellipse cx="181" cy="2545" rx="4.5" ry="4.2" fill="#8fd3cf"/>
<ellipse cx="90" cy="2553" rx="4.5" ry="4.2" fill="#8fd3cf"/>
<ellipse cx="181" cy="2553" rx="4.5" ry="4.2" fill="#8fd3cf"/>
<ellipse cx="90" cy="2561" rx="4.5" ry="4.2" fill="#8fd3cf"/>
<ellipse cx="181" cy="2561" rx="4.5" ry="4.2" fill="#8fd3cf"/>
<ellipse cx="90" cy="2569" rx="4.5" ry="4.2" fill="#8fd3cf"/>
<ellipse cx="181" cy="2569" rx="4.5" ry="4.2" fill="#8fd3cf"/>
<ellipse cx="90" cy="2577" rx="4.5" ry="4.2" fill="#8fd3cf"/>
<ellipse cx="181" cy="2577" rx="4.5" ry="4.2" fill="#8fd3cf"/>
<ellipse cx="90" cy="2585" rx="4.5" ry="4.2" fill="#8fd3cf"/>
<ellipse cx="181" cy="2585" rx="4.5" ry="4.2" fill="#8fd3cf"/>
<ellipse cx="90" cy="2593" rx="4.5" ry="4.2" fill="#8fd3cf"/>
<ellipse cx="181" cy="2593" rx="4.5" ry="4.2" fill="#8fd3cf"/>
<path d="M134.6,2559 C126,2559 124,2575 121,2595 C116,2620 107,2640 108,2655 C108,2672 120,2680 135,2680 C150,2680 163,2672 163,2655 C163,2640 153,2620 148,2595 C145,2575 143,2559 134.6,2559 Z" fill="#eeecea"/>
<path d="M466.4,2590 C463.4,2605 462.4,2625 462.4,2640 C462.4,2678 488.4,2705 519.9,2705 C551.4,2705 577.4,2678 577.4,2640 C577.4,2625 576.4,2605 573.4,2590 Z" fill="#efd6c4"/>
<path d="M466.4,2590 C463.4,2605 462.4,2625 462.4,2640 C462.4,2678 488.4,2705 519.9,2705 C551.4,2705 577.4,2678 577.4,2640 C577.4,2625 576.4,2605 573.4,2590" fill="none" stroke="#f4ac68" stroke-width="5"/>
<ellipse cx="466.4" cy="2590" rx="3.7" ry="3.7" fill="#f4ac68"/><circle cx="465.3" cy="2596.2" r="3.7" fill="#f4ac68"/><circle cx="464.5" cy="2602" r="3.7" fill="#f4ac68"/><circle cx="463.9" cy="2608" r="3.7" fill="#f4ac68"/><circle cx="463.3" cy="2614.1" r="3.7" fill="#f4ac68"/><circle cx="462.9" cy="2620.2" r="3.7" fill="#f4ac68"/><circle cx="462.7" cy="2626.3" r="3.7" fill="#f4ac68"/><circle cx="462.5" cy="2632.1" r="3.7" fill="#f4ac68"/><circle cx="462.4" cy="2638.5" r="3.7" fill="#f4ac68"/><circle cx="462.6" cy="2645.6" r="3.7" fill="#f4ac68"/><circle cx="463.4" cy="2652.8" r="3.7" fill="#f4ac68"/><circle cx="464.9" cy="2659.7" r="3.7" fill="#f4ac68"/><circle cx="467" cy="2666.2" r="3.7" fill="#f4ac68"/><circle cx="469.6" cy="2672.3" r="3.7" fill="#f4ac68"/><circle cx="472.7" cy="2677.9" r="3.7" fill="#f4ac68"/><circle cx="476.3" cy="2683.2" r="3.7" fill="#f4ac68"/><circle cx="480.4" cy="2687.9" r="3.7" fill="#f4ac68"/><circle cx="484.9" cy="2692.1" r="3.7" fill="#f4ac68"/><circle cx="489.7" cy="2695.8" r="3.7" fill="#f4ac68"/><circle cx="494.9" cy="2698.9" r="3.7" fill="#f4ac68"/><circle cx="500.4" cy="2701.4" r="3.7" fill="#f4ac68"/><circle cx="506.2" cy="2703.2" r="3.7" fill="#f4ac68"/><circle cx="512.2" cy="2704.4" r="3.7" fill="#f4ac68"/><circle cx="518.3" cy="2705" r="3.7" fill="#f4ac68"/><circle cx="524.6" cy="2704.8" r="3.7" fill="#f4ac68"/><circle cx="530.7" cy="2703.9" r="3.7" fill="#f4ac68"/><circle cx="536.5" cy="2702.4" r="3.7" fill="#f4ac68"/><circle cx="542.2" cy="2700.2" r="3.7" fill="#f4ac68"/><circle cx="547.5" cy="2697.4" r="3.7" fill="#f4ac68"/><circle cx="552.5" cy="2694" r="3.7" fill="#f4ac68"/><circle cx="557.2" cy="2690.1" r="3.7" fill="#f4ac68"/><circle cx="561.5" cy="2685.6" r="3.7" fill="#f4ac68"/><circle cx="565.3" cy="2680.6" r="3.7" fill="#f4ac68"/><circle cx="568.7" cy="2675.2" r="3.7" fill="#f4ac68"/><circle cx="571.6" cy="2669.3" r="3.7" fill="#f4ac68"/><circle cx="573.9" cy="2663" r="3.7" fill="#f4ac68"/><circle cx="575.7" cy="2656.3" r="3.7" fill="#f4ac68"/><circle cx="576.9" cy="2649.3" r="3.7" fill="#f4ac68"/><circle cx="577.4" cy="2641.9" r="3.7" fill="#f4ac68"/><circle cx="577.4" cy="2636.2" r="3.7" fill="#f4ac68"/><circle cx="577.3" cy="2630.5" r="3.7" fill="#f4ac68"/><circle cx="577.1" cy="2624.6" r="3.7" fill="#f4ac68"/><circle cx="576.8" cy="2618.5" r="3.7" fill="#f4ac68"/><circle cx="576.3" cy="2612.4" r="3.7" fill="#f4ac68"/><circle cx="575.8" cy="2606.3" r="3.7" fill="#f4ac68"/><circle cx="575.1" cy="2600.4" r="3.7" fill="#f4ac68"/><circle cx="574.2" cy="2594.6" r="3.7" fill="#f4ac68"/>
<line x1="547.6" y1="2649.7" x2="571.3" y2="2653.8" stroke="#e6cbb8" stroke-width="1"/>
<line x1="546.1" y1="2655.5" x2="568.6" y2="2664.7" stroke="#e6cbb8" stroke-width="1"/>
<line x1="543.6" y1="2661" x2="563.9" y2="2674.8" stroke="#e6cbb8" stroke-width="1"/>
<line x1="540.1" y1="2665.7" x2="557.5" y2="2683.7" stroke="#e6cbb8" stroke-width="1"/>
<line x1="535.8" y1="2669.7" x2="549.5" y2="2691" stroke="#e6cbb8" stroke-width="1"/>
<line x1="530.9" y1="2672.6" x2="540.3" y2="2696.5" stroke="#e6cbb8" stroke-width="1"/>
<line x1="525.5" y1="2674.4" x2="530.3" y2="2699.9" stroke="#e6cbb8" stroke-width="1"/>
<line x1="519.9" y1="2675" x2="519.9" y2="2701" stroke="#e6cbb8" stroke-width="1"/>
<line x1="514.3" y1="2674.4" x2="509.5" y2="2699.9" stroke="#e6cbb8" stroke-width="1"/>
<line x1="508.9" y1="2672.6" x2="499.5" y2="2696.5" stroke="#e6cbb8" stroke-width="1"/>
<line x1="504" y1="2669.7" x2="490.3" y2="2691" stroke="#e6cbb8" stroke-width="1"/>
<line x1="499.7" y1="2665.7" x2="482.3" y2="2683.7" stroke="#e6cbb8" stroke-width="1"/>
<line x1="496.2" y1="2661" x2="475.9" y2="2674.8" stroke="#e6cbb8" stroke-width="1"/>
<line x1="493.7" y1="2655.5" x2="471.2" y2="2664.7" stroke="#e6cbb8" stroke-width="1"/>
<line x1="492.2" y1="2649.7" x2="468.5" y2="2653.8" stroke="#e6cbb8" stroke-width="1"/>
<path d="M477.4,2597 L479.4,2560 L484.4,2540 L500.29999999999995,2492.5 L505.4,2500 L510.79999999999995,2505 L516.4,2497 L521.4,2496.5 L529.4,2521.5 L541.4,2517 L552.4,2513 L565.4,2540 L569.4,2570 L570.4,2600 Q525.4,2592 477.4,2597 Z" fill="#80bfcb"/>
<ellipse cx="475.4" cy="2545" rx="4.5" ry="4.2" fill="#8fd3cf"/>
<ellipse cx="566.4" cy="2545" rx="4.5" ry="4.2" fill="#8fd3cf"/>
<ellipse cx="475.4" cy="2553" rx="4.5" ry="4.2" fill="#8fd3cf"/>
<ellipse cx="566.4" cy="2553" rx="4.5" ry="4.2" fill="#8fd3cf"/>
<ellipse cx="475.4" cy="2561" rx="4.5" ry="4.2" fill="#8fd3cf"/>
<ellipse cx="566.4" cy="2561" rx="4.5" ry="4.2" fill="#8fd3cf"/>
<ellipse cx="475.4" cy="2569" rx="4.5" ry="4.2" fill="#8fd3cf"/>
<ellipse cx="566.4" cy="2569" rx="4.5" ry="4.2" fill="#8fd3cf"/>
<ellipse cx="475.4" cy="2577" rx="4.5" ry="4.2" fill="#8fd3cf"/>
<ellipse cx="566.4" cy="2577" rx="4.5" ry="4.2" fill="#8fd3cf"/>
<ellipse cx="475.4" cy="2585" rx="4.5" ry="4.2" fill="#8fd3cf"/>
<ellipse cx="566.4" cy="2585" rx="4.5" ry="4.2" fill="#8fd3cf"/>
<ellipse cx="475.4" cy="2593" rx="4.5" ry="4.2" fill="#8fd3cf"/>
<ellipse cx="566.4" cy="2593" rx="4.5" ry="4.2" fill="#8fd3cf"/>
<path d="M520.0,2559 C511.4,2559 509.4,2575 506.4,2595 C501.4,2620 492.4,2640 493.4,2655 C493.4,2672 505.4,2680 520.4,2680 C535.4,2680 548.4,2672 548.4,2655 C548.4,2640 538.4,2620 533.4,2595 C530.4,2575 528.4,2559 520.0,2559 Z" fill="#eeecea"/>
<rect x="131.6" y="2407" width="6" height="28" fill="#3b3b3b"/><path d="M117.6,2432 L151.6,2432 L134.6,2472 Z" fill="#3b3b3b"/>
<rect x="517.3" y="2407" width="6" height="28" fill="#3b3b3b"/><path d="M503.3,2432 L537.3,2432 L520.3,2472 Z" fill="#3b3b3b"/>
<text x="329" y="2287.7" font-size="29.2" text-anchor="middle">5.5 dpc embryos</text>
<text x="329" y="2321.2" font-size="29.2" text-anchor="middle">cultured overnight</text>
<text x="329" y="2590.7" font-size="29.2" text-anchor="middle">fix and stain</text>
<text x="329" y="2624" font-size="29.2" text-anchor="middle">6.5 dpc embryos</text>
<text x="710" y="2105" font-size="49.5" font-weight="bold" fill="#000">f</text>
<text x="880.5" y="2123.6" font-size="29" text-anchor="middle" font-weight="bold" fill="#1f2f9c">Hoechst</text>
<text x="1141" y="2123.6" font-size="29" text-anchor="middle" font-weight="bold" fill="#3cac4c">DDIT3</text>
<text x="1401" y="2123.6" font-size="29" text-anchor="middle" font-weight="bold">Merged</text>
<text transform="translate(741,2279) rotate(-90)" font-size="29" text-anchor="middle">DMSO</text>
<text transform="translate(741,2584.5) rotate(-90)" font-size="29" text-anchor="middle">CI</text>
<defs><filter id="nb" x="-5%" y="-5%" width="110%" height="110%"><feGaussianBlur stdDeviation="1.0"/></filter><filter id="gb" x="-20%" y="-20%" width="140%" height="140%"><feGaussianBlur stdDeviation="6"/></filter><filter id="gb2" x="-20%" y="-20%" width="140%" height="140%"><feGaussianBlur stdDeviation="2.5"/></filter><filter id="tex" x="-2%" y="-2%" width="104%" height="104%" color-interpolation-filters="sRGB"><feGaussianBlur in="SourceGraphic" stdDeviation="0.9" result="b"/><feTurbulence type="fractalNoise" baseFrequency="0.42" numOctaves="2" seed="7" result="n"/><feColorMatrix in="n" type="matrix" values="0.33 0.33 0.33 0 0  0.33 0.33 0.33 0 0  0.33 0.33 0.33 0 0  0 0 0 0 1" result="g"/><feComposite in="b" in2="g" operator="arithmetic" k1="0.7" k2="0.66" k3="0" k4="0"/></filter><clipPath id="c00"><rect x="756.2" y="2135" width="251.3" height="297.8"/></clipPath><clipPath id="c01"><rect x="1009.5" y="2135" width="250.9" height="297.8"/></clipPath><clipPath id="c02"><rect x="1262.5" y="2135" width="251.0" height="297.8"/></clipPath><clipPath id="c10"><rect x="756.2" y="2438.5" width="251.3" height="278.5"/></clipPath><clipPath id="c11"><rect x="1009.5" y="2438.5" width="250.9" height="278.5"/></clipPath><clipPath id="c12"><rect x="1262.5" y="2438.5" width="251.0" height="278.5"/></clipPath></defs>
<rect x="756.2" y="2135" width="251.3" height="297.8" fill="#000"/>
<rect x="1009.5" y="2135" width="250.9" height="297.8" fill="#000"/>
<rect x="1262.5" y="2135" width="251" height="297.8" fill="#000"/>
<rect x="756.2" y="2438.5" width="251.3" height="278.5" fill="#000"/>
<rect x="1009.5" y="2438.5" width="250.9" height="278.5" fill="#000"/>
<rect x="1262.5" y="2438.5" width="251" height="278.5" fill="#000"/>
<g clip-path="url(#c00)"><path d="M852.3,2135 L852.3,2169.6 L820.7,2199.7 L811.7,2228.3 L801.1,2277.9 L790.6,2308 L798.1,2330.6 L814.7,2353.1 L828.2,2372.7 L846.3,2390.8 L861.3,2402.8 L883.9,2407.3 L906.4,2399.8 L929,2390.8 L944.1,2375.7 L959.1,2357.7 L974.1,2335.1 L977.2,2308 L981.7,2277.9 L986.2,2240.3 L984.7,2219.2 L966.6,2202.7 L959.1,2180.1 L963.6,2157.6 L966.6,2135 Z" fill="#1c1c1c" filter="url(#gb)"/><g filter="url(#tex)"><ellipse cx="978.7" cy="2260.2" rx="8.6" ry="6.2" transform="rotate(92 978.7 2260.2)" fill="#7f7f7f" stroke="#959595" stroke-width="1.6"/><ellipse cx="950.5" cy="2154.7" rx="7.9" ry="5.1" transform="rotate(124 950.5 2154.7)" fill="#535353" stroke="#606060" stroke-width="1.6"/><ellipse cx="920.6" cy="2302.8" rx="7.4" ry="5" transform="rotate(10 920.6 2302.8)" fill="#606060" stroke="#707070" stroke-width="1.6"/><ellipse cx="879.7" cy="2253.1" rx="9.8" ry="6" transform="rotate(89 879.7 2253.1)" fill="#818181" stroke="#989898" stroke-width="1.6"/><ellipse cx="878.3" cy="2207" rx="10.3" ry="7" transform="rotate(127 878.3 2207)" fill="#696969" stroke="#7b7b7b" stroke-width="1.6"/><ellipse cx="829.4" cy="2210.1" rx="7.1" ry="6.5" transform="rotate(152 829.4 2210.1)" fill="#6e6e6e" stroke="#818181" stroke-width="1.6"/><ellipse cx="795.7" cy="2306.8" rx="11.9" ry="5.5" transform="rotate(173 795.7 2306.8)" fill="#878787" stroke="#a0a0a0" stroke-width="1.6"/><ellipse cx="951.4" cy="2178.5" rx="8.8" ry="5.9" transform="rotate(131 951.4 2178.5)" fill="#585858" stroke="#676767" stroke-width="1.6"/><ellipse cx="918.4" cy="2161.1" rx="8.3" ry="5.4" transform="rotate(174 918.4 2161.1)" fill="#8a8a8a" stroke="#a4a4a4" stroke-width="1.6"/><ellipse cx="845.4" cy="2379.3" rx="7.6" ry="5.8" transform="rotate(115 845.4 2379.3)" fill="#5a5a5a" stroke="#696969" stroke-width="1.6"/><ellipse cx="835.5" cy="2347.4" rx="11.1" ry="5.6" transform="rotate(104 835.5 2347.4)" fill="#646464" stroke="#757575" stroke-width="1.6"/><ellipse cx="909.3" cy="2233.6" rx="8.4" ry="7" transform="rotate(103 909.3 2233.6)" fill="#8f8f8f" stroke="#a9a9a9" stroke-width="1.6"/><ellipse cx="969.7" cy="2299.4" rx="13.9" ry="5.1" transform="rotate(42 969.7 2299.4)" fill="#848484" stroke="#9b9b9b" stroke-width="1.6"/><ellipse cx="835.3" cy="2361.9" rx="8.9" ry="5.5" transform="rotate(129 835.3 2361.9)" fill="#585858" stroke="#666666" stroke-width="1.6"/><ellipse cx="829.1" cy="2286.9" rx="9.8" ry="6.2" transform="rotate(165 829.1 2286.9)" fill="#616161" stroke="#717171" stroke-width="1.6"/><ellipse cx="875.8" cy="2145.2" rx="7.4" ry="5.7" transform="rotate(23 875.8 2145.2)" fill="#6c6c6c" stroke="#7f7f7f" stroke-width="1.6"/><ellipse cx="921.2" cy="2324.3" rx="10.9" ry="5.2" transform="rotate(163 921.2 2324.3)" fill="#838383" stroke="#9b9b9b" stroke-width="1.6"/><ellipse cx="916.8" cy="2265" rx="9.4" ry="5.6" transform="rotate(13 916.8 2265)" fill="#797979" stroke="#8e8e8e" stroke-width="1.6"/><ellipse cx="938.5" cy="2327.8" rx="9.6" ry="6.9" transform="rotate(123 938.5 2327.8)" fill="#919191" stroke="#acacac" stroke-width="1.6"/><ellipse cx="967.3" cy="2246.5" rx="9.6" ry="6.8" transform="rotate(112 967.3 2246.5)" fill="#6e6e6e" stroke="#808080" stroke-width="1.6"/><ellipse cx="905.3" cy="2300.9" rx="7.1" ry="6.3" transform="rotate(158 905.3 2300.9)" fill="#858585" stroke="#9d9d9d" stroke-width="1.6"/><ellipse cx="863.5" cy="2336.8" rx="8.9" ry="5.9" transform="rotate(15 863.5 2336.8)" fill="#878787" stroke="#9f9f9f" stroke-width="1.6"/><ellipse cx="883.4" cy="2193.4" rx="9.3" ry="6" transform="rotate(165 883.4 2193.4)" fill="#656565" stroke="#767676" stroke-width="1.6"/><ellipse cx="925.8" cy="2185.5" rx="7.4" ry="6.8" transform="rotate(79 925.8 2185.5)" fill="#919191" stroke="#ababab" stroke-width="1.6"/><ellipse cx="850.3" cy="2317.1" rx="7.5" ry="5.8" transform="rotate(164 850.3 2317.1)" fill="#909090" stroke="#aaaaaa" stroke-width="1.6"/><ellipse cx="862.7" cy="2293.6" rx="7.9" ry="5.2" transform="rotate(150 862.7 2293.6)" fill="#8e8e8e" stroke="#a7a7a7" stroke-width="1.6"/><ellipse cx="826" cy="2245.6" rx="9" ry="6" transform="rotate(151 826 2245.6)" fill="#979797" stroke="#b3b3b3" stroke-width="1.6"/><ellipse cx="902.7" cy="2215.8" rx="9.6" ry="5" transform="rotate(81 902.7 2215.8)" fill="#555555" stroke="#626262" stroke-width="1.6"/><ellipse cx="958.4" cy="2195.4" rx="7.3" ry="5" transform="rotate(80 958.4 2195.4)" fill="#797979" stroke="#8e8e8e" stroke-width="1.6"/><ellipse cx="920.8" cy="2357.3" rx="10.2" ry="6.4" transform="rotate(85 920.8 2357.3)" fill="#606060" stroke="#6f6f6f" stroke-width="1.6"/><ellipse cx="838.6" cy="2226.2" rx="9.3" ry="6" transform="rotate(136 838.6 2226.2)" fill="#6e6e6e" stroke="#818181" stroke-width="1.6"/><ellipse cx="935.3" cy="2164.9" rx="8.4" ry="6.3" transform="rotate(67 935.3 2164.9)" fill="#757575" stroke="#898989" stroke-width="1.6"/><ellipse cx="935.2" cy="2360.4" rx="9.1" ry="6.4" transform="rotate(161 935.2 2360.4)" fill="#979797" stroke="#b2b2b2" stroke-width="1.6"/><ellipse cx="950" cy="2219" rx="10" ry="6.7" transform="rotate(14 950 2219)" fill="#727272" stroke="#858585" stroke-width="1.6"/><ellipse cx="898.3" cy="2346.2" rx="8.5" ry="5" transform="rotate(11 898.3 2346.2)" fill="#8a8a8a" stroke="#a3a3a3" stroke-width="1.6"/><ellipse cx="817.2" cy="2223.1" rx="9.6" ry="5.2" transform="rotate(92 817.2 2223.1)" fill="#858585" stroke="#9d9d9d" stroke-width="1.6"/><ellipse cx="960.6" cy="2323.8" rx="10.1" ry="6" transform="rotate(15 960.6 2323.8)" fill="#636363" stroke="#737373" stroke-width="1.6"/><ellipse cx="936.7" cy="2309.4" rx="8.7" ry="6.7" transform="rotate(56 936.7 2309.4)" fill="#6d6d6d" stroke="#808080" stroke-width="1.6"/><ellipse cx="903.2" cy="2185.1" rx="8.7" ry="6" transform="rotate(4 903.2 2185.1)" fill="#969696" stroke="#b1b1b1" stroke-width="1.6"/><ellipse cx="890.9" cy="2241.8" rx="9.6" ry="6.1" transform="rotate(124 890.9 2241.8)" fill="#585858" stroke="#666666" stroke-width="1.6"/><ellipse cx="837.9" cy="2262.4" rx="7.3" ry="5.8" transform="rotate(162 837.9 2262.4)" fill="#747474" stroke="#888888" stroke-width="1.6"/><ellipse cx="848.2" cy="2182.4" rx="9" ry="6.9" transform="rotate(140 848.2 2182.4)" fill="#555555" stroke="#626262" stroke-width="1.6"/><ellipse cx="927.7" cy="2219.5" rx="13.2" ry="6.2" transform="rotate(22 927.7 2219.5)" fill="#767676" stroke="#8b8b8b" stroke-width="1.6"/><ellipse cx="860.8" cy="2245.4" rx="8.7" ry="5.3" transform="rotate(113 860.8 2245.4)" fill="#7f7f7f" stroke="#969696" stroke-width="1.6"/><ellipse cx="911.5" cy="2371.3" rx="7.6" ry="6.5" transform="rotate(162 911.5 2371.3)" fill="#696969" stroke="#7b7b7b" stroke-width="1.6"/><ellipse cx="831.5" cy="2334.3" rx="7.7" ry="5.1" transform="rotate(75 831.5 2334.3)" fill="#8a8a8a" stroke="#a2a2a2" stroke-width="1.6"/><ellipse cx="823.2" cy="2321.8" rx="12.5" ry="7" transform="rotate(136 823.2 2321.8)" fill="#767676" stroke="#8a8a8a" stroke-width="1.6"/><ellipse cx="867.1" cy="2183.4" rx="13.7" ry="6" transform="rotate(144 867.1 2183.4)" fill="#848484" stroke="#9b9b9b" stroke-width="1.6"/><ellipse cx="867.2" cy="2382.6" rx="9.9" ry="6.4" transform="rotate(137 867.2 2382.6)" fill="#6f6f6f" stroke="#828282" stroke-width="1.6"/><ellipse cx="935.4" cy="2148" rx="12" ry="5.9" transform="rotate(114 935.4 2148)" fill="#787878" stroke="#8e8e8e" stroke-width="1.6"/><ellipse cx="921.8" cy="2289.8" rx="8.7" ry="5.7" transform="rotate(115 921.8 2289.8)" fill="#838383" stroke="#9b9b9b" stroke-width="1.6"/><ellipse cx="938.8" cy="2200.9" rx="8.2" ry="5" transform="rotate(67 938.8 2200.9)" fill="#5a5a5a" stroke="#696969" stroke-width="1.6"/><ellipse cx="898.3" cy="2272.2" rx="10.2" ry="6.1" transform="rotate(114 898.3 2272.2)" fill="#8b8b8b" stroke="#a4a4a4" stroke-width="1.6"/><ellipse cx="881.4" cy="2176" rx="13.9" ry="6.2" transform="rotate(75 881.4 2176)" fill="#777777" stroke="#8c8c8c" stroke-width="1.6"/><ellipse cx="942.2" cy="2238.7" rx="14" ry="6.5" transform="rotate(170 942.2 2238.7)" fill="#585858" stroke="#666666" stroke-width="1.6"/><ellipse cx="882.7" cy="2404.4" rx="7.7" ry="6" transform="rotate(130 882.7 2404.4)" fill="#737373" stroke="#878787" stroke-width="1.6"/><ellipse cx="893.5" cy="2163.3" rx="8.4" ry="6.3" transform="rotate(47 893.5 2163.3)" fill="#7b7b7b" stroke="#919191" stroke-width="1.6"/><ellipse cx="870.2" cy="2348.9" rx="8.7" ry="7" transform="rotate(132 870.2 2348.9)" fill="#646464" stroke="#747474" stroke-width="1.6"/><ellipse cx="948.6" cy="2305.5" rx="8.1" ry="5.5" transform="rotate(101 948.6 2305.5)" fill="#7c7c7c" stroke="#929292" stroke-width="1.6"/><ellipse cx="916.1" cy="2342" rx="7.5" ry="5.5" transform="rotate(164 916.1 2342)" fill="#909090" stroke="#aaaaaa" stroke-width="1.6"/><ellipse cx="838.3" cy="2248.8" rx="9" ry="5.1" transform="rotate(13 838.3 2248.8)" fill="#595959" stroke="#686868" stroke-width="1.6"/><ellipse cx="859.4" cy="2155.6" rx="12.7" ry="5.1" transform="rotate(87 859.4 2155.6)" fill="#828282" stroke="#9a9a9a" stroke-width="1.6"/><ellipse cx="845.3" cy="2333.9" rx="9.3" ry="5.5" transform="rotate(64 845.3 2333.9)" fill="#858585" stroke="#9d9d9d" stroke-width="1.6"/><ellipse cx="858.6" cy="2231.2" rx="8.2" ry="5.7" transform="rotate(101 858.6 2231.2)" fill="#8a8a8a" stroke="#a3a3a3" stroke-width="1.6"/><ellipse cx="832.8" cy="2190.6" rx="9.5" ry="6" transform="rotate(70 832.8 2190.6)" fill="#6b6b6b" stroke="#7d7d7d" stroke-width="1.6"/><ellipse cx="952.5" cy="2247.7" rx="8.3" ry="5.2" transform="rotate(178 952.5 2247.7)" fill="#6d6d6d" stroke="#808080" stroke-width="1.6"/><ellipse cx="934.2" cy="2296.9" rx="7.6" ry="5.3" transform="rotate(31 934.2 2296.9)" fill="#878787" stroke="#a0a0a0" stroke-width="1.6"/><ellipse cx="847" cy="2283.7" rx="9.7" ry="5.9" transform="rotate(159 847 2283.7)" fill="#929292" stroke="#adadad" stroke-width="1.6"/><ellipse cx="862.8" cy="2277.8" rx="8.6" ry="5.5" transform="rotate(118 862.8 2277.8)" fill="#646464" stroke="#747474" stroke-width="1.6"/><ellipse cx="849.2" cy="2201.7" rx="9.9" ry="6" transform="rotate(178 849.2 2201.7)" fill="#666666" stroke="#777777" stroke-width="1.6"/><ellipse cx="864.8" cy="2259.1" rx="10.2" ry="6.7" transform="rotate(2 864.8 2259.1)" fill="#6d6d6d" stroke="#808080" stroke-width="1.6"/><ellipse cx="901.3" cy="2258.1" rx="6.9" ry="7" transform="rotate(37 901.3 2258.1)" fill="#7e7e7e" stroke="#949494" stroke-width="1.6"/><ellipse cx="923.3" cy="2200.8" rx="7.5" ry="6.5" transform="rotate(170 923.3 2200.8)" fill="#7a7a7a" stroke="#8f8f8f" stroke-width="1.6"/><ellipse cx="814" cy="2345.7" rx="10" ry="6.1" transform="rotate(90 814 2345.7)" fill="#5d5d5d" stroke="#6c6c6c" stroke-width="1.6"/><ellipse cx="979.7" cy="2230.6" rx="8.5" ry="5.2" transform="rotate(24 979.7 2230.6)" fill="#919191" stroke="#acacac" stroke-width="1.6"/><ellipse cx="900.5" cy="2203.1" rx="10" ry="7" transform="rotate(108 900.5 2203.1)" fill="#5c5c5c" stroke="#6b6b6b" stroke-width="1.6"/><ellipse cx="907.3" cy="2356.3" rx="6.9" ry="5.3" transform="rotate(25 907.3 2356.3)" fill="#6e6e6e" stroke="#818181" stroke-width="1.6"/><ellipse cx="918" cy="2138.8" rx="9.2" ry="5.2" transform="rotate(108 918 2138.8)" fill="#747474" stroke="#888888" stroke-width="1.6"/><ellipse cx="868.5" cy="2305.2" rx="9.2" ry="6.5" transform="rotate(87 868.5 2305.2)" fill="#989898" stroke="#b4b4b4" stroke-width="1.6"/><ellipse cx="901.7" cy="2385.1" rx="8.7" ry="6" transform="rotate(162 901.7 2385.1)" fill="#696969" stroke="#7b7b7b" stroke-width="1.6"/><ellipse cx="973.5" cy="2335.9" rx="8.9" ry="6.5" transform="rotate(106 973.5 2335.9)" fill="#585858" stroke="#666666" stroke-width="1.6"/><ellipse cx="806.8" cy="2254.9" rx="13.1" ry="5.8" transform="rotate(94 806.8 2254.9)" fill="#646464" stroke="#747474" stroke-width="1.6"/><ellipse cx="806.6" cy="2280.7" rx="10.2" ry="4.9" transform="rotate(53 806.6 2280.7)" fill="#6a6a6a" stroke="#7b7b7b" stroke-width="1.6"/><ellipse cx="973.2" cy="2215.4" rx="8.6" ry="6.9" transform="rotate(85 973.2 2215.4)" fill="#626262" stroke="#727272" stroke-width="1.6"/><ellipse cx="960.2" cy="2228.6" rx="8.5" ry="5.3" transform="rotate(179 960.2 2228.6)" fill="#616161" stroke="#717171" stroke-width="1.6"/><ellipse cx="802.8" cy="2334.1" rx="7.9" ry="6.8" transform="rotate(128 802.8 2334.1)" fill="#5d5d5d" stroke="#6c6c6c" stroke-width="1.6"/><ellipse cx="839.5" cy="2309.7" rx="7.1" ry="7" transform="rotate(95 839.5 2309.7)" fill="#787878" stroke="#8d8d8d" stroke-width="1.6"/><ellipse cx="815.5" cy="2300.7" rx="7.7" ry="5.9" transform="rotate(141 815.5 2300.7)" fill="#8a8a8a" stroke="#a3a3a3" stroke-width="1.6"/><ellipse cx="887.3" cy="2138" rx="8.9" ry="6.4" transform="rotate(157 887.3 2138)" fill="#606060" stroke="#6f6f6f" stroke-width="1.6"/><ellipse cx="906.6" cy="2153.1" rx="9.7" ry="5.3" transform="rotate(28 906.6 2153.1)" fill="#838383" stroke="#9a9a9a" stroke-width="1.6"/><ellipse cx="958.6" cy="2351.4" rx="7" ry="5.8" transform="rotate(38 958.6 2351.4)" fill="#969696" stroke="#b2b2b2" stroke-width="1.6"/><ellipse cx="810.4" cy="2239.6" rx="11" ry="5.8" transform="rotate(179 810.4 2239.6)" fill="#888888" stroke="#a0a0a0" stroke-width="1.6"/><ellipse cx="929.4" cy="2373.5" rx="8.9" ry="6.8" transform="rotate(70 929.4 2373.5)" fill="#8d8d8d" stroke="#a7a7a7" stroke-width="1.6"/><ellipse cx="857.6" cy="2171.6" rx="10.1" ry="5.7" transform="rotate(130 857.6 2171.6)" fill="#929292" stroke="#acacac" stroke-width="1.6"/><ellipse cx="945.7" cy="2275.5" rx="7" ry="5.8" transform="rotate(7 945.7 2275.5)" fill="#5e5e5e" stroke="#6d6d6d" stroke-width="1.6"/><ellipse cx="924.2" cy="2389" rx="7.6" ry="6.4" transform="rotate(171 924.2 2389)" fill="#8f8f8f" stroke="#a9a9a9" stroke-width="1.6"/><ellipse cx="905.3" cy="2327.2" rx="12.1" ry="6.4" transform="rotate(65 905.3 2327.2)" fill="#585858" stroke="#666666" stroke-width="1.6"/><ellipse cx="880.8" cy="2220.5" rx="7.7" ry="5" transform="rotate(160 880.8 2220.5)" fill="#7a7a7a" stroke="#909090" stroke-width="1.6"/><ellipse cx="820" cy="2261.3" rx="9" ry="6.9" transform="rotate(103 820 2261.3)" fill="#949494" stroke="#afafaf" stroke-width="1.6"/><ellipse cx="818.2" cy="2273.9" rx="11.2" ry="5.1" transform="rotate(126 818.2 2273.9)" fill="#5b5b5b" stroke="#6a6a6a" stroke-width="1.6"/><ellipse cx="958.1" cy="2289.2" rx="8.3" ry="6.4" transform="rotate(149 958.1 2289.2)" fill="#8a8a8a" stroke="#a3a3a3" stroke-width="1.6"/><ellipse cx="927.8" cy="2247.1" rx="9" ry="5.8" transform="rotate(177 927.8 2247.1)" fill="#575757" stroke="#646464" stroke-width="1.6"/><ellipse cx="846.5" cy="2355.3" rx="9.8" ry="5.5" transform="rotate(111 846.5 2355.3)" fill="#888888" stroke="#a0a0a0" stroke-width="1.6"/><ellipse cx="935.9" cy="2177.9" rx="11.1" ry="5.3" transform="rotate(64 935.9 2177.9)" fill="#818181" stroke="#989898" stroke-width="1.6"/><ellipse cx="950.3" cy="2336.9" rx="8.2" ry="6.6" transform="rotate(138 950.3 2336.9)" fill="#979797" stroke="#b3b3b3" stroke-width="1.6"/><ellipse cx="928.7" cy="2337.1" rx="8.1" ry="5.6" transform="rotate(26 928.7 2337.1)" fill="#7f7f7f" stroke="#959595" stroke-width="1.6"/><ellipse cx="907" cy="2283" rx="12" ry="6.8" transform="rotate(67 907 2283)" fill="#858585" stroke="#9d9d9d" stroke-width="1.6"/><ellipse cx="825" cy="2233.1" rx="7.3" ry="5.8" transform="rotate(15 825 2233.1)" fill="#5f5f5f" stroke="#6e6e6e" stroke-width="1.6"/><ellipse cx="962.2" cy="2141.1" rx="8.3" ry="5.1" transform="rotate(20 962.2 2141.1)" fill="#8b8b8b" stroke="#a5a5a5" stroke-width="1.6"/><ellipse cx="850.7" cy="2266.9" rx="9.1" ry="6.8" transform="rotate(102 850.7 2266.9)" fill="#767676" stroke="#8a8a8a" stroke-width="1.6"/><ellipse cx="867.4" cy="2402.4" rx="6.9" ry="6.2" transform="rotate(65 867.4 2402.4)" fill="#7c7c7c" stroke="#929292" stroke-width="1.6"/><ellipse cx="859.3" cy="2213.5" rx="9" ry="6.2" transform="rotate(89 859.3 2213.5)" fill="#777777" stroke="#8b8b8b" stroke-width="1.6"/><ellipse cx="869.9" cy="2321" rx="13.3" ry="6.9" transform="rotate(79 869.9 2321)" fill="#878787" stroke="#9f9f9f" stroke-width="1.6"/><ellipse cx="873.9" cy="2161.5" rx="11.2" ry="6.5" transform="rotate(150 873.9 2161.5)" fill="#818181" stroke="#989898" stroke-width="1.6"/><ellipse cx="960.4" cy="2163" rx="12.2" ry="5.9" transform="rotate(67 960.4 2163)" fill="#7c7c7c" stroke="#919191" stroke-width="1.6"/><ellipse cx="878" cy="2266.3" rx="11.8" ry="6.5" transform="rotate(152 878 2266.3)" fill="#565656" stroke="#636363" stroke-width="1.6"/><ellipse cx="877.4" cy="2233.2" rx="9.4" ry="6.9" transform="rotate(101 877.4 2233.2)" fill="#6b6b6b" stroke="#7d7d7d" stroke-width="1.6"/><ellipse cx="892.1" cy="2149.9" rx="8.7" ry="5.3" transform="rotate(63 892.1 2149.9)" fill="#767676" stroke="#8a8a8a" stroke-width="1.6"/><ellipse cx="911.8" cy="2393" rx="7.1" ry="6" transform="rotate(5 911.8 2393)" fill="#5b5b5b" stroke="#6a6a6a" stroke-width="1.6"/><ellipse cx="853.5" cy="2392.3" rx="7.3" ry="6.4" transform="rotate(34 853.5 2392.3)" fill="#5d5d5d" stroke="#6c6c6c" stroke-width="1.6"/><ellipse cx="893.2" cy="2397" rx="11.8" ry="5.4" transform="rotate(136 893.2 2397)" fill="#939393" stroke="#aeaeae" stroke-width="1.6"/><ellipse cx="816.8" cy="2333.4" rx="7.7" ry="6.2" transform="rotate(170 816.8 2333.4)" fill="#676767" stroke="#787878" stroke-width="1.6"/><ellipse cx="929.3" cy="2274.5" rx="7.9" ry="5.5" transform="rotate(116 929.3 2274.5)" fill="#828282" stroke="#9a9a9a" stroke-width="1.6"/><ellipse cx="963.2" cy="2266.2" rx="8.9" ry="5.6" transform="rotate(21 963.2 2266.2)" fill="#686868" stroke="#7a7a7a" stroke-width="1.6"/><ellipse cx="972.1" cy="2316.4" rx="7.8" ry="6.6" transform="rotate(26 972.1 2316.4)" fill="#7d7d7d" stroke="#939393" stroke-width="1.6"/><ellipse cx="858.3" cy="2193" rx="9.3" ry="5" transform="rotate(11 858.3 2193)" fill="#8d8d8d" stroke="#a7a7a7" stroke-width="1.6"/><ellipse cx="940.1" cy="2257.1" rx="8.2" ry="6.1" transform="rotate(178 940.1 2257.1)" fill="#929292" stroke="#adadad" stroke-width="1.6"/><ellipse cx="862.3" cy="2361.9" rx="7.7" ry="6.4" transform="rotate(89 862.3 2361.9)" fill="#969696" stroke="#b1b1b1" stroke-width="1.6"/><ellipse cx="849.4" cy="2300.3" rx="7.5" ry="5.9" transform="rotate(177 849.4 2300.3)" fill="#656565" stroke="#767676" stroke-width="1.6"/><ellipse cx="981.1" cy="2247.5" rx="7.9" ry="5.8" transform="rotate(133 981.1 2247.5)" fill="#737373" stroke="#878787" stroke-width="1.6"/><ellipse cx="897.8" cy="2371.2" rx="8.1" ry="5.2" transform="rotate(4 897.8 2371.2)" fill="#636363" stroke="#737373" stroke-width="1.6"/><ellipse cx="805.9" cy="2318.6" rx="9.4" ry="6.8" transform="rotate(104 805.9 2318.6)" fill="#8f8f8f" stroke="#a9a9a9" stroke-width="1.6"/><ellipse cx="923.9" cy="2172.9" rx="8.7" ry="5.8" transform="rotate(128 923.9 2172.9)" fill="#838383" stroke="#9a9a9a" stroke-width="1.6"/><ellipse cx="851.3" cy="2368.2" rx="9.6" ry="4.9" transform="rotate(16 851.3 2368.2)" fill="#909090" stroke="#aaaaaa" stroke-width="1.6"/><ellipse cx="857.2" cy="2137.2" rx="7.1" ry="5.8" transform="rotate(150 857.2 2137.2)" fill="#555555" stroke="#636363" stroke-width="1.6"/><ellipse cx="823.1" cy="2356.5" rx="7.3" ry="5.6" transform="rotate(151 823.1 2356.5)" fill="#828282" stroke="#999999" stroke-width="1.6"/><ellipse cx="950.4" cy="2365.3" rx="10" ry="6.5" transform="rotate(83 950.4 2365.3)" fill="#787878" stroke="#8d8d8d" stroke-width="1.6"/><ellipse cx="945.9" cy="2292.4" rx="8.3" ry="6" transform="rotate(51 945.9 2292.4)" fill="#909090" stroke="#ababab" stroke-width="1.6"/><ellipse cx="911.2" cy="2196.7" rx="7.2" ry="6.6" transform="rotate(135 911.2 2196.7)" fill="#666666" stroke="#777777" stroke-width="1.6"/><ellipse cx="904.8" cy="2170.4" rx="12.5" ry="5.2" transform="rotate(132 904.8 2170.4)" fill="#6f6f6f" stroke="#828282" stroke-width="1.6"/><ellipse cx="937.8" cy="2346.9" rx="10.2" ry="5.7" transform="rotate(135 937.8 2346.9)" fill="#555555" stroke="#626262" stroke-width="1.6"/><ellipse cx="929.6" cy="2233.6" rx="12.2" ry="6.7" transform="rotate(63 929.6 2233.6)" fill="#939393" stroke="#aeaeae" stroke-width="1.6"/><ellipse cx="897.1" cy="2313.7" rx="10.1" ry="5.6" transform="rotate(37 897.1 2313.7)" fill="#868686" stroke="#9e9e9e" stroke-width="1.6"/><ellipse cx="903.9" cy="2139.5" rx="7.7" ry="5.5" transform="rotate(150 903.9 2139.5)" fill="#828282" stroke="#9a9a9a" stroke-width="1.6"/><ellipse cx="907.1" cy="2246.6" rx="10" ry="6.7" transform="rotate(162 907.1 2246.6)" fill="#828282" stroke="#999999" stroke-width="1.6"/><ellipse cx="894.8" cy="2227.3" rx="9.4" ry="6.3" transform="rotate(179 894.8 2227.3)" fill="#5a5a5a" stroke="#686868" stroke-width="1.6"/><ellipse cx="979.6" cy="2289" rx="7.9" ry="6.3" transform="rotate(89 979.6 2289)" fill="#7f7f7f" stroke="#969696" stroke-width="1.6"/><ellipse cx="942.3" cy="2136" rx="9.2" ry="6.7" transform="rotate(4 942.3 2136)" fill="#545454" stroke="#616161" stroke-width="1.6"/><ellipse cx="877.9" cy="2390.1" rx="9.5" ry="6.4" transform="rotate(126 877.9 2390.1)" fill="#979797" stroke="#b2b2b2" stroke-width="1.6"/><ellipse cx="796.9" cy="2292.3" rx="9.3" ry="5.7" transform="rotate(71 796.9 2292.3)" fill="#5e5e5e" stroke="#6d6d6d" stroke-width="1.6"/><ellipse cx="943.3" cy="2188.7" rx="9.1" ry="6.6" transform="rotate(32 943.3 2188.7)" fill="#747474" stroke="#888888" stroke-width="1.6"/><ellipse cx="874.1" cy="2367.3" rx="8.9" ry="5.5" transform="rotate(41 874.1 2367.3)" fill="#929292" stroke="#adadad" stroke-width="1.6"/><ellipse cx="977" cy="2275.3" rx="8.7" ry="6.8" transform="rotate(150 977 2275.3)" fill="#5b5b5b" stroke="#6a6a6a" stroke-width="1.6"/><ellipse cx="958.8" cy="2209.6" rx="10.2" ry="6.7" transform="rotate(164 958.8 2209.6)" fill="#636363" stroke="#737373" stroke-width="1.6"/><ellipse cx="874.2" cy="2286.8" rx="7" ry="6.7" transform="rotate(67 874.2 2286.8)" fill="#6d6d6d" stroke="#7f7f7f" stroke-width="1.6"/><ellipse cx="803.7" cy="2267.3" rx="10.3" ry="6.8" transform="rotate(39 803.7 2267.3)" fill="#878787" stroke="#a0a0a0" stroke-width="1.6"/><ellipse cx="917.2" cy="2212.6" rx="9.5" ry="5.8" transform="rotate(51 917.2 2212.6)" fill="#8f8f8f" stroke="#a9a9a9" stroke-width="1.6"/><ellipse cx="838.4" cy="2322.6" rx="9.2" ry="5.1" transform="rotate(166 838.4 2322.6)" fill="#8c8c8c" stroke="#a6a6a6" stroke-width="1.6"/><ellipse cx="911.1" cy="2312.3" rx="9.3" ry="6.8" transform="rotate(102 911.1 2312.3)" fill="#737373" stroke="#868686" stroke-width="1.6"/><ellipse cx="827.5" cy="2305.6" rx="9.4" ry="5.3" transform="rotate(61 827.5 2305.6)" fill="#727272" stroke="#868686" stroke-width="1.6"/><ellipse cx="961.1" cy="2309.6" rx="11.6" ry="5.7" transform="rotate(128 961.1 2309.6)" fill="#595959" stroke="#676767" stroke-width="1.6"/><ellipse cx="941.7" cy="2376.9" rx="8.6" ry="6.8" transform="rotate(160 941.7 2376.9)" fill="#8f8f8f" stroke="#a8a8a8" stroke-width="1.6"/><ellipse cx="831.8" cy="2274.5" rx="9.9" ry="6" transform="rotate(65 831.8 2274.5)" fill="#5a5a5a" stroke="#686868" stroke-width="1.6"/><ellipse cx="857.7" cy="2349.7" rx="8.4" ry="6.5" transform="rotate(41 857.7 2349.7)" fill="#7a7a7a" stroke="#8f8f8f" stroke-width="1.6"/><ellipse cx="833.7" cy="2374.4" rx="12.8" ry="5.4" transform="rotate(105 833.7 2374.4)" fill="#828282" stroke="#999999" stroke-width="1.6"/><ellipse cx="846.6" cy="2238.1" rx="8.5" ry="7" transform="rotate(36 846.6 2238.1)" fill="#797979" stroke="#8e8e8e" stroke-width="1.6"/><ellipse cx="846.3" cy="2215.3" rx="9.7" ry="6" transform="rotate(142 846.3 2215.3)" fill="#656565" stroke="#767676" stroke-width="1.6"/><ellipse cx="850.8" cy="2253" rx="7.9" ry="5.4" transform="rotate(149 850.8 2253)" fill="#727272" stroke="#868686" stroke-width="1.6"/><circle cx="858.3" cy="2210.2" r="5.5" fill="#f4f4f4"/><circle cx="929" cy="2238.8" r="5.5" fill="#f4f4f4"/><circle cx="885.4" cy="2238.8" r="5.5" fill="#f4f4f4"/><circle cx="889.9" cy="2300.5" r="5.5" fill="#f4f4f4"/><circle cx="888.4" cy="2324.6" r="5.5" fill="#f4f4f4"/><circle cx="898.9" cy="2342.6" r="5.5" fill="#f4f4f4"/><circle cx="865.8" cy="2315.5" r="5.5" fill="#f4f4f4"/><circle cx="933.5" cy="2196.7" r="5.5" fill="#f4f4f4"/><circle cx="918.5" cy="2210.2" r="5.5" fill="#f4f4f4"/><circle cx="830" cy="2145" r="5.5" fill="#f4f4f4"/><circle cx="832" cy="2155" r="5.5" fill="#f4f4f4"/></g></g>
<g clip-path="url(#c10)"><path d="M808.7,2438 L786.1,2475.6 L775.6,2501.2 L772.5,2550.8 L781.6,2580.9 L787.6,2611 L796.6,2641.1 L811.7,2663.7 L831.2,2681.7 L853.8,2696.8 L880.9,2705 L906.4,2698.3 L929,2681.7 L948.6,2663.7 L962.1,2641.1 L971.1,2611 L975.6,2580.9 L972.6,2550.8 L981.7,2520.7 L990.7,2490.7 L986.2,2460.6 L978.7,2438 Z" fill="#1c1c1c" filter="url(#gb)"/><path d="M864.3,2522.2 L888.4,2522.2 L900.4,2540.3 L901.9,2573.4 L907.9,2603.5 L901.9,2626.1 L883.9,2632.1 L864.3,2621.5 L841.8,2608 L837.2,2580.9 L847.8,2552.3 L856.8,2531.3 Z" fill="#222" filter="url(#gb)"/><g filter="url(#tex)"><ellipse cx="919.3" cy="2470.2" rx="6.4" ry="5.3" transform="rotate(145 919.3 2470.2)" fill="#6d6d6d" stroke="#7f7f7f" stroke-width="1.6"/><ellipse cx="867.9" cy="2475.8" rx="9.4" ry="4.7" transform="rotate(13 867.9 2475.8)" fill="#6c6c6c" stroke="#7f7f7f" stroke-width="1.6"/><ellipse cx="844.5" cy="2544.1" rx="12.9" ry="4.6" transform="rotate(91 844.5 2544.1)" fill="#4c4c4c" stroke="#575757" stroke-width="1.6"/><ellipse cx="793.5" cy="2549.3" rx="6.8" ry="5.2" transform="rotate(29 793.5 2549.3)" fill="#6d6d6d" stroke="#808080" stroke-width="1.6"/><ellipse cx="953.2" cy="2542.9" rx="7.8" ry="5.8" transform="rotate(69 953.2 2542.9)" fill="#494949" stroke="#535353" stroke-width="1.6"/><ellipse cx="924.7" cy="2620" rx="6.8" ry="5.1" transform="rotate(92 924.7 2620)" fill="#9e9e9e" stroke="#bcbcbc" stroke-width="1.6"/><ellipse cx="885.8" cy="2492.7" rx="7.8" ry="5.4" transform="rotate(18 885.8 2492.7)" fill="#656565" stroke="#767676" stroke-width="1.6"/><ellipse cx="808.4" cy="2626.2" rx="6.5" ry="5.2" transform="rotate(114 808.4 2626.2)" fill="#616161" stroke="#727272" stroke-width="1.6"/><ellipse cx="872.3" cy="2488.9" rx="7.3" ry="5.6" transform="rotate(86 872.3 2488.9)" fill="#7b7b7b" stroke="#919191" stroke-width="1.6"/><ellipse cx="850.7" cy="2483.4" rx="11" ry="6.4" transform="rotate(138 850.7 2483.4)" fill="#5a5a5a" stroke="#686868" stroke-width="1.6"/><ellipse cx="841.2" cy="2652" rx="9.1" ry="5.9" transform="rotate(94 841.2 2652)" fill="#848484" stroke="#9b9b9b" stroke-width="1.6"/><ellipse cx="910.3" cy="2504.1" rx="9.5" ry="6.4" transform="rotate(52 910.3 2504.1)" fill="#777777" stroke="#8b8b8b" stroke-width="1.6"/><ellipse cx="928" cy="2490.4" rx="7.3" ry="5.1" transform="rotate(124 928 2490.4)" fill="#4e4e4e" stroke="#5a5a5a" stroke-width="1.6"/><ellipse cx="969.2" cy="2548.5" rx="7.2" ry="5.5" transform="rotate(100 969.2 2548.5)" fill="#696969" stroke="#7b7b7b" stroke-width="1.6"/><ellipse cx="940.6" cy="2547.8" rx="8.3" ry="6.4" transform="rotate(104 940.6 2547.8)" fill="#5a5a5a" stroke="#686868" stroke-width="1.6"/><ellipse cx="851.6" cy="2637.5" rx="8.3" ry="4.6" transform="rotate(162 851.6 2637.5)" fill="#9d9d9d" stroke="#bbbbbb" stroke-width="1.6"/><ellipse cx="889.4" cy="2652.5" rx="7.7" ry="4.8" transform="rotate(56 889.4 2652.5)" fill="#a8a8a8" stroke="#c8c8c8" stroke-width="1.6"/><ellipse cx="924.4" cy="2582.7" rx="8.5" ry="4.8" transform="rotate(126 924.4 2582.7)" fill="#7d7d7d" stroke="#939393" stroke-width="1.6"/><ellipse cx="823.8" cy="2544.7" rx="7.5" ry="6" transform="rotate(16 823.8 2544.7)" fill="#585858" stroke="#666666" stroke-width="1.6"/><ellipse cx="925.9" cy="2644.2" rx="8.6" ry="6.5" transform="rotate(5 925.9 2644.2)" fill="#848484" stroke="#9c9c9c" stroke-width="1.6"/><ellipse cx="919.5" cy="2526.2" rx="7.2" ry="5.3" transform="rotate(1 919.5 2526.2)" fill="#5b5b5b" stroke="#696969" stroke-width="1.6"/><ellipse cx="831.5" cy="2486.8" rx="7.8" ry="5" transform="rotate(90 831.5 2486.8)" fill="#555555" stroke="#626262" stroke-width="1.6"/><ellipse cx="804.9" cy="2561" rx="8.4" ry="6.3" transform="rotate(82 804.9 2561)" fill="#a2a2a2" stroke="#c0c0c0" stroke-width="1.6"/><ellipse cx="956.8" cy="2494.2" rx="8.2" ry="6.1" transform="rotate(121 956.8 2494.2)" fill="#6b6b6b" stroke="#7d7d7d" stroke-width="1.6"/><ellipse cx="934.2" cy="2520.9" rx="8" ry="5.3" transform="rotate(24 934.2 2520.9)" fill="#535353" stroke="#606060" stroke-width="1.6"/><ellipse cx="903.9" cy="2539.7" rx="9.3" ry="6.4" transform="rotate(22 903.9 2539.7)" fill="#6a6a6a" stroke="#7c7c7c" stroke-width="1.6"/><ellipse cx="959.3" cy="2601.6" rx="9" ry="5.4" transform="rotate(47 959.3 2601.6)" fill="#7e7e7e" stroke="#949494" stroke-width="1.6"/><ellipse cx="858.7" cy="2657.6" rx="7" ry="5" transform="rotate(174 858.7 2657.6)" fill="#878787" stroke="#a0a0a0" stroke-width="1.6"/><ellipse cx="837.3" cy="2468.7" rx="9.3" ry="6.3" transform="rotate(158 837.3 2468.7)" fill="#3b3b3b" stroke="#424242" stroke-width="1.6"/><ellipse cx="806.8" cy="2476" rx="8.8" ry="5.2" transform="rotate(33 806.8 2476)" fill="#464646" stroke="#505050" stroke-width="1.6"/><ellipse cx="949.8" cy="2572.5" rx="8.5" ry="5.5" transform="rotate(69 949.8 2572.5)" fill="#7f7f7f" stroke="#959595" stroke-width="1.6"/><ellipse cx="885.3" cy="2631.6" rx="7.3" ry="6.4" transform="rotate(153 885.3 2631.6)" fill="#959595" stroke="#b0b0b0" stroke-width="1.6"/><ellipse cx="905.9" cy="2642.6" rx="10.5" ry="4.9" transform="rotate(15 905.9 2642.6)" fill="#626262" stroke="#727272" stroke-width="1.6"/><ellipse cx="793.7" cy="2623.2" rx="8.4" ry="6.5" transform="rotate(134 793.7 2623.2)" fill="#aaaaaa" stroke="#c9c9c9" stroke-width="1.6"/><ellipse cx="814.9" cy="2643.4" rx="7.8" ry="5.7" transform="rotate(43 814.9 2643.4)" fill="#646464" stroke="#757575" stroke-width="1.6"/><ellipse cx="904.2" cy="2618.7" rx="6.4" ry="5.1" transform="rotate(131 904.2 2618.7)" fill="#a0a0a0" stroke="#bdbdbd" stroke-width="1.6"/><ellipse cx="854.6" cy="2673.2" rx="9.7" ry="5.6" transform="rotate(112 854.6 2673.2)" fill="#888888" stroke="#a1a1a1" stroke-width="1.6"/><ellipse cx="796.8" cy="2582.5" rx="9.5" ry="6.1" transform="rotate(75 796.8 2582.5)" fill="#666666" stroke="#767676" stroke-width="1.6"/><ellipse cx="935.3" cy="2608.2" rx="7" ry="5.7" transform="rotate(103 935.3 2608.2)" fill="#7c7c7c" stroke="#929292" stroke-width="1.6"/><ellipse cx="838.3" cy="2530.1" rx="9.7" ry="5.3" transform="rotate(82 838.3 2530.1)" fill="#515151" stroke="#5d5d5d" stroke-width="1.6"/><ellipse cx="917.3" cy="2542" rx="12.2" ry="5.9" transform="rotate(18 917.3 2542)" fill="#555555" stroke="#626262" stroke-width="1.6"/><ellipse cx="867.5" cy="2509.7" rx="9.2" ry="5.1" transform="rotate(114 867.5 2509.7)" fill="#6a6a6a" stroke="#7c7c7c" stroke-width="1.6"/><ellipse cx="901.9" cy="2565" rx="9.6" ry="5.5" transform="rotate(70 901.9 2565)" fill="#838383" stroke="#9a9a9a" stroke-width="1.6"/><ellipse cx="938.6" cy="2497.5" rx="8.1" ry="6.1" transform="rotate(119 938.6 2497.5)" fill="#696969" stroke="#7a7a7a" stroke-width="1.6"/><ellipse cx="972.9" cy="2472.7" rx="9.2" ry="5.4" transform="rotate(46 972.9 2472.7)" fill="#5e5e5e" stroke="#6d6d6d" stroke-width="1.6"/><ellipse cx="794.5" cy="2516.7" rx="6.9" ry="4.8" transform="rotate(68 794.5 2516.7)" fill="#4d4d4d" stroke="#585858" stroke-width="1.6"/><ellipse cx="904.5" cy="2693.1" rx="6.9" ry="5.1" transform="rotate(163 904.5 2693.1)" fill="#a8a8a8" stroke="#c8c8c8" stroke-width="1.6"/><ellipse cx="941.7" cy="2585.6" rx="9" ry="5.1" transform="rotate(163 941.7 2585.6)" fill="#666666" stroke="#777777" stroke-width="1.6"/><ellipse cx="908.1" cy="2482.3" rx="9.2" ry="6.3" transform="rotate(78 908.1 2482.3)" fill="#484848" stroke="#535353" stroke-width="1.6"/><ellipse cx="858.8" cy="2451.9" rx="9.4" ry="5.6" transform="rotate(151 858.8 2451.9)" fill="#787878" stroke="#8d8d8d" stroke-width="1.6"/><ellipse cx="949.5" cy="2640.6" rx="8.1" ry="6.2" transform="rotate(156 949.5 2640.6)" fill="#929292" stroke="#acacac" stroke-width="1.6"/><ellipse cx="850.5" cy="2510.9" rx="13.1" ry="4.8" transform="rotate(25 850.5 2510.9)" fill="#686868" stroke="#797979" stroke-width="1.6"/><ellipse cx="888.9" cy="2479.9" rx="9.1" ry="6.3" transform="rotate(40 888.9 2479.9)" fill="#5d5d5d" stroke="#6c6c6c" stroke-width="1.6"/><ellipse cx="938.6" cy="2662.4" rx="8.9" ry="5.2" transform="rotate(78 938.6 2662.4)" fill="#6b6b6b" stroke="#7d7d7d" stroke-width="1.6"/><ellipse cx="835.8" cy="2675.9" rx="11.2" ry="6.5" transform="rotate(167 835.8 2675.9)" fill="#929292" stroke="#adadad" stroke-width="1.6"/><ellipse cx="974.9" cy="2519.3" rx="6.6" ry="6.5" transform="rotate(118 974.9 2519.3)" fill="#616161" stroke="#717171" stroke-width="1.6"/><ellipse cx="814.3" cy="2491.8" rx="6.6" ry="4.8" transform="rotate(161 814.3 2491.8)" fill="#5e5e5e" stroke="#6d6d6d" stroke-width="1.6"/><ellipse cx="874.2" cy="2648.9" rx="8.7" ry="6.6" transform="rotate(122 874.2 2648.9)" fill="#8d8d8d" stroke="#a6a6a6" stroke-width="1.6"/><ellipse cx="807.9" cy="2606" rx="7.5" ry="6.6" transform="rotate(92 807.9 2606)" fill="#808080" stroke="#979797" stroke-width="1.6"/><ellipse cx="878" cy="2680.9" rx="6.9" ry="4.8" transform="rotate(109 878 2680.9)" fill="#959595" stroke="#b0b0b0" stroke-width="1.6"/><ellipse cx="830.5" cy="2584.8" rx="7.2" ry="6.3" transform="rotate(14 830.5 2584.8)" fill="#6a6a6a" stroke="#7c7c7c" stroke-width="1.6"/><ellipse cx="967.4" cy="2618.8" rx="7.8" ry="4.7" transform="rotate(22 967.4 2618.8)" fill="#6d6d6d" stroke="#808080" stroke-width="1.6"/><ellipse cx="809.5" cy="2447.6" rx="9.4" ry="4.6" transform="rotate(25 809.5 2447.6)" fill="#454545" stroke="#4f4f4f" stroke-width="1.6"/><ellipse cx="889.7" cy="2454.7" rx="7" ry="5.2" transform="rotate(164 889.7 2454.7)" fill="#494949" stroke="#535353" stroke-width="1.6"/><ellipse cx="827.7" cy="2633.4" rx="6.8" ry="5.9" transform="rotate(107 827.7 2633.4)" fill="#999999" stroke="#b5b5b5" stroke-width="1.6"/><ellipse cx="969" cy="2502.4" rx="10.5" ry="5.6" transform="rotate(1 969 2502.4)" fill="#545454" stroke="#616161" stroke-width="1.6"/><ellipse cx="955.6" cy="2518.1" rx="12.8" ry="6.1" transform="rotate(56 955.6 2518.1)" fill="#5c5c5c" stroke="#6b6b6b" stroke-width="1.6"/><ellipse cx="909.4" cy="2455.6" rx="6.7" ry="6.1" transform="rotate(86 909.4 2455.6)" fill="#4f4f4f" stroke="#5a5a5a" stroke-width="1.6"/><ellipse cx="875.5" cy="2444.4" rx="8.8" ry="6.1" transform="rotate(171 875.5 2444.4)" fill="#505050" stroke="#5c5c5c" stroke-width="1.6"/><ellipse cx="933" cy="2450.4" rx="6.9" ry="5" transform="rotate(30 933 2450.4)" fill="#666666" stroke="#777777" stroke-width="1.6"/><ellipse cx="818.7" cy="2598.4" rx="7.8" ry="5.5" transform="rotate(122 818.7 2598.4)" fill="#797979" stroke="#8e8e8e" stroke-width="1.6"/><ellipse cx="978.6" cy="2459.2" rx="9.5" ry="6.2" transform="rotate(128 978.6 2459.2)" fill="#666666" stroke="#777777" stroke-width="1.6"/><ellipse cx="913.1" cy="2628.8" rx="9.3" ry="5.7" transform="rotate(26 913.1 2628.8)" fill="#6d6d6d" stroke="#808080" stroke-width="1.6"/><ellipse cx="971.3" cy="2447.5" rx="9.4" ry="4.8" transform="rotate(112 971.3 2447.5)" fill="#494949" stroke="#535353" stroke-width="1.6"/><ellipse cx="977.8" cy="2488.6" rx="8" ry="5.5" transform="rotate(154 977.8 2488.6)" fill="#717171" stroke="#848484" stroke-width="1.6"/><ellipse cx="910.2" cy="2582.5" rx="6.7" ry="5.7" transform="rotate(136 910.2 2582.5)" fill="#7c7c7c" stroke="#919191" stroke-width="1.6"/><ellipse cx="919.7" cy="2445.9" rx="7.1" ry="5.1" transform="rotate(21 919.7 2445.9)" fill="#7b7b7b" stroke="#909090" stroke-width="1.6"/><ellipse cx="822.4" cy="2571.5" rx="13.1" ry="6.2" transform="rotate(154 822.4 2571.5)" fill="#878787" stroke="#9f9f9f" stroke-width="1.6"/><ellipse cx="909.3" cy="2669.1" rx="8.4" ry="5" transform="rotate(67 909.3 2669.1)" fill="#8b8b8b" stroke="#a4a4a4" stroke-width="1.6"/><ellipse cx="858.3" cy="2686.7" rx="9" ry="5.4" transform="rotate(122 858.3 2686.7)" fill="#676767" stroke="#787878" stroke-width="1.6"/><ellipse cx="985.7" cy="2505.7" rx="8" ry="6" transform="rotate(58 985.7 2505.7)" fill="#5e5e5e" stroke="#6d6d6d" stroke-width="1.6"/><ellipse cx="898.8" cy="2521.6" rx="7.9" ry="5.2" transform="rotate(110 898.8 2521.6)" fill="#696969" stroke="#7a7a7a" stroke-width="1.6"/><ellipse cx="884.4" cy="2466.8" rx="8.5" ry="6.2" transform="rotate(29 884.4 2466.8)" fill="#7c7c7c" stroke="#929292" stroke-width="1.6"/><ellipse cx="930.7" cy="2508" rx="7.7" ry="4.8" transform="rotate(100 930.7 2508)" fill="#777777" stroke="#8c8c8c" stroke-width="1.6"/><ellipse cx="826.1" cy="2459.1" rx="9.2" ry="5.4" transform="rotate(79 826.1 2459.1)" fill="#525252" stroke="#5e5e5e" stroke-width="1.6"/><ellipse cx="891" cy="2679.7" rx="6.8" ry="5.6" transform="rotate(114 891 2679.7)" fill="#6f6f6f" stroke="#838383" stroke-width="1.6"/><ellipse cx="845.6" cy="2438.9" rx="10.5" ry="5" transform="rotate(92 845.6 2438.9)" fill="#545454" stroke="#616161" stroke-width="1.6"/><ellipse cx="839.7" cy="2616.6" rx="6.5" ry="5.3" transform="rotate(82 839.7 2616.6)" fill="#5f5f5f" stroke="#6e6e6e" stroke-width="1.6"/><ellipse cx="974" cy="2532.8" rx="7.5" ry="6.4" transform="rotate(106 974 2532.8)" fill="#666666" stroke="#777777" stroke-width="1.6"/><ellipse cx="781.3" cy="2578.4" rx="7.1" ry="5.8" transform="rotate(58 781.3 2578.4)" fill="#9b9b9b" stroke="#b8b8b8" stroke-width="1.6"/><ellipse cx="899.5" cy="2467.5" rx="9.6" ry="4.6" transform="rotate(128 899.5 2467.5)" fill="#676767" stroke="#787878" stroke-width="1.6"/><ellipse cx="916.1" cy="2684.7" rx="6.7" ry="5.6" transform="rotate(107 916.1 2684.7)" fill="#838383" stroke="#9a9a9a" stroke-width="1.6"/><ellipse cx="910.8" cy="2655.7" rx="8.1" ry="5.4" transform="rotate(30 910.8 2655.7)" fill="#a7a7a7" stroke="#c6c6c6" stroke-width="1.6"/><ellipse cx="786.1" cy="2526.7" rx="11.5" ry="6.2" transform="rotate(178 786.1 2526.7)" fill="#606060" stroke="#707070" stroke-width="1.6"/><ellipse cx="961.6" cy="2564.4" rx="9.4" ry="6.1" transform="rotate(4 961.6 2564.4)" fill="#6b6b6b" stroke="#7d7d7d" stroke-width="1.6"/><ellipse cx="952.1" cy="2456.7" rx="9.6" ry="5.7" transform="rotate(92 952.1 2456.7)" fill="#6c6c6c" stroke="#7e7e7e" stroke-width="1.6"/><ellipse cx="946.9" cy="2440.5" rx="9.2" ry="4.8" transform="rotate(92 946.9 2440.5)" fill="#555555" stroke="#626262" stroke-width="1.6"/><ellipse cx="841.5" cy="2568.5" rx="9" ry="5.1" transform="rotate(175 841.5 2568.5)" fill="#737373" stroke="#868686" stroke-width="1.6"/><ellipse cx="884.1" cy="2699.6" rx="7" ry="5.4" transform="rotate(23 884.1 2699.6)" fill="#696969" stroke="#7b7b7b" stroke-width="1.6"/><ellipse cx="838.4" cy="2506.5" rx="6.6" ry="5.2" transform="rotate(80 838.4 2506.5)" fill="#3a3a3a" stroke="#424242" stroke-width="1.6"/><ellipse cx="790.2" cy="2496.5" rx="9.1" ry="6.5" transform="rotate(88 790.2 2496.5)" fill="#484848" stroke="#525252" stroke-width="1.6"/><ellipse cx="853.3" cy="2466.6" rx="9.4" ry="5.1" transform="rotate(55 853.3 2466.6)" fill="#4d4d4d" stroke="#595959" stroke-width="1.6"/><ellipse cx="834.1" cy="2602.8" rx="8.5" ry="6.1" transform="rotate(49 834.1 2602.8)" fill="#a0a0a0" stroke="#bebebe" stroke-width="1.6"/><ellipse cx="777.8" cy="2515.9" rx="9.5" ry="5.8" transform="rotate(26 777.8 2515.9)" fill="#4f4f4f" stroke="#5c5c5c" stroke-width="1.6"/><ellipse cx="945.3" cy="2627.5" rx="8.8" ry="4.9" transform="rotate(1 945.3 2627.5)" fill="#606060" stroke="#707070" stroke-width="1.6"/><ellipse cx="867.7" cy="2628.8" rx="7.1" ry="5.7" transform="rotate(51 867.7 2628.8)" fill="#a0a0a0" stroke="#bebebe" stroke-width="1.6"/><ellipse cx="777.5" cy="2498.8" rx="6.6" ry="5" transform="rotate(146 777.5 2498.8)" fill="#595959" stroke="#686868" stroke-width="1.6"/><ellipse cx="933.4" cy="2674.3" rx="8.6" ry="4.7" transform="rotate(138 933.4 2674.3)" fill="#acacac" stroke="#cdcdcd" stroke-width="1.6"/><ellipse cx="869.6" cy="2693.7" rx="9.6" ry="6.1" transform="rotate(67 869.6 2693.7)" fill="#999999" stroke="#b5b5b5" stroke-width="1.6"/><ellipse cx="939.9" cy="2480.9" rx="7.6" ry="5.7" transform="rotate(42 939.9 2480.9)" fill="#646464" stroke="#757575" stroke-width="1.6"/><ellipse cx="929.5" cy="2566.5" rx="7.3" ry="5.9" transform="rotate(17 929.5 2566.5)" fill="#919191" stroke="#ababab" stroke-width="1.6"/><ellipse cx="954.9" cy="2587.8" rx="7.8" ry="6.3" transform="rotate(71 954.9 2587.8)" fill="#606060" stroke="#707070" stroke-width="1.6"/><ellipse cx="789.4" cy="2470.5" rx="8.3" ry="5.1" transform="rotate(66 789.4 2470.5)" fill="#575757" stroke="#656565" stroke-width="1.6"/><ellipse cx="822.1" cy="2503.4" rx="11.7" ry="5.4" transform="rotate(42 822.1 2503.4)" fill="#525252" stroke="#5f5f5f" stroke-width="1.6"/><ellipse cx="882.4" cy="2667.8" rx="12.7" ry="5.6" transform="rotate(158 882.4 2667.8)" fill="#8b8b8b" stroke="#a5a5a5" stroke-width="1.6"/><ellipse cx="958" cy="2471.6" rx="7.3" ry="5.5" transform="rotate(83 958 2471.6)" fill="#787878" stroke="#8c8c8c" stroke-width="1.6"/><ellipse cx="856.6" cy="2494.8" rx="8.8" ry="5.6" transform="rotate(50 856.6 2494.8)" fill="#5c5c5c" stroke="#6b6b6b" stroke-width="1.6"/><ellipse cx="822.2" cy="2615.2" rx="8.8" ry="5.9" transform="rotate(161 822.2 2615.2)" fill="#7b7b7b" stroke="#909090" stroke-width="1.6"/><ellipse cx="940.2" cy="2465.4" rx="9.7" ry="5.6" transform="rotate(81 940.2 2465.4)" fill="#5b5b5b" stroke="#6a6a6a" stroke-width="1.6"/><ellipse cx="813.3" cy="2463.9" rx="7" ry="5.1" transform="rotate(165 813.3 2463.9)" fill="#3c3c3c" stroke="#434343" stroke-width="1.6"/><ellipse cx="945.6" cy="2598.6" rx="8.8" ry="6" transform="rotate(12 945.6 2598.6)" fill="#757575" stroke="#8a8a8a" stroke-width="1.6"/><ellipse cx="823.5" cy="2658.9" rx="7.7" ry="6.1" transform="rotate(67 823.5 2658.9)" fill="#6b6b6b" stroke="#7e7e7e" stroke-width="1.6"/><ellipse cx="933.7" cy="2632.9" rx="8.1" ry="5" transform="rotate(60 933.7 2632.9)" fill="#737373" stroke="#878787" stroke-width="1.6"/><ellipse cx="972.4" cy="2595.2" rx="8.2" ry="6.4" transform="rotate(53 972.4 2595.2)" fill="#666666" stroke="#787878" stroke-width="1.6"/><ellipse cx="918.8" cy="2556.2" rx="9.4" ry="5.8" transform="rotate(19 918.8 2556.2)" fill="#7d7d7d" stroke="#939393" stroke-width="1.6"/><ellipse cx="782.9" cy="2485.1" rx="9.2" ry="5.8" transform="rotate(95 782.9 2485.1)" fill="#515151" stroke="#5e5e5e" stroke-width="1.6"/><ellipse cx="780.3" cy="2562.8" rx="9.1" ry="5.5" transform="rotate(33 780.3 2562.8)" fill="#9c9c9c" stroke="#b9b9b9" stroke-width="1.6"/><ellipse cx="853.4" cy="2616.6" rx="7.3" ry="4.9" transform="rotate(168 853.4 2616.6)" fill="#8f8f8f" stroke="#a9a9a9" stroke-width="1.6"/><ellipse cx="905" cy="2552.6" rx="7.2" ry="5.8" transform="rotate(80 905 2552.6)" fill="#757575" stroke="#8a8a8a" stroke-width="1.6"/><ellipse cx="819.2" cy="2439.3" rx="11.2" ry="5.2" transform="rotate(114 819.2 2439.3)" fill="#464646" stroke="#505050" stroke-width="1.6"/><ellipse cx="842.1" cy="2687.5" rx="7.5" ry="6.2" transform="rotate(134 842.1 2687.5)" fill="#a8a8a8" stroke="#c7c7c7" stroke-width="1.6"/><ellipse cx="830" cy="2446.4" rx="8" ry="5" transform="rotate(78 830 2446.4)" fill="#4a4a4a" stroke="#545454" stroke-width="1.6"/><ellipse cx="870.3" cy="2459.5" rx="7.1" ry="4.8" transform="rotate(17 870.3 2459.5)" fill="#6e6e6e" stroke="#818181" stroke-width="1.6"/><ellipse cx="788.2" cy="2594.6" rx="9.2" ry="6.2" transform="rotate(31 788.2 2594.6)" fill="#777777" stroke="#8b8b8b" stroke-width="1.6"/><ellipse cx="927.2" cy="2595.6" rx="9.1" ry="5.5" transform="rotate(127 927.2 2595.6)" fill="#a7a7a7" stroke="#c6c6c6" stroke-width="1.6"/><ellipse cx="853.5" cy="2524.1" rx="7.7" ry="5.8" transform="rotate(18 853.5 2524.1)" fill="#4d4d4d" stroke="#595959" stroke-width="1.6"/><ellipse cx="895.3" cy="2442.1" rx="7.8" ry="4.8" transform="rotate(55 895.3 2442.1)" fill="#525252" stroke="#5f5f5f" stroke-width="1.6"/><ellipse cx="948.6" cy="2611.1" rx="12.3" ry="5.7" transform="rotate(144 948.6 2611.1)" fill="#a3a3a3" stroke="#c2c2c2" stroke-width="1.6"/><ellipse cx="889.2" cy="2506.7" rx="9.5" ry="6.5" transform="rotate(39 889.2 2506.7)" fill="#707070" stroke="#848484" stroke-width="1.6"/><ellipse cx="809.1" cy="2523.2" rx="10.7" ry="5.1" transform="rotate(92 809.1 2523.2)" fill="#444444" stroke="#4e4e4e" stroke-width="1.6"/><ellipse cx="817.5" cy="2585.3" rx="12" ry="4.9" transform="rotate(25 817.5 2585.3)" fill="#747474" stroke="#888888" stroke-width="1.6"/><ellipse cx="921.7" cy="2662.2" rx="7.6" ry="5.3" transform="rotate(114 921.7 2662.2)" fill="#838383" stroke="#9a9a9a" stroke-width="1.6"/><ellipse cx="912" cy="2595" rx="7.8" ry="6.1" transform="rotate(69 912 2595)" fill="#606060" stroke="#707070" stroke-width="1.6"/><ellipse cx="775.8" cy="2546.4" rx="9.1" ry="4.8" transform="rotate(18 775.8 2546.4)" fill="#6a6a6a" stroke="#7c7c7c" stroke-width="1.6"/><ellipse cx="937.3" cy="2534.7" rx="7.3" ry="4.7" transform="rotate(66 937.3 2534.7)" fill="#565656" stroke="#646464" stroke-width="1.6"/><ellipse cx="883.7" cy="2518.6" rx="7.5" ry="4.7" transform="rotate(141 883.7 2518.6)" fill="#7c7c7c" stroke="#929292" stroke-width="1.6"/><ellipse cx="831.7" cy="2556.1" rx="7.6" ry="5.5" transform="rotate(8 831.7 2556.1)" fill="#6d6d6d" stroke="#7f7f7f" stroke-width="1.6"/><ellipse cx="804.7" cy="2542" rx="7.9" ry="6.5" transform="rotate(83 804.7 2542)" fill="#7c7c7c" stroke="#929292" stroke-width="1.6"/><ellipse cx="803.3" cy="2650.5" rx="8.4" ry="4.8" transform="rotate(102 803.3 2650.5)" fill="#979797" stroke="#b3b3b3" stroke-width="1.6"/><ellipse cx="970.9" cy="2581.2" rx="9" ry="6.5" transform="rotate(78 970.9 2581.2)" fill="#7e7e7e" stroke="#949494" stroke-width="1.6"/><ellipse cx="823.2" cy="2529.6" rx="7.1" ry="5.5" transform="rotate(155 823.2 2529.6)" fill="#494949" stroke="#535353" stroke-width="1.6"/><ellipse cx="917.9" cy="2571.9" rx="7.8" ry="5.2" transform="rotate(61 917.9 2571.9)" fill="#8f8f8f" stroke="#a9a9a9" stroke-width="1.6"/><ellipse cx="950.3" cy="2530.3" rx="7.4" ry="4.7" transform="rotate(164 950.3 2530.3)" fill="#7d7d7d" stroke="#939393" stroke-width="1.6"/><ellipse cx="795.3" cy="2635.9" rx="9.4" ry="5.1" transform="rotate(62 795.3 2635.9)" fill="#ababab" stroke="#cbcbcb" stroke-width="1.6"/><ellipse cx="959.7" cy="2440.2" rx="8.1" ry="5.5" transform="rotate(162 959.7 2440.2)" fill="#595959" stroke="#676767" stroke-width="1.6"/><ellipse cx="805.6" cy="2505.2" rx="7.3" ry="5.7" transform="rotate(102 805.6 2505.2)" fill="#606060" stroke="#707070" stroke-width="1.6"/><ellipse cx="867.1" cy="2667.1" rx="9" ry="5.6" transform="rotate(82 867.1 2667.1)" fill="#979797" stroke="#b2b2b2" stroke-width="1.6"/><ellipse cx="806.6" cy="2573.7" rx="7.9" ry="5.3" transform="rotate(99 806.6 2573.7)" fill="#adadad" stroke="#cecece" stroke-width="1.6"/><ellipse cx="947.8" cy="2508" rx="7.3" ry="6" transform="rotate(143 947.8 2508)" fill="#6e6e6e" stroke="#818181" stroke-width="1.6"/><ellipse cx="913" cy="2607.8" rx="6.8" ry="4.8" transform="rotate(128 913 2607.8)" fill="#9c9c9c" stroke="#b9b9b9" stroke-width="1.6"/><ellipse cx="795.4" cy="2608.5" rx="8.8" ry="6.2" transform="rotate(28 795.4 2608.5)" fill="#a5a5a5" stroke="#c3c3c3" stroke-width="1.6"/><ellipse cx="966" cy="2461.6" rx="7.2" ry="5.1" transform="rotate(24 966 2461.6)" fill="#686868" stroke="#797979" stroke-width="1.6"/><ellipse cx="827.4" cy="2517.3" rx="9.2" ry="5.9" transform="rotate(9 827.4 2517.3)" fill="#3c3c3c" stroke="#444444" stroke-width="1.6"/><ellipse cx="846" cy="2456.2" rx="6.5" ry="4.7" transform="rotate(106 846 2456.2)" fill="#555555" stroke="#636363" stroke-width="1.6"/><ellipse cx="949.4" cy="2653.3" rx="6.9" ry="4.8" transform="rotate(170 949.4 2653.3)" fill="#7f7f7f" stroke="#959595" stroke-width="1.6"/><ellipse cx="950.9" cy="2556.8" rx="8.2" ry="4.7" transform="rotate(159 950.9 2556.8)" fill="#626262" stroke="#727272" stroke-width="1.6"/><ellipse cx="907.4" cy="2438.1" rx="7.1" ry="5.9" transform="rotate(120 907.4 2438.1)" fill="#7c7c7c" stroke="#929292" stroke-width="1.6"/><ellipse cx="862.2" cy="2439" rx="6.5" ry="5.6" transform="rotate(94 862.2 2439)" fill="#717171" stroke="#848484" stroke-width="1.6"/><ellipse cx="961.8" cy="2630.4" rx="6.8" ry="5" transform="rotate(112 961.8 2630.4)" fill="#686868" stroke="#7a7a7a" stroke-width="1.6"/><ellipse cx="898.3" cy="2494.6" rx="7.4" ry="6" transform="rotate(76 898.3 2494.6)" fill="#6a6a6a" stroke="#7c7c7c" stroke-width="1.6"/><ellipse cx="987.2" cy="2473.1" rx="8.7" ry="6.3" transform="rotate(16 987.2 2473.1)" fill="#6f6f6f" stroke="#818181" stroke-width="1.6"/><ellipse cx="895.8" cy="2667.2" rx="9.3" ry="6.2" transform="rotate(149 895.8 2667.2)" fill="#8c8c8c" stroke="#a5a5a5" stroke-width="1.6"/><ellipse cx="799.3" cy="2455.4" rx="11.9" ry="6.4" transform="rotate(120 799.3 2455.4)" fill="#4b4b4b" stroke="#565656" stroke-width="1.6"/><ellipse cx="825.8" cy="2473.9" rx="8.9" ry="6.5" transform="rotate(127 825.8 2473.9)" fill="#454545" stroke="#4f4f4f" stroke-width="1.6"/><ellipse cx="899.1" cy="2631.8" rx="7.1" ry="6.2" transform="rotate(122 899.1 2631.8)" fill="#777777" stroke="#8b8b8b" stroke-width="1.6"/><ellipse cx="799.1" cy="2486.7" rx="9.4" ry="5.3" transform="rotate(152 799.1 2486.7)" fill="#484848" stroke="#525252" stroke-width="1.6"/><ellipse cx="773.8" cy="2533.8" rx="6.5" ry="5.6" transform="rotate(118 773.8 2533.8)" fill="#5e5e5e" stroke="#6d6d6d" stroke-width="1.6"/><ellipse cx="818.1" cy="2559.3" rx="8.2" ry="6.4" transform="rotate(132 818.1 2559.3)" fill="#777777" stroke="#8c8c8c" stroke-width="1.6"/><ellipse cx="843.7" cy="2494.9" rx="8.2" ry="5.9" transform="rotate(18 843.7 2494.9)" fill="#404040" stroke="#484848" stroke-width="1.6"/><ellipse cx="821.7" cy="2672.3" rx="8.5" ry="6.4" transform="rotate(77 821.7 2672.3)" fill="#696969" stroke="#7b7b7b" stroke-width="1.6"/><ellipse cx="843.2" cy="2665.4" rx="7" ry="5.6" transform="rotate(9 843.2 2665.4)" fill="#a5a5a5" stroke="#c4c4c4" stroke-width="1.6"/><ellipse cx="804.1" cy="2593.9" rx="8.8" ry="5.8" transform="rotate(79 804.1 2593.9)" fill="#a4a4a4" stroke="#c3c3c3" stroke-width="1.6"/><circle cx="893" cy="2575" r="3.5" fill="#f0f0f0"/><circle cx="893" cy="2580" r="3.5" fill="#f0f0f0"/><circle cx="920" cy="2604" r="3.5" fill="#f0f0f0"/><circle cx="913" cy="2622" r="3.5" fill="#f0f0f0"/><circle cx="860" cy="2632" r="3.5" fill="#f0f0f0"/><circle cx="875" cy="2635" r="3.5" fill="#f0f0f0"/><circle cx="956" cy="2648" r="3.5" fill="#f0f0f0"/><circle cx="840" cy="2575" r="3.5" fill="#f0f0f0"/><circle cx="960" cy="2520" r="3.5" fill="#f0f0f0"/></g></g>
<g clip-path="url(#c01)"><path d="M1105.6,2135 L1105.6,2169.6 L1074,2199.7 L1065,2228.3 L1054.4,2277.9 L1043.9,2308 L1051.4,2330.6 L1068,2353.1 L1081.5,2372.7 L1099.6,2390.8 L1114.6,2402.8 L1137.2,2407.3 L1159.7,2399.8 L1182.3,2390.8 L1197.4,2375.7 L1212.4,2357.7 L1227.4,2335.1 L1230.5,2308 L1235,2277.9 L1239.5,2240.3 L1238,2219.2 L1219.9,2202.7 L1212.4,2180.1 L1216.9,2157.6 L1219.9,2135 Z" fill="#121212" stroke="#303030" stroke-width="2.5" filter="url(#gb2)"/><g fill="none" stroke="#222" stroke-width="1.4" filter="url(#nb)"><ellipse cx="1232" cy="2260.2" rx="12.4" ry="10" transform="rotate(92 1232 2260.2)"/><ellipse cx="1173.9" cy="2302.8" rx="11.2" ry="8.8" transform="rotate(10 1173.9 2302.8)"/><ellipse cx="1131.6" cy="2207" rx="14.1" ry="10.8" transform="rotate(127 1131.6 2207)"/><ellipse cx="1049" cy="2306.8" rx="15.7" ry="9.3" transform="rotate(173 1049 2306.8)"/><ellipse cx="1171.7" cy="2161.1" rx="12.1" ry="9.2" transform="rotate(174 1171.7 2161.1)"/><ellipse cx="1088.8" cy="2347.4" rx="14.9" ry="9.4" transform="rotate(104 1088.8 2347.4)"/><ellipse cx="1223" cy="2299.4" rx="17.7" ry="8.9" transform="rotate(42 1223 2299.4)"/><ellipse cx="1082.4" cy="2286.9" rx="13.6" ry="10" transform="rotate(165 1082.4 2286.9)"/><ellipse cx="1174.5" cy="2324.3" rx="14.7" ry="9" transform="rotate(163 1174.5 2324.3)"/><ellipse cx="1191.8" cy="2327.8" rx="13.4" ry="10.7" transform="rotate(123 1191.8 2327.8)"/><ellipse cx="1158.6" cy="2300.9" rx="10.9" ry="10.1" transform="rotate(158 1158.6 2300.9)"/><ellipse cx="1136.7" cy="2193.4" rx="13.1" ry="9.8" transform="rotate(165 1136.7 2193.4)"/><ellipse cx="1103.6" cy="2317.1" rx="11.3" ry="9.6" transform="rotate(164 1103.6 2317.1)"/><ellipse cx="1079.3" cy="2245.6" rx="12.8" ry="9.8" transform="rotate(151 1079.3 2245.6)"/><ellipse cx="1211.7" cy="2195.4" rx="11.1" ry="8.8" transform="rotate(80 1211.7 2195.4)"/><ellipse cx="1091.9" cy="2226.2" rx="13.1" ry="9.8" transform="rotate(136 1091.9 2226.2)"/><ellipse cx="1188.5" cy="2360.4" rx="12.9" ry="10.2" transform="rotate(161 1188.5 2360.4)"/><ellipse cx="1151.6" cy="2346.2" rx="12.3" ry="8.8" transform="rotate(11 1151.6 2346.2)"/><ellipse cx="1213.9" cy="2323.8" rx="13.9" ry="9.8" transform="rotate(15 1213.9 2323.8)"/><ellipse cx="1156.5" cy="2185.1" rx="12.5" ry="9.8" transform="rotate(4 1156.5 2185.1)"/><ellipse cx="1091.2" cy="2262.4" rx="11.1" ry="9.6" transform="rotate(162 1091.2 2262.4)"/><ellipse cx="1181" cy="2219.5" rx="17" ry="10" transform="rotate(22 1181 2219.5)"/><ellipse cx="1164.8" cy="2371.3" rx="11.4" ry="10.3" transform="rotate(162 1164.8 2371.3)"/><ellipse cx="1076.5" cy="2321.8" rx="16.3" ry="10.8" transform="rotate(136 1076.5 2321.8)"/><ellipse cx="1120.5" cy="2382.6" rx="13.7" ry="10.2" transform="rotate(137 1120.5 2382.6)"/><ellipse cx="1175.1" cy="2289.8" rx="12.5" ry="9.5" transform="rotate(115 1175.1 2289.8)"/><ellipse cx="1151.6" cy="2272.2" rx="14" ry="9.9" transform="rotate(114 1151.6 2272.2)"/><ellipse cx="1195.5" cy="2238.7" rx="17.8" ry="10.3" transform="rotate(170 1195.5 2238.7)"/><ellipse cx="1146.8" cy="2163.3" rx="12.2" ry="10.1" transform="rotate(47 1146.8 2163.3)"/><ellipse cx="1201.9" cy="2305.5" rx="11.9" ry="9.3" transform="rotate(101 1201.9 2305.5)"/><ellipse cx="1091.6" cy="2248.8" rx="12.8" ry="8.9" transform="rotate(13 1091.6 2248.8)"/><ellipse cx="1098.6" cy="2333.9" rx="13.1" ry="9.3" transform="rotate(64 1098.6 2333.9)"/><ellipse cx="1086.1" cy="2190.6" rx="13.3" ry="9.8" transform="rotate(70 1086.1 2190.6)"/><ellipse cx="1187.5" cy="2296.9" rx="11.4" ry="9.1" transform="rotate(31 1187.5 2296.9)"/><ellipse cx="1116.1" cy="2277.8" rx="12.4" ry="9.3" transform="rotate(118 1116.1 2277.8)"/><ellipse cx="1118.1" cy="2259.1" rx="14" ry="10.5" transform="rotate(2 1118.1 2259.1)"/><ellipse cx="1176.6" cy="2200.8" rx="11.3" ry="10.3" transform="rotate(170 1176.6 2200.8)"/><ellipse cx="1233" cy="2230.6" rx="12.3" ry="9" transform="rotate(24 1233 2230.6)"/><ellipse cx="1160.6" cy="2356.3" rx="10.7" ry="9.1" transform="rotate(25 1160.6 2356.3)"/><ellipse cx="1121.8" cy="2305.2" rx="13" ry="10.3" transform="rotate(87 1121.8 2305.2)"/><ellipse cx="1226.8" cy="2335.9" rx="12.7" ry="10.3" transform="rotate(106 1226.8 2335.9)"/><ellipse cx="1059.9" cy="2280.7" rx="14" ry="8.7" transform="rotate(53 1059.9 2280.7)"/><ellipse cx="1213.5" cy="2228.6" rx="12.3" ry="9.1" transform="rotate(179 1213.5 2228.6)"/><ellipse cx="1092.8" cy="2309.7" rx="10.9" ry="10.8" transform="rotate(95 1092.8 2309.7)"/><ellipse cx="1140.6" cy="2138" rx="12.7" ry="10.2" transform="rotate(157 1140.6 2138)"/><ellipse cx="1211.9" cy="2351.4" rx="10.8" ry="9.6" transform="rotate(38 1211.9 2351.4)"/><ellipse cx="1182.7" cy="2373.5" rx="12.7" ry="10.6" transform="rotate(70 1182.7 2373.5)"/><ellipse cx="1199" cy="2275.5" rx="10.8" ry="9.6" transform="rotate(7 1199 2275.5)"/><ellipse cx="1158.6" cy="2327.2" rx="15.9" ry="10.2" transform="rotate(65 1158.6 2327.2)"/><ellipse cx="1073.3" cy="2261.3" rx="12.8" ry="10.7" transform="rotate(103 1073.3 2261.3)"/><ellipse cx="1211.4" cy="2289.2" rx="12.1" ry="10.2" transform="rotate(149 1211.4 2289.2)"/><ellipse cx="1099.8" cy="2355.3" rx="13.6" ry="9.3" transform="rotate(111 1099.8 2355.3)"/><ellipse cx="1203.6" cy="2336.9" rx="12" ry="10.4" transform="rotate(138 1203.6 2336.9)"/><ellipse cx="1160.3" cy="2283" rx="15.8" ry="10.6" transform="rotate(67 1160.3 2283)"/><ellipse cx="1215.5" cy="2141.1" rx="12.1" ry="8.9" transform="rotate(20 1215.5 2141.1)"/><ellipse cx="1120.7" cy="2402.4" rx="10.7" ry="10" transform="rotate(65 1120.7 2402.4)"/><ellipse cx="1123.2" cy="2321" rx="17.1" ry="10.7" transform="rotate(79 1123.2 2321)"/><ellipse cx="1213.7" cy="2163" rx="16" ry="9.7" transform="rotate(67 1213.7 2163)"/><ellipse cx="1130.7" cy="2233.2" rx="13.2" ry="10.7" transform="rotate(101 1130.7 2233.2)"/><ellipse cx="1165.1" cy="2393" rx="10.9" ry="9.8" transform="rotate(5 1165.1 2393)"/><ellipse cx="1146.5" cy="2397" rx="15.6" ry="9.2" transform="rotate(136 1146.5 2397)"/><ellipse cx="1182.6" cy="2274.5" rx="11.7" ry="9.3" transform="rotate(116 1182.6 2274.5)"/><ellipse cx="1225.4" cy="2316.4" rx="11.6" ry="10.4" transform="rotate(26 1225.4 2316.4)"/><ellipse cx="1193.4" cy="2257.1" rx="12" ry="9.9" transform="rotate(178 1193.4 2257.1)"/><ellipse cx="1102.7" cy="2300.3" rx="11.3" ry="9.7" transform="rotate(177 1102.7 2300.3)"/><ellipse cx="1151.1" cy="2371.2" rx="11.9" ry="9" transform="rotate(4 1151.1 2371.2)"/><ellipse cx="1177.2" cy="2172.9" rx="12.5" ry="9.6" transform="rotate(128 1177.2 2172.9)"/><ellipse cx="1110.5" cy="2137.2" rx="10.9" ry="9.6" transform="rotate(150 1110.5 2137.2)"/><ellipse cx="1203.7" cy="2365.3" rx="13.8" ry="10.3" transform="rotate(83 1203.7 2365.3)"/><ellipse cx="1164.5" cy="2196.7" rx="11" ry="10.4" transform="rotate(135 1164.5 2196.7)"/><ellipse cx="1191.1" cy="2346.9" rx="14" ry="9.5" transform="rotate(135 1191.1 2346.9)"/><ellipse cx="1150.4" cy="2313.7" rx="13.9" ry="9.4" transform="rotate(37 1150.4 2313.7)"/><ellipse cx="1160.4" cy="2246.6" rx="13.8" ry="10.5" transform="rotate(162 1160.4 2246.6)"/><ellipse cx="1232.9" cy="2289" rx="11.7" ry="10.1" transform="rotate(89 1232.9 2289)"/><ellipse cx="1131.2" cy="2390.1" rx="13.3" ry="10.2" transform="rotate(126 1131.2 2390.1)"/><ellipse cx="1196.6" cy="2188.7" rx="12.9" ry="10.4" transform="rotate(32 1196.6 2188.7)"/><ellipse cx="1230.3" cy="2275.3" rx="12.5" ry="10.6" transform="rotate(150 1230.3 2275.3)"/><ellipse cx="1127.5" cy="2286.8" rx="10.8" ry="10.5" transform="rotate(67 1127.5 2286.8)"/><ellipse cx="1170.5" cy="2212.6" rx="13.3" ry="9.6" transform="rotate(51 1170.5 2212.6)"/><ellipse cx="1164.4" cy="2312.3" rx="13.1" ry="10.6" transform="rotate(102 1164.4 2312.3)"/><ellipse cx="1214.4" cy="2309.6" rx="15.4" ry="9.5" transform="rotate(128 1214.4 2309.6)"/><ellipse cx="1085.1" cy="2274.5" rx="13.7" ry="9.8" transform="rotate(65 1085.1 2274.5)"/><ellipse cx="1087" cy="2374.4" rx="16.6" ry="9.2" transform="rotate(105 1087 2374.4)"/><ellipse cx="1099.6" cy="2215.3" rx="13.5" ry="9.8" transform="rotate(142 1099.6 2215.3)"/></g><path d="M1132,2281 L1146,2278 L1152,2290 L1150,2312 L1140,2318 L1131,2308 Z" fill="#e8e8e8" filter="url(#gb2)"/><ellipse cx="1141" cy="2296" rx="6" ry="10" fill="#ffffff" filter="url(#nb)"/><ellipse cx="1140.5" cy="2321" rx="4" ry="4" fill="#aaaaaa" filter="url(#nb)"/><ellipse cx="1093" cy="2152" rx="5" ry="15" fill="#c8c8c8" filter="url(#gb2)"/><line x1="1178" y1="2272" x2="1163" y2="2283" stroke="#fff" stroke-width="2.6"/><path d="M1157,2288 L1161,2276 L1169,2286 Z" fill="#fff"/></g>
<g clip-path="url(#c11)"><path d="M1062,2438 L1039.4,2475.6 L1028.9,2501.2 L1025.8,2550.8 L1034.9,2580.9 L1040.9,2611 L1049.9,2641.1 L1065,2663.7 L1084.5,2681.7 L1107.1,2696.8 L1134.2,2705 L1159.7,2698.3 L1182.3,2681.7 L1201.9,2663.7 L1215.4,2641.1 L1224.4,2611 L1228.9,2580.9 L1225.9,2550.8 L1235,2520.7 L1244,2490.7 L1239.5,2460.6 L1232,2438 Z" fill="#101010" stroke="#2c2c2c" stroke-width="2.5" filter="url(#gb2)"/><g fill="none" stroke="#1c1c1c" stroke-width="1.4" filter="url(#nb)"><ellipse cx="1172.6" cy="2470.2" rx="10.2" ry="9.1" transform="rotate(145 1172.6 2470.2)"/><ellipse cx="1097.8" cy="2544.1" rx="16.7" ry="8.4" transform="rotate(91 1097.8 2544.1)"/><ellipse cx="1206.5" cy="2542.9" rx="11.6" ry="9.6" transform="rotate(69 1206.5 2542.9)"/><ellipse cx="1139.1" cy="2492.7" rx="11.6" ry="9.2" transform="rotate(18 1139.1 2492.7)"/><ellipse cx="1125.6" cy="2488.9" rx="11.1" ry="9.4" transform="rotate(86 1125.6 2488.9)"/><ellipse cx="1094.5" cy="2652" rx="12.9" ry="9.7" transform="rotate(94 1094.5 2652)"/><ellipse cx="1181.3" cy="2490.4" rx="11.1" ry="8.9" transform="rotate(124 1181.3 2490.4)"/><ellipse cx="1193.9" cy="2547.8" rx="12.1" ry="10.2" transform="rotate(104 1193.9 2547.8)"/><ellipse cx="1142.7" cy="2652.5" rx="11.5" ry="8.6" transform="rotate(56 1142.7 2652.5)"/><ellipse cx="1077.1" cy="2544.7" rx="11.3" ry="9.8" transform="rotate(16 1077.1 2544.7)"/><ellipse cx="1172.8" cy="2526.2" rx="11" ry="9.1" transform="rotate(1 1172.8 2526.2)"/><ellipse cx="1058.2" cy="2561" rx="12.2" ry="10.1" transform="rotate(82 1058.2 2561)"/><ellipse cx="1187.5" cy="2520.9" rx="11.8" ry="9.1" transform="rotate(24 1187.5 2520.9)"/><ellipse cx="1212.6" cy="2601.6" rx="12.8" ry="9.2" transform="rotate(47 1212.6 2601.6)"/><ellipse cx="1090.6" cy="2468.7" rx="13.1" ry="10.1" transform="rotate(158 1090.6 2468.7)"/><ellipse cx="1203.1" cy="2572.5" rx="12.3" ry="9.3" transform="rotate(69 1203.1 2572.5)"/><ellipse cx="1159.2" cy="2642.6" rx="14.3" ry="8.7" transform="rotate(15 1159.2 2642.6)"/><ellipse cx="1068.2" cy="2643.4" rx="11.6" ry="9.5" transform="rotate(43 1068.2 2643.4)"/><ellipse cx="1107.9" cy="2673.2" rx="13.5" ry="9.4" transform="rotate(112 1107.9 2673.2)"/><ellipse cx="1188.6" cy="2608.2" rx="10.8" ry="9.5" transform="rotate(103 1188.6 2608.2)"/><ellipse cx="1170.6" cy="2542" rx="16" ry="9.7" transform="rotate(18 1170.6 2542)"/><ellipse cx="1155.2" cy="2565" rx="13.4" ry="9.3" transform="rotate(70 1155.2 2565)"/><ellipse cx="1226.2" cy="2472.7" rx="13" ry="9.2" transform="rotate(46 1226.2 2472.7)"/><ellipse cx="1157.8" cy="2693.1" rx="10.7" ry="8.9" transform="rotate(163 1157.8 2693.1)"/><ellipse cx="1161.4" cy="2482.3" rx="13" ry="10.1" transform="rotate(78 1161.4 2482.3)"/><ellipse cx="1202.8" cy="2640.6" rx="11.9" ry="10" transform="rotate(156 1202.8 2640.6)"/><ellipse cx="1142.2" cy="2479.9" rx="12.9" ry="10.1" transform="rotate(40 1142.2 2479.9)"/><ellipse cx="1089.1" cy="2675.9" rx="15" ry="10.3" transform="rotate(167 1089.1 2675.9)"/><ellipse cx="1067.6" cy="2491.8" rx="10.4" ry="8.6" transform="rotate(161 1067.6 2491.8)"/><ellipse cx="1061.2" cy="2606" rx="11.3" ry="10.4" transform="rotate(92 1061.2 2606)"/><ellipse cx="1083.8" cy="2584.8" rx="11" ry="10.1" transform="rotate(14 1083.8 2584.8)"/><ellipse cx="1062.8" cy="2447.6" rx="13.2" ry="8.4" transform="rotate(25 1062.8 2447.6)"/><ellipse cx="1081" cy="2633.4" rx="10.6" ry="9.7" transform="rotate(107 1081 2633.4)"/><ellipse cx="1208.9" cy="2518.1" rx="16.6" ry="9.9" transform="rotate(56 1208.9 2518.1)"/><ellipse cx="1128.8" cy="2444.4" rx="12.6" ry="9.9" transform="rotate(171 1128.8 2444.4)"/><ellipse cx="1072" cy="2598.4" rx="11.6" ry="9.3" transform="rotate(122 1072 2598.4)"/><ellipse cx="1166.4" cy="2628.8" rx="13.1" ry="9.5" transform="rotate(26 1166.4 2628.8)"/><ellipse cx="1231.1" cy="2488.6" rx="11.8" ry="9.3" transform="rotate(154 1231.1 2488.6)"/><ellipse cx="1173" cy="2445.9" rx="10.9" ry="8.9" transform="rotate(21 1173 2445.9)"/><ellipse cx="1162.6" cy="2669.1" rx="12.2" ry="8.8" transform="rotate(67 1162.6 2669.1)"/><ellipse cx="1239" cy="2505.7" rx="11.8" ry="9.8" transform="rotate(58 1239 2505.7)"/><ellipse cx="1137.7" cy="2466.8" rx="12.3" ry="10" transform="rotate(29 1137.7 2466.8)"/><ellipse cx="1079.4" cy="2459.1" rx="13" ry="9.2" transform="rotate(79 1079.4 2459.1)"/><ellipse cx="1098.9" cy="2438.9" rx="14.3" ry="8.8" transform="rotate(92 1098.9 2438.9)"/><ellipse cx="1227.3" cy="2532.8" rx="11.3" ry="10.2" transform="rotate(106 1227.3 2532.8)"/><ellipse cx="1152.8" cy="2467.5" rx="13.4" ry="8.4" transform="rotate(128 1152.8 2467.5)"/><ellipse cx="1164.1" cy="2655.7" rx="11.9" ry="9.2" transform="rotate(30 1164.1 2655.7)"/><ellipse cx="1214.9" cy="2564.4" rx="13.2" ry="9.9" transform="rotate(4 1214.9 2564.4)"/><ellipse cx="1200.2" cy="2440.5" rx="13" ry="8.6" transform="rotate(92 1200.2 2440.5)"/><ellipse cx="1137.4" cy="2699.6" rx="10.8" ry="9.2" transform="rotate(23 1137.4 2699.6)"/><ellipse cx="1043.5" cy="2496.5" rx="12.9" ry="10.3" transform="rotate(88 1043.5 2496.5)"/><ellipse cx="1087.4" cy="2602.8" rx="12.3" ry="9.9" transform="rotate(49 1087.4 2602.8)"/><ellipse cx="1198.6" cy="2627.5" rx="12.6" ry="8.7" transform="rotate(1 1198.6 2627.5)"/><ellipse cx="1030.8" cy="2498.8" rx="10.4" ry="8.8" transform="rotate(146 1030.8 2498.8)"/><ellipse cx="1122.9" cy="2693.7" rx="13.4" ry="9.9" transform="rotate(67 1122.9 2693.7)"/><ellipse cx="1182.8" cy="2566.5" rx="11.1" ry="9.7" transform="rotate(17 1182.8 2566.5)"/><ellipse cx="1042.7" cy="2470.5" rx="12.1" ry="8.9" transform="rotate(66 1042.7 2470.5)"/><ellipse cx="1135.7" cy="2667.8" rx="16.5" ry="9.4" transform="rotate(158 1135.7 2667.8)"/><ellipse cx="1109.9" cy="2494.8" rx="12.6" ry="9.4" transform="rotate(50 1109.9 2494.8)"/><ellipse cx="1193.5" cy="2465.4" rx="13.5" ry="9.4" transform="rotate(81 1193.5 2465.4)"/><ellipse cx="1198.9" cy="2598.6" rx="12.6" ry="9.8" transform="rotate(12 1198.9 2598.6)"/><ellipse cx="1187" cy="2632.9" rx="11.9" ry="8.8" transform="rotate(60 1187 2632.9)"/><ellipse cx="1172.1" cy="2556.2" rx="13.2" ry="9.6" transform="rotate(19 1172.1 2556.2)"/><ellipse cx="1033.6" cy="2562.8" rx="12.9" ry="9.3" transform="rotate(33 1033.6 2562.8)"/><ellipse cx="1158.3" cy="2552.6" rx="11" ry="9.6" transform="rotate(80 1158.3 2552.6)"/><ellipse cx="1095.4" cy="2687.5" rx="11.3" ry="10" transform="rotate(134 1095.4 2687.5)"/><ellipse cx="1123.6" cy="2459.5" rx="10.9" ry="8.6" transform="rotate(17 1123.6 2459.5)"/><ellipse cx="1180.5" cy="2595.6" rx="12.9" ry="9.3" transform="rotate(127 1180.5 2595.6)"/><ellipse cx="1148.6" cy="2442.1" rx="11.6" ry="8.6" transform="rotate(55 1148.6 2442.1)"/><ellipse cx="1142.5" cy="2506.7" rx="13.3" ry="10.3" transform="rotate(39 1142.5 2506.7)"/><ellipse cx="1070.8" cy="2585.3" rx="15.8" ry="8.7" transform="rotate(25 1070.8 2585.3)"/><ellipse cx="1165.3" cy="2595" rx="11.6" ry="9.9" transform="rotate(69 1165.3 2595)"/><ellipse cx="1190.6" cy="2534.7" rx="11.1" ry="8.5" transform="rotate(66 1190.6 2534.7)"/><ellipse cx="1085" cy="2556.1" rx="11.4" ry="9.3" transform="rotate(8 1085 2556.1)"/><ellipse cx="1056.6" cy="2650.5" rx="12.2" ry="8.6" transform="rotate(102 1056.6 2650.5)"/><ellipse cx="1076.5" cy="2529.6" rx="10.9" ry="9.3" transform="rotate(155 1076.5 2529.6)"/><ellipse cx="1203.6" cy="2530.3" rx="11.2" ry="8.5" transform="rotate(164 1203.6 2530.3)"/><ellipse cx="1213" cy="2440.2" rx="11.9" ry="9.3" transform="rotate(162 1213 2440.2)"/><ellipse cx="1120.4" cy="2667.1" rx="12.8" ry="9.4" transform="rotate(82 1120.4 2667.1)"/><ellipse cx="1201.1" cy="2508" rx="11.1" ry="9.8" transform="rotate(143 1201.1 2508)"/><ellipse cx="1048.7" cy="2608.5" rx="12.6" ry="10" transform="rotate(28 1048.7 2608.5)"/><ellipse cx="1080.7" cy="2517.3" rx="13" ry="9.7" transform="rotate(9 1080.7 2517.3)"/><ellipse cx="1202.7" cy="2653.3" rx="10.7" ry="8.6" transform="rotate(170 1202.7 2653.3)"/><ellipse cx="1160.7" cy="2438.1" rx="10.9" ry="9.7" transform="rotate(120 1160.7 2438.1)"/><ellipse cx="1215.1" cy="2630.4" rx="10.6" ry="8.8" transform="rotate(112 1215.1 2630.4)"/><ellipse cx="1240.5" cy="2473.1" rx="12.5" ry="10.1" transform="rotate(16 1240.5 2473.1)"/><ellipse cx="1052.6" cy="2455.4" rx="15.7" ry="10.2" transform="rotate(120 1052.6 2455.4)"/><ellipse cx="1152.4" cy="2631.8" rx="10.9" ry="10" transform="rotate(122 1152.4 2631.8)"/><ellipse cx="1027.1" cy="2533.8" rx="10.3" ry="9.4" transform="rotate(118 1027.1 2533.8)"/><ellipse cx="1097" cy="2494.9" rx="12" ry="9.7" transform="rotate(18 1097 2494.9)"/><ellipse cx="1096.5" cy="2665.4" rx="10.8" ry="9.4" transform="rotate(9 1096.5 2665.4)"/></g><ellipse cx="1193" cy="2640" rx="24" ry="32" fill="#333" opacity="0.75" filter="url(#gb)"/><ellipse cx="1130" cy="2688" rx="22" ry="12" fill="#333" opacity="0.8" filter="url(#gb)"/><ellipse cx="1121" cy="2693" rx="6" ry="5" fill="#bbbbbb" filter="url(#gb2)"/><ellipse cx="1137" cy="2692" rx="4" ry="4" fill="#999" filter="url(#gb2)"/><ellipse cx="1200" cy="2578" rx="10" ry="4" fill="#777" filter="url(#gb2)"/><ellipse cx="1101" cy="2653" rx="5" ry="4" fill="#888" filter="url(#gb2)"/></g>
<path d="M1214.4,2577 L1228.6,2573 L1228.6,2582 Z" fill="#fff"/>
<path d="M1209.1,2629.1 L1223.4,2626.8 L1222.6,2633.6 Z" fill="#fff"/>
<path d="M1205.3,2639.6 L1219.6,2637.3 L1218.1,2644.9 Z" fill="#fff"/>
<path d="M1199.3,2649.4 L1212.9,2647.1 L1212.1,2654.6 Z" fill="#fff"/>
<path d="M1194,2659.2 L1209.1,2657.6 L1207.6,2664.4 Z" fill="#fff"/>
<path d="M1116.3,2696.5 L1107.5,2708.8 L1114.3,2710.3 Z" fill="#fff"/>
<path d="M1136.1,2698.3 L1127.9,2709.6 L1134.6,2711.1 Z" fill="#fff"/>
<g clip-path="url(#c02)"><path d="M1358.6,2135 L1358.6,2169.6 L1327,2199.7 L1318,2228.3 L1307.4,2277.9 L1296.9,2308 L1304.4,2330.6 L1321,2353.1 L1334.5,2372.7 L1352.6,2390.8 L1367.6,2402.8 L1390.2,2407.3 L1412.7,2399.8 L1435.3,2390.8 L1450.4,2375.7 L1465.4,2357.7 L1480.4,2335.1 L1483.5,2308 L1488,2277.9 L1492.5,2240.3 L1491,2219.2 L1472.9,2202.7 L1465.4,2180.1 L1469.9,2157.6 L1472.9,2135 Z" fill="#070b18" stroke="#1f5a26" stroke-width="2.2" filter="url(#nb)"/><g filter="url(#tex)"><ellipse cx="1485" cy="2260.2" rx="8.6" ry="6.2" transform="rotate(92 1485 2260.2)" fill="#3239a5" stroke="#3940bc" stroke-width="1.6"/><ellipse cx="1456.8" cy="2154.7" rx="7.9" ry="5.1" transform="rotate(124 1456.8 2154.7)" fill="#262c78" stroke="#2a3085" stroke-width="1.6"/><ellipse cx="1426.9" cy="2302.8" rx="7.4" ry="5" transform="rotate(10 1426.9 2302.8)" fill="#2a3086" stroke="#2e3596" stroke-width="1.6"/><ellipse cx="1386" cy="2253.1" rx="9.8" ry="6" transform="rotate(89 1386 2253.1)" fill="#333aa7" stroke="#3a41be" stroke-width="1.6"/><ellipse cx="1384.6" cy="2207" rx="10.3" ry="7" transform="rotate(127 1384.6 2207)" fill="#2c338f" stroke="#3138a1" stroke-width="1.6"/><ellipse cx="1335.7" cy="2210.1" rx="7.1" ry="6.5" transform="rotate(152 1335.7 2210.1)" fill="#2e3494" stroke="#333aa7" stroke-width="1.6"/><ellipse cx="1302" cy="2306.8" rx="11.9" ry="5.5" transform="rotate(173 1302 2306.8)" fill="#353cae" stroke="#3c44c7" stroke-width="1.6"/><ellipse cx="1457.7" cy="2178.5" rx="8.8" ry="5.9" transform="rotate(131 1457.7 2178.5)" fill="#282d7e" stroke="#2c328d" stroke-width="1.6"/><ellipse cx="1424.7" cy="2161.1" rx="8.3" ry="5.4" transform="rotate(174 1424.7 2161.1)" fill="#363db1" stroke="#3d45ca" stroke-width="1.6"/><ellipse cx="1351.7" cy="2379.3" rx="7.6" ry="5.8" transform="rotate(115 1351.7 2379.3)" fill="#282e80" stroke="#2c328f" stroke-width="1.6"/><ellipse cx="1341.8" cy="2347.4" rx="11.1" ry="5.6" transform="rotate(104 1341.8 2347.4)" fill="#2b318a" stroke="#30369b" stroke-width="1.6"/><ellipse cx="1415.6" cy="2233.6" rx="8.4" ry="7" transform="rotate(103 1415.6 2233.6)" fill="#373eb5" stroke="#3e46d0" stroke-width="1.6"/><ellipse cx="1476" cy="2299.4" rx="13.9" ry="5.1" transform="rotate(42 1476 2299.4)" fill="#343baa" stroke="#3b42c2" stroke-width="1.6"/><ellipse cx="1341.6" cy="2361.9" rx="8.9" ry="5.5" transform="rotate(129 1341.6 2361.9)" fill="#282d7e" stroke="#2c328c" stroke-width="1.6"/><ellipse cx="1335.4" cy="2286.9" rx="9.8" ry="6.2" transform="rotate(165 1335.4 2286.9)" fill="#2a3087" stroke="#2f3598" stroke-width="1.6"/><ellipse cx="1382.1" cy="2145.2" rx="7.4" ry="5.7" transform="rotate(23 1382.1 2145.2)" fill="#2d3492" stroke="#3239a5" stroke-width="1.6"/><ellipse cx="1427.5" cy="2324.3" rx="10.9" ry="5.2" transform="rotate(163 1427.5 2324.3)" fill="#343baa" stroke="#3b42c2" stroke-width="1.6"/><ellipse cx="1423.1" cy="2265" rx="9.4" ry="5.6" transform="rotate(13 1423.1 2265)" fill="#31379f" stroke="#373eb5" stroke-width="1.6"/><ellipse cx="1444.8" cy="2327.8" rx="9.6" ry="6.9" transform="rotate(123 1444.8 2327.8)" fill="#383fb8" stroke="#3f47d3" stroke-width="1.6"/><ellipse cx="1473.6" cy="2246.5" rx="9.6" ry="6.8" transform="rotate(112 1473.6 2246.5)" fill="#2e3494" stroke="#333aa7" stroke-width="1.6"/><ellipse cx="1411.6" cy="2300.9" rx="7.1" ry="6.3" transform="rotate(158 1411.6 2300.9)" fill="#343bac" stroke="#3b43c4" stroke-width="1.6"/><ellipse cx="1369.8" cy="2336.8" rx="8.9" ry="5.9" transform="rotate(15 1369.8 2336.8)" fill="#353cad" stroke="#3c43c6" stroke-width="1.6"/><ellipse cx="1389.7" cy="2193.4" rx="9.3" ry="6" transform="rotate(165 1389.7 2193.4)" fill="#2b318b" stroke="#30369c" stroke-width="1.6"/><ellipse cx="1432.1" cy="2185.5" rx="7.4" ry="6.8" transform="rotate(79 1432.1 2185.5)" fill="#383fb7" stroke="#3f47d2" stroke-width="1.6"/><ellipse cx="1356.6" cy="2317.1" rx="7.5" ry="5.8" transform="rotate(164 1356.6 2317.1)" fill="#373fb6" stroke="#3f47d1" stroke-width="1.6"/><ellipse cx="1369" cy="2293.6" rx="7.9" ry="5.2" transform="rotate(150 1369 2293.6)" fill="#373eb4" stroke="#3e46ce" stroke-width="1.6"/><ellipse cx="1332.3" cy="2245.6" rx="9" ry="6" transform="rotate(151 1332.3 2245.6)" fill="#3941bd" stroke="#4048d4" stroke-width="1.6"/><ellipse cx="1409" cy="2215.8" rx="9.6" ry="5" transform="rotate(81 1409 2215.8)" fill="#272c7b" stroke="#2a3088" stroke-width="1.6"/><ellipse cx="1464.7" cy="2195.4" rx="7.3" ry="5" transform="rotate(80 1464.7 2195.4)" fill="#31379f" stroke="#373eb5" stroke-width="1.6"/><ellipse cx="1427.1" cy="2357.3" rx="10.2" ry="6.4" transform="rotate(85 1427.1 2357.3)" fill="#2a3086" stroke="#2e3495" stroke-width="1.6"/><ellipse cx="1344.9" cy="2226.2" rx="9.3" ry="6" transform="rotate(136 1344.9 2226.2)" fill="#2e3494" stroke="#333aa8" stroke-width="1.6"/><ellipse cx="1441.6" cy="2164.9" rx="8.4" ry="6.3" transform="rotate(67 1441.6 2164.9)" fill="#30369b" stroke="#353db0" stroke-width="1.6"/><ellipse cx="1441.5" cy="2360.4" rx="9.1" ry="6.4" transform="rotate(161 1441.5 2360.4)" fill="#3941bd" stroke="#4048d4" stroke-width="1.6"/><ellipse cx="1456.3" cy="2219" rx="10" ry="6.7" transform="rotate(14 1456.3 2219)" fill="#2f3598" stroke="#343bac" stroke-width="1.6"/><ellipse cx="1404.6" cy="2346.2" rx="8.5" ry="5" transform="rotate(11 1404.6 2346.2)" fill="#363db1" stroke="#3d45ca" stroke-width="1.6"/><ellipse cx="1323.5" cy="2223.1" rx="9.6" ry="5.2" transform="rotate(92 1323.5 2223.1)" fill="#343bab" stroke="#3b43c4" stroke-width="1.6"/><ellipse cx="1466.9" cy="2323.8" rx="10.1" ry="6" transform="rotate(15 1466.9 2323.8)" fill="#2b3189" stroke="#2f3699" stroke-width="1.6"/><ellipse cx="1443" cy="2309.4" rx="8.7" ry="6.7" transform="rotate(56 1443 2309.4)" fill="#2e3494" stroke="#333aa7" stroke-width="1.6"/><ellipse cx="1409.5" cy="2185.1" rx="8.7" ry="6" transform="rotate(4 1409.5 2185.1)" fill="#3940bd" stroke="#4048d4" stroke-width="1.6"/><ellipse cx="1397.2" cy="2241.8" rx="9.6" ry="6.1" transform="rotate(124 1397.2 2241.8)" fill="#272d7e" stroke="#2b328c" stroke-width="1.6"/><ellipse cx="1344.2" cy="2262.4" rx="7.3" ry="5.8" transform="rotate(162 1344.2 2262.4)" fill="#2f369a" stroke="#353caf" stroke-width="1.6"/><ellipse cx="1354.5" cy="2182.4" rx="9" ry="6.9" transform="rotate(140 1354.5 2182.4)" fill="#272c7b" stroke="#2a3088" stroke-width="1.6"/><ellipse cx="1434" cy="2219.5" rx="13.2" ry="6.2" transform="rotate(22 1434 2219.5)" fill="#30379d" stroke="#363db2" stroke-width="1.6"/><ellipse cx="1367.1" cy="2245.4" rx="8.7" ry="5.3" transform="rotate(113 1367.1 2245.4)" fill="#3339a6" stroke="#3940bc" stroke-width="1.6"/><ellipse cx="1417.8" cy="2371.3" rx="7.6" ry="6.5" transform="rotate(162 1417.8 2371.3)" fill="#2c338f" stroke="#3138a1" stroke-width="1.6"/><ellipse cx="1337.8" cy="2334.3" rx="7.7" ry="5.1" transform="rotate(75 1337.8 2334.3)" fill="#363db0" stroke="#3d44c9" stroke-width="1.6"/><ellipse cx="1329.5" cy="2321.8" rx="12.5" ry="7" transform="rotate(136 1329.5 2321.8)" fill="#30379c" stroke="#363db1" stroke-width="1.6"/><ellipse cx="1373.4" cy="2183.4" rx="13.7" ry="6" transform="rotate(144 1373.4 2183.4)" fill="#343baa" stroke="#3b42c2" stroke-width="1.6"/><ellipse cx="1373.5" cy="2382.6" rx="9.9" ry="6.4" transform="rotate(137 1373.5 2382.6)" fill="#2e3495" stroke="#343aa9" stroke-width="1.6"/><ellipse cx="1441.7" cy="2148" rx="12" ry="5.9" transform="rotate(114 1441.7 2148)" fill="#31379f" stroke="#373eb4" stroke-width="1.6"/><ellipse cx="1428.1" cy="2289.8" rx="8.7" ry="5.7" transform="rotate(115 1428.1 2289.8)" fill="#343baa" stroke="#3b42c2" stroke-width="1.6"/><ellipse cx="1445.1" cy="2200.9" rx="8.2" ry="5" transform="rotate(67 1445.1 2200.9)" fill="#282e80" stroke="#2c328f" stroke-width="1.6"/><ellipse cx="1404.6" cy="2272.2" rx="10.2" ry="6.1" transform="rotate(114 1404.6 2272.2)" fill="#363db1" stroke="#3d45cb" stroke-width="1.6"/><ellipse cx="1387.7" cy="2176" rx="13.9" ry="6.2" transform="rotate(75 1387.7 2176)" fill="#30379e" stroke="#363eb3" stroke-width="1.6"/><ellipse cx="1448.5" cy="2238.7" rx="14" ry="6.5" transform="rotate(170 1448.5 2238.7)" fill="#282d7e" stroke="#2c328c" stroke-width="1.6"/><ellipse cx="1389" cy="2404.4" rx="7.7" ry="6" transform="rotate(130 1389 2404.4)" fill="#2f369a" stroke="#353cae" stroke-width="1.6"/><ellipse cx="1399.8" cy="2163.3" rx="8.4" ry="6.3" transform="rotate(47 1399.8 2163.3)" fill="#3238a2" stroke="#383fb8" stroke-width="1.6"/><ellipse cx="1376.5" cy="2348.9" rx="8.7" ry="7" transform="rotate(132 1376.5 2348.9)" fill="#2b318a" stroke="#30369a" stroke-width="1.6"/><ellipse cx="1454.9" cy="2305.5" rx="8.1" ry="5.5" transform="rotate(101 1454.9 2305.5)" fill="#3238a2" stroke="#383fb8" stroke-width="1.6"/><ellipse cx="1422.4" cy="2342" rx="7.5" ry="5.5" transform="rotate(164 1422.4 2342)" fill="#373fb6" stroke="#3f47d1" stroke-width="1.6"/><ellipse cx="1344.6" cy="2248.8" rx="9" ry="5.1" transform="rotate(13 1344.6 2248.8)" fill="#282e7f" stroke="#2c328e" stroke-width="1.6"/><ellipse cx="1365.7" cy="2155.6" rx="12.7" ry="5.1" transform="rotate(87 1365.7 2155.6)" fill="#343aa9" stroke="#3a42c0" stroke-width="1.6"/><ellipse cx="1351.6" cy="2333.9" rx="9.3" ry="5.5" transform="rotate(64 1351.6 2333.9)" fill="#343bac" stroke="#3b43c4" stroke-width="1.6"/><ellipse cx="1364.9" cy="2231.2" rx="8.2" ry="5.7" transform="rotate(101 1364.9 2231.2)" fill="#363db1" stroke="#3d45ca" stroke-width="1.6"/><ellipse cx="1339.1" cy="2190.6" rx="9.5" ry="6" transform="rotate(70 1339.1 2190.6)" fill="#2d3391" stroke="#3239a3" stroke-width="1.6"/><ellipse cx="1458.8" cy="2247.7" rx="8.3" ry="5.2" transform="rotate(178 1458.8 2247.7)" fill="#2e3493" stroke="#333aa6" stroke-width="1.6"/><ellipse cx="1440.5" cy="2296.9" rx="7.6" ry="5.3" transform="rotate(31 1440.5 2296.9)" fill="#353cae" stroke="#3c44c7" stroke-width="1.6"/><ellipse cx="1353.3" cy="2283.7" rx="9.7" ry="5.9" transform="rotate(159 1353.3 2283.7)" fill="#383fb9" stroke="#4048d4" stroke-width="1.6"/><ellipse cx="1369.1" cy="2277.8" rx="8.6" ry="5.5" transform="rotate(118 1369.1 2277.8)" fill="#2b318a" stroke="#30369a" stroke-width="1.6"/><ellipse cx="1355.5" cy="2201.7" rx="9.9" ry="6" transform="rotate(178 1355.5 2201.7)" fill="#2b318c" stroke="#30379d" stroke-width="1.6"/><ellipse cx="1371.1" cy="2259.1" rx="10.2" ry="6.7" transform="rotate(2 1371.1 2259.1)" fill="#2e3493" stroke="#333aa6" stroke-width="1.6"/><ellipse cx="1407.6" cy="2258.1" rx="6.9" ry="7" transform="rotate(37 1407.6 2258.1)" fill="#3239a4" stroke="#3940bb" stroke-width="1.6"/><ellipse cx="1429.6" cy="2200.8" rx="7.5" ry="6.5" transform="rotate(170 1429.6 2200.8)" fill="#3138a0" stroke="#373eb6" stroke-width="1.6"/><ellipse cx="1320.3" cy="2345.7" rx="10" ry="6.1" transform="rotate(90 1320.3 2345.7)" fill="#292f83" stroke="#2d3392" stroke-width="1.6"/><ellipse cx="1486" cy="2230.6" rx="8.5" ry="5.2" transform="rotate(24 1486 2230.6)" fill="#383fb8" stroke="#3f47d3" stroke-width="1.6"/><ellipse cx="1406.8" cy="2203.1" rx="10" ry="7" transform="rotate(108 1406.8 2203.1)" fill="#292e82" stroke="#2d3391" stroke-width="1.6"/><ellipse cx="1413.6" cy="2356.3" rx="6.9" ry="5.3" transform="rotate(25 1413.6 2356.3)" fill="#2e3494" stroke="#333aa7" stroke-width="1.6"/><ellipse cx="1424.3" cy="2138.8" rx="9.2" ry="5.2" transform="rotate(108 1424.3 2138.8)" fill="#2f369a" stroke="#353cae" stroke-width="1.6"/><ellipse cx="1374.8" cy="2305.2" rx="9.2" ry="6.5" transform="rotate(87 1374.8 2305.2)" fill="#3a41be" stroke="#4048d4" stroke-width="1.6"/><ellipse cx="1408" cy="2385.1" rx="8.7" ry="6" transform="rotate(162 1408 2385.1)" fill="#2c338f" stroke="#3138a1" stroke-width="1.6"/><ellipse cx="1479.8" cy="2335.9" rx="8.9" ry="6.5" transform="rotate(106 1479.8 2335.9)" fill="#282d7e" stroke="#2c328c" stroke-width="1.6"/><ellipse cx="1313.1" cy="2254.9" rx="13.1" ry="5.8" transform="rotate(94 1313.1 2254.9)" fill="#2b318a" stroke="#30369b" stroke-width="1.6"/><ellipse cx="1312.9" cy="2280.7" rx="10.2" ry="4.9" transform="rotate(53 1312.9 2280.7)" fill="#2d3390" stroke="#3238a2" stroke-width="1.6"/><ellipse cx="1479.5" cy="2215.4" rx="8.6" ry="6.9" transform="rotate(85 1479.5 2215.4)" fill="#2a3087" stroke="#2f3598" stroke-width="1.6"/><ellipse cx="1466.5" cy="2228.6" rx="8.5" ry="5.3" transform="rotate(179 1466.5 2228.6)" fill="#2a3087" stroke="#2f3597" stroke-width="1.6"/><ellipse cx="1309.1" cy="2334.1" rx="7.9" ry="6.8" transform="rotate(128 1309.1 2334.1)" fill="#292f83" stroke="#2d3392" stroke-width="1.6"/><ellipse cx="1345.8" cy="2309.7" rx="7.1" ry="7" transform="rotate(95 1345.8 2309.7)" fill="#31379e" stroke="#363eb3" stroke-width="1.6"/><ellipse cx="1321.8" cy="2300.7" rx="7.7" ry="5.9" transform="rotate(141 1321.8 2300.7)" fill="#363db0" stroke="#3d44c9" stroke-width="1.6"/><ellipse cx="1393.6" cy="2138" rx="8.9" ry="6.4" transform="rotate(157 1393.6 2138)" fill="#2a3086" stroke="#2e3496" stroke-width="1.6"/><ellipse cx="1412.9" cy="2153.1" rx="9.7" ry="5.3" transform="rotate(28 1412.9 2153.1)" fill="#343ba9" stroke="#3a42c1" stroke-width="1.6"/><ellipse cx="1464.9" cy="2351.4" rx="7" ry="5.8" transform="rotate(38 1464.9 2351.4)" fill="#3940bd" stroke="#4048d4" stroke-width="1.6"/><ellipse cx="1316.7" cy="2239.6" rx="11" ry="5.8" transform="rotate(179 1316.7 2239.6)" fill="#353cae" stroke="#3c44c7" stroke-width="1.6"/><ellipse cx="1435.7" cy="2373.5" rx="8.9" ry="6.8" transform="rotate(70 1435.7 2373.5)" fill="#373eb4" stroke="#3e46ce" stroke-width="1.6"/><ellipse cx="1363.9" cy="2171.6" rx="10.1" ry="5.7" transform="rotate(130 1363.9 2171.6)" fill="#383fb8" stroke="#3f47d3" stroke-width="1.6"/><ellipse cx="1452" cy="2275.5" rx="7" ry="5.8" transform="rotate(7 1452 2275.5)" fill="#292f84" stroke="#2d3493" stroke-width="1.6"/><ellipse cx="1430.5" cy="2389" rx="7.6" ry="6.4" transform="rotate(171 1430.5 2389)" fill="#373eb6" stroke="#3f46d0" stroke-width="1.6"/><ellipse cx="1411.6" cy="2327.2" rx="12.1" ry="6.4" transform="rotate(65 1411.6 2327.2)" fill="#272d7e" stroke="#2b318c" stroke-width="1.6"/><ellipse cx="1387.1" cy="2220.5" rx="7.7" ry="5" transform="rotate(160 1387.1 2220.5)" fill="#3138a0" stroke="#373fb6" stroke-width="1.6"/><ellipse cx="1326.3" cy="2261.3" rx="9" ry="6.9" transform="rotate(103 1326.3 2261.3)" fill="#3940bb" stroke="#4048d4" stroke-width="1.6"/><ellipse cx="1324.5" cy="2273.9" rx="11.2" ry="5.1" transform="rotate(126 1324.5 2273.9)" fill="#282e81" stroke="#2d3390" stroke-width="1.6"/><ellipse cx="1464.4" cy="2289.2" rx="8.3" ry="6.4" transform="rotate(149 1464.4 2289.2)" fill="#363db1" stroke="#3d45ca" stroke-width="1.6"/><ellipse cx="1434.1" cy="2247.1" rx="9" ry="5.8" transform="rotate(177 1434.1 2247.1)" fill="#272d7d" stroke="#2b318a" stroke-width="1.6"/><ellipse cx="1352.8" cy="2355.3" rx="9.8" ry="5.5" transform="rotate(111 1352.8 2355.3)" fill="#353cae" stroke="#3c44c7" stroke-width="1.6"/><ellipse cx="1442.2" cy="2177.9" rx="11.1" ry="5.3" transform="rotate(64 1442.2 2177.9)" fill="#333aa7" stroke="#3a41be" stroke-width="1.6"/><ellipse cx="1456.6" cy="2336.9" rx="8.2" ry="6.6" transform="rotate(138 1456.6 2336.9)" fill="#3941be" stroke="#4048d4" stroke-width="1.6"/><ellipse cx="1435" cy="2337.1" rx="8.1" ry="5.6" transform="rotate(26 1435 2337.1)" fill="#3239a5" stroke="#3940bc" stroke-width="1.6"/><ellipse cx="1413.3" cy="2283" rx="12" ry="6.8" transform="rotate(67 1413.3 2283)" fill="#343bab" stroke="#3b43c4" stroke-width="1.6"/><ellipse cx="1331.3" cy="2233.1" rx="7.3" ry="5.8" transform="rotate(15 1331.3 2233.1)" fill="#292f85" stroke="#2e3494" stroke-width="1.6"/><ellipse cx="1468.5" cy="2141.1" rx="8.3" ry="5.1" transform="rotate(20 1468.5 2141.1)" fill="#363db2" stroke="#3d45cc" stroke-width="1.6"/><ellipse cx="1357" cy="2266.9" rx="9.1" ry="6.8" transform="rotate(102 1357 2266.9)" fill="#30369c" stroke="#363db1" stroke-width="1.6"/><ellipse cx="1373.7" cy="2402.4" rx="6.9" ry="6.2" transform="rotate(65 1373.7 2402.4)" fill="#3239a3" stroke="#383fb9" stroke-width="1.6"/><ellipse cx="1365.6" cy="2213.5" rx="9" ry="6.2" transform="rotate(89 1365.6 2213.5)" fill="#30379d" stroke="#363db2" stroke-width="1.6"/><ellipse cx="1376.2" cy="2321" rx="13.3" ry="6.9" transform="rotate(79 1376.2 2321)" fill="#353cad" stroke="#3c43c6" stroke-width="1.6"/><ellipse cx="1380.2" cy="2161.5" rx="11.2" ry="6.5" transform="rotate(150 1380.2 2161.5)" fill="#333aa7" stroke="#3a41bf" stroke-width="1.6"/><ellipse cx="1466.7" cy="2163" rx="12.2" ry="5.9" transform="rotate(67 1466.7 2163)" fill="#3238a2" stroke="#383fb8" stroke-width="1.6"/><ellipse cx="1384.3" cy="2266.3" rx="11.8" ry="6.5" transform="rotate(152 1384.3 2266.3)" fill="#272d7c" stroke="#2b3189" stroke-width="1.6"/><ellipse cx="1383.7" cy="2233.2" rx="9.4" ry="6.9" transform="rotate(101 1383.7 2233.2)" fill="#2d3391" stroke="#3239a4" stroke-width="1.6"/><ellipse cx="1398.4" cy="2149.9" rx="8.7" ry="5.3" transform="rotate(63 1398.4 2149.9)" fill="#30369c" stroke="#363db1" stroke-width="1.6"/><ellipse cx="1418.1" cy="2393" rx="7.1" ry="6" transform="rotate(5 1418.1 2393)" fill="#282e81" stroke="#2d3390" stroke-width="1.6"/><ellipse cx="1359.8" cy="2392.3" rx="7.3" ry="6.4" transform="rotate(34 1359.8 2392.3)" fill="#292f83" stroke="#2d3392" stroke-width="1.6"/><ellipse cx="1399.5" cy="2397" rx="11.8" ry="5.4" transform="rotate(136 1399.5 2397)" fill="#3840b9" stroke="#4048d4" stroke-width="1.6"/><ellipse cx="1323.1" cy="2333.4" rx="7.7" ry="6.2" transform="rotate(170 1323.1 2333.4)" fill="#2c328d" stroke="#31379e" stroke-width="1.6"/><ellipse cx="1435.6" cy="2274.5" rx="7.9" ry="5.5" transform="rotate(116 1435.6 2274.5)" fill="#343aa9" stroke="#3a42c0" stroke-width="1.6"/><ellipse cx="1469.5" cy="2266.2" rx="8.9" ry="5.6" transform="rotate(21 1469.5 2266.2)" fill="#2c328e" stroke="#3138a0" stroke-width="1.6"/><ellipse cx="1478.4" cy="2316.4" rx="7.8" ry="6.6" transform="rotate(26 1478.4 2316.4)" fill="#3239a3" stroke="#3840ba" stroke-width="1.6"/><ellipse cx="1364.6" cy="2193" rx="9.3" ry="5" transform="rotate(11 1364.6 2193)" fill="#373eb4" stroke="#3e46ce" stroke-width="1.6"/><ellipse cx="1446.4" cy="2257.1" rx="8.2" ry="6.1" transform="rotate(178 1446.4 2257.1)" fill="#383fb9" stroke="#4048d4" stroke-width="1.6"/><ellipse cx="1368.6" cy="2361.9" rx="7.7" ry="6.4" transform="rotate(89 1368.6 2361.9)" fill="#3940bc" stroke="#4048d4" stroke-width="1.6"/><ellipse cx="1355.7" cy="2300.3" rx="7.5" ry="5.9" transform="rotate(177 1355.7 2300.3)" fill="#2b318b" stroke="#30379d" stroke-width="1.6"/><ellipse cx="1487.4" cy="2247.5" rx="7.9" ry="5.8" transform="rotate(133 1487.4 2247.5)" fill="#2f3699" stroke="#353cae" stroke-width="1.6"/><ellipse cx="1404.1" cy="2371.2" rx="8.1" ry="5.2" transform="rotate(4 1404.1 2371.2)" fill="#2b3189" stroke="#2f369a" stroke-width="1.6"/><ellipse cx="1312.2" cy="2318.6" rx="9.4" ry="6.8" transform="rotate(104 1312.2 2318.6)" fill="#373eb5" stroke="#3e46cf" stroke-width="1.6"/><ellipse cx="1430.2" cy="2172.9" rx="8.7" ry="5.8" transform="rotate(128 1430.2 2172.9)" fill="#343aa9" stroke="#3a42c1" stroke-width="1.6"/><ellipse cx="1357.6" cy="2368.2" rx="9.6" ry="4.9" transform="rotate(16 1357.6 2368.2)" fill="#373fb7" stroke="#3f47d1" stroke-width="1.6"/><ellipse cx="1363.5" cy="2137.2" rx="7.1" ry="5.8" transform="rotate(150 1363.5 2137.2)" fill="#272c7b" stroke="#2b3189" stroke-width="1.6"/><ellipse cx="1329.4" cy="2356.5" rx="7.3" ry="5.6" transform="rotate(151 1329.4 2356.5)" fill="#333aa8" stroke="#3a42c0" stroke-width="1.6"/><ellipse cx="1456.7" cy="2365.3" rx="10" ry="6.5" transform="rotate(83 1456.7 2365.3)" fill="#31379e" stroke="#373eb4" stroke-width="1.6"/><ellipse cx="1452.2" cy="2292.4" rx="8.3" ry="6" transform="rotate(51 1452.2 2292.4)" fill="#383fb7" stroke="#3f47d2" stroke-width="1.6"/><ellipse cx="1417.5" cy="2196.7" rx="7.2" ry="6.6" transform="rotate(135 1417.5 2196.7)" fill="#2c328c" stroke="#30379d" stroke-width="1.6"/><ellipse cx="1411.1" cy="2170.4" rx="12.5" ry="5.2" transform="rotate(132 1411.1 2170.4)" fill="#2e3495" stroke="#333aa8" stroke-width="1.6"/><ellipse cx="1444.1" cy="2346.9" rx="10.2" ry="5.7" transform="rotate(135 1444.1 2346.9)" fill="#272c7b" stroke="#2a3088" stroke-width="1.6"/><ellipse cx="1435.9" cy="2233.6" rx="12.2" ry="6.7" transform="rotate(63 1435.9 2233.6)" fill="#3840ba" stroke="#4048d4" stroke-width="1.6"/><ellipse cx="1403.4" cy="2313.7" rx="10.1" ry="5.6" transform="rotate(37 1403.4 2313.7)" fill="#353cac" stroke="#3b43c5" stroke-width="1.6"/><ellipse cx="1410.2" cy="2139.5" rx="7.7" ry="5.5" transform="rotate(150 1410.2 2139.5)" fill="#343aa9" stroke="#3a42c0" stroke-width="1.6"/><ellipse cx="1413.4" cy="2246.6" rx="10" ry="6.7" transform="rotate(162 1413.4 2246.6)" fill="#333aa8" stroke="#3a41c0" stroke-width="1.6"/><ellipse cx="1401.1" cy="2227.3" rx="9.4" ry="6.3" transform="rotate(179 1401.1 2227.3)" fill="#282e80" stroke="#2c328e" stroke-width="1.6"/><ellipse cx="1485.9" cy="2289" rx="7.9" ry="6.3" transform="rotate(89 1485.9 2289)" fill="#3339a5" stroke="#3940bc" stroke-width="1.6"/><ellipse cx="1448.6" cy="2136" rx="9.2" ry="6.7" transform="rotate(4 1448.6 2136)" fill="#262c7a" stroke="#2a3087" stroke-width="1.6"/><ellipse cx="1384.2" cy="2390.1" rx="9.5" ry="6.4" transform="rotate(126 1384.2 2390.1)" fill="#3941bd" stroke="#4048d4" stroke-width="1.6"/><ellipse cx="1303.2" cy="2292.3" rx="9.3" ry="5.7" transform="rotate(71 1303.2 2292.3)" fill="#292f84" stroke="#2d3493" stroke-width="1.6"/><ellipse cx="1449.6" cy="2188.7" rx="9.1" ry="6.6" transform="rotate(32 1449.6 2188.7)" fill="#2f369a" stroke="#353cae" stroke-width="1.6"/><ellipse cx="1380.4" cy="2367.3" rx="8.9" ry="5.5" transform="rotate(41 1380.4 2367.3)" fill="#383fb9" stroke="#4048d4" stroke-width="1.6"/><ellipse cx="1483.3" cy="2275.3" rx="8.7" ry="6.8" transform="rotate(150 1483.3 2275.3)" fill="#292e81" stroke="#2d3390" stroke-width="1.6"/><ellipse cx="1465.1" cy="2209.6" rx="10.2" ry="6.7" transform="rotate(164 1465.1 2209.6)" fill="#2b3189" stroke="#2f369a" stroke-width="1.6"/><ellipse cx="1380.5" cy="2286.8" rx="7" ry="6.7" transform="rotate(67 1380.5 2286.8)" fill="#2d3493" stroke="#3339a6" stroke-width="1.6"/><ellipse cx="1310" cy="2267.3" rx="10.3" ry="6.8" transform="rotate(39 1310 2267.3)" fill="#353cae" stroke="#3c44c7" stroke-width="1.6"/><ellipse cx="1423.5" cy="2212.6" rx="9.5" ry="5.8" transform="rotate(51 1423.5 2212.6)" fill="#373eb5" stroke="#3e46d0" stroke-width="1.6"/><ellipse cx="1344.7" cy="2322.6" rx="9.2" ry="5.1" transform="rotate(166 1344.7 2322.6)" fill="#363db3" stroke="#3e45cd" stroke-width="1.6"/><ellipse cx="1417.4" cy="2312.3" rx="9.3" ry="6.8" transform="rotate(102 1417.4 2312.3)" fill="#2f3699" stroke="#353cad" stroke-width="1.6"/><ellipse cx="1333.8" cy="2305.6" rx="9.4" ry="5.3" transform="rotate(61 1333.8 2305.6)" fill="#2f3599" stroke="#353cad" stroke-width="1.6"/><ellipse cx="1467.4" cy="2309.6" rx="11.6" ry="5.7" transform="rotate(128 1467.4 2309.6)" fill="#282e7f" stroke="#2c328d" stroke-width="1.6"/><ellipse cx="1448" cy="2376.9" rx="8.6" ry="6.8" transform="rotate(160 1448 2376.9)" fill="#373eb5" stroke="#3e46cf" stroke-width="1.6"/><ellipse cx="1338.1" cy="2274.5" rx="9.9" ry="6" transform="rotate(65 1338.1 2274.5)" fill="#282e80" stroke="#2c328e" stroke-width="1.6"/><ellipse cx="1364" cy="2349.7" rx="8.4" ry="6.5" transform="rotate(41 1364 2349.7)" fill="#3138a0" stroke="#373eb6" stroke-width="1.6"/><ellipse cx="1340" cy="2374.4" rx="12.8" ry="5.4" transform="rotate(105 1340 2374.4)" fill="#343aa9" stroke="#3a42c0" stroke-width="1.6"/><ellipse cx="1352.9" cy="2238.1" rx="8.5" ry="7" transform="rotate(36 1352.9 2238.1)" fill="#31379f" stroke="#373eb4" stroke-width="1.6"/><ellipse cx="1352.6" cy="2215.3" rx="9.7" ry="6" transform="rotate(142 1352.6 2215.3)" fill="#2b318b" stroke="#30369c" stroke-width="1.6"/><ellipse cx="1357.1" cy="2253" rx="7.9" ry="5.4" transform="rotate(149 1357.1 2253)" fill="#2f3598" stroke="#353cad" stroke-width="1.6"/></g><path d="M1385,2281 L1399,2278 L1405,2290 L1403,2312 L1393,2318 L1384,2308 Z" fill="#59d84a" filter="url(#gb2)"/><ellipse cx="1396" cy="2298" rx="4" ry="6" fill="#4aa0e0" filter="url(#nb)"/><ellipse cx="1394" cy="2321" rx="5" ry="5" fill="#3c8ad0" filter="url(#nb)"/><ellipse cx="1346" cy="2152" rx="5" ry="15" fill="#2fd040" filter="url(#gb2)"/><rect x="1420.5" y="2410.3" width="83" height="3" fill="#fff"/></g>
<g clip-path="url(#c12)"><path d="M1315,2438 L1292.4,2475.6 L1281.9,2501.2 L1278.8,2550.8 L1287.9,2580.9 L1293.9,2611 L1302.9,2641.1 L1318,2663.7 L1337.5,2681.7 L1360.1,2696.8 L1387.2,2705 L1412.7,2698.3 L1435.3,2681.7 L1454.9,2663.7 L1468.4,2641.1 L1477.4,2611 L1481.9,2580.9 L1478.9,2550.8 L1488,2520.7 L1497,2490.7 L1492.5,2460.6 L1485,2438 Z" fill="#060a18" stroke="#1b4a20" stroke-width="2.2" filter="url(#nb)"/><g filter="url(#tex)"><ellipse cx="1425.6" cy="2470.2" rx="6.4" ry="5.3" transform="rotate(145 1425.6 2470.2)" fill="#2d3493" stroke="#3339a6" stroke-width="1.6"/><ellipse cx="1374.2" cy="2475.8" rx="9.4" ry="4.7" transform="rotate(13 1374.2 2475.8)" fill="#2d3493" stroke="#3339a5" stroke-width="1.6"/><ellipse cx="1350.8" cy="2544.1" rx="12.9" ry="4.6" transform="rotate(91 1350.8 2544.1)" fill="#242a72" stroke="#272d7d" stroke-width="1.6"/><ellipse cx="1299.8" cy="2549.3" rx="6.8" ry="5.2" transform="rotate(29 1299.8 2549.3)" fill="#2d3493" stroke="#333aa6" stroke-width="1.6"/><ellipse cx="1459.5" cy="2542.9" rx="7.8" ry="5.8" transform="rotate(69 1459.5 2542.9)" fill="#23296e" stroke="#262c79" stroke-width="1.6"/><ellipse cx="1431" cy="2620" rx="6.8" ry="5.1" transform="rotate(92 1431 2620)" fill="#3b43c5" stroke="#4048d4" stroke-width="1.6"/><ellipse cx="1392.1" cy="2492.7" rx="7.8" ry="5.4" transform="rotate(18 1392.1 2492.7)" fill="#2b318b" stroke="#30379c" stroke-width="1.6"/><ellipse cx="1314.7" cy="2626.2" rx="6.5" ry="5.2" transform="rotate(114 1314.7 2626.2)" fill="#2a3087" stroke="#2f3598" stroke-width="1.6"/><ellipse cx="1378.6" cy="2488.9" rx="7.3" ry="5.6" transform="rotate(86 1378.6 2488.9)" fill="#3138a1" stroke="#383fb7" stroke-width="1.6"/><ellipse cx="1357" cy="2483.4" rx="11" ry="6.4" transform="rotate(138 1357 2483.4)" fill="#282e80" stroke="#2c328e" stroke-width="1.6"/><ellipse cx="1347.5" cy="2652" rx="9.1" ry="5.9" transform="rotate(94 1347.5 2652)" fill="#343baa" stroke="#3b42c2" stroke-width="1.6"/><ellipse cx="1416.6" cy="2504.1" rx="9.5" ry="6.4" transform="rotate(52 1416.6 2504.1)" fill="#30379d" stroke="#363db2" stroke-width="1.6"/><ellipse cx="1434.3" cy="2490.4" rx="7.3" ry="5.1" transform="rotate(124 1434.3 2490.4)" fill="#252a74" stroke="#282e80" stroke-width="1.6"/><ellipse cx="1475.5" cy="2548.5" rx="7.2" ry="5.5" transform="rotate(100 1475.5 2548.5)" fill="#2c338f" stroke="#3138a1" stroke-width="1.6"/><ellipse cx="1446.9" cy="2547.8" rx="8.3" ry="6.4" transform="rotate(104 1446.9 2547.8)" fill="#282e80" stroke="#2c328f" stroke-width="1.6"/><ellipse cx="1357.9" cy="2637.5" rx="8.3" ry="4.6" transform="rotate(162 1357.9 2637.5)" fill="#3b43c4" stroke="#4048d4" stroke-width="1.6"/><ellipse cx="1395.7" cy="2652.5" rx="7.7" ry="4.8" transform="rotate(56 1395.7 2652.5)" fill="#3e46cf" stroke="#4048d4" stroke-width="1.6"/><ellipse cx="1430.7" cy="2582.7" rx="8.5" ry="4.8" transform="rotate(126 1430.7 2582.7)" fill="#3239a3" stroke="#3840ba" stroke-width="1.6"/><ellipse cx="1330.1" cy="2544.7" rx="7.5" ry="6" transform="rotate(16 1330.1 2544.7)" fill="#282d7e" stroke="#2c328c" stroke-width="1.6"/><ellipse cx="1432.2" cy="2644.2" rx="8.6" ry="6.5" transform="rotate(5 1432.2 2644.2)" fill="#343bab" stroke="#3b42c3" stroke-width="1.6"/><ellipse cx="1425.8" cy="2526.2" rx="7.2" ry="5.3" transform="rotate(1 1425.8 2526.2)" fill="#282e81" stroke="#2c338f" stroke-width="1.6"/><ellipse cx="1337.8" cy="2486.8" rx="7.8" ry="5" transform="rotate(90 1337.8 2486.8)" fill="#272c7b" stroke="#2a3088" stroke-width="1.6"/><ellipse cx="1311.2" cy="2561" rx="8.4" ry="6.3" transform="rotate(82 1311.2 2561)" fill="#3d44c9" stroke="#4048d4" stroke-width="1.6"/><ellipse cx="1463.1" cy="2494.2" rx="8.2" ry="6.1" transform="rotate(121 1463.1 2494.2)" fill="#2d3391" stroke="#3239a4" stroke-width="1.6"/><ellipse cx="1440.5" cy="2520.9" rx="8" ry="5.3" transform="rotate(24 1440.5 2520.9)" fill="#262c79" stroke="#2a3086" stroke-width="1.6"/><ellipse cx="1410.2" cy="2539.7" rx="9.3" ry="6.4" transform="rotate(22 1410.2 2539.7)" fill="#2d3390" stroke="#3238a2" stroke-width="1.6"/><ellipse cx="1465.6" cy="2601.6" rx="9" ry="5.4" transform="rotate(47 1465.6 2601.6)" fill="#3239a4" stroke="#3940bb" stroke-width="1.6"/><ellipse cx="1365" cy="2657.6" rx="7" ry="5" transform="rotate(174 1365 2657.6)" fill="#353cae" stroke="#3c44c6" stroke-width="1.6"/><ellipse cx="1343.6" cy="2468.7" rx="9.3" ry="6.3" transform="rotate(158 1343.6 2468.7)" fill="#1f2460" stroke="#212668" stroke-width="1.6"/><ellipse cx="1313.1" cy="2476" rx="8.8" ry="5.2" transform="rotate(33 1313.1 2476)" fill="#22286c" stroke="#252b76" stroke-width="1.6"/><ellipse cx="1456.1" cy="2572.5" rx="8.5" ry="5.5" transform="rotate(69 1456.1 2572.5)" fill="#3239a5" stroke="#3940bc" stroke-width="1.6"/><ellipse cx="1391.6" cy="2631.6" rx="7.3" ry="6.4" transform="rotate(153 1391.6 2631.6)" fill="#3940bb" stroke="#4048d4" stroke-width="1.6"/><ellipse cx="1412.2" cy="2642.6" rx="10.5" ry="4.9" transform="rotate(15 1412.2 2642.6)" fill="#2a3088" stroke="#2f3598" stroke-width="1.6"/><ellipse cx="1300" cy="2623.2" rx="8.4" ry="6.5" transform="rotate(134 1300 2623.2)" fill="#3f47d1" stroke="#4048d4" stroke-width="1.6"/><ellipse cx="1321.2" cy="2643.4" rx="7.8" ry="5.7" transform="rotate(43 1321.2 2643.4)" fill="#2b318a" stroke="#30369b" stroke-width="1.6"/><ellipse cx="1410.5" cy="2618.7" rx="6.4" ry="5.1" transform="rotate(131 1410.5 2618.7)" fill="#3c43c6" stroke="#4048d4" stroke-width="1.6"/><ellipse cx="1360.9" cy="2673.2" rx="9.7" ry="5.6" transform="rotate(112 1360.9 2673.2)" fill="#353caf" stroke="#3c44c8" stroke-width="1.6"/><ellipse cx="1303.1" cy="2582.5" rx="9.5" ry="6.1" transform="rotate(75 1303.1 2582.5)" fill="#2b318c" stroke="#30379d" stroke-width="1.6"/><ellipse cx="1441.6" cy="2608.2" rx="7" ry="5.7" transform="rotate(103 1441.6 2608.2)" fill="#3238a2" stroke="#383fb8" stroke-width="1.6"/><ellipse cx="1344.6" cy="2530.1" rx="9.7" ry="5.3" transform="rotate(82 1344.6 2530.1)" fill="#252b76" stroke="#292f83" stroke-width="1.6"/><ellipse cx="1423.6" cy="2542" rx="12.2" ry="5.9" transform="rotate(18 1423.6 2542)" fill="#272c7b" stroke="#2a3088" stroke-width="1.6"/><ellipse cx="1373.8" cy="2509.7" rx="9.2" ry="5.1" transform="rotate(114 1373.8 2509.7)" fill="#2d3390" stroke="#3238a2" stroke-width="1.6"/><ellipse cx="1408.2" cy="2565" rx="9.6" ry="5.5" transform="rotate(70 1408.2 2565)" fill="#343ba9" stroke="#3a42c1" stroke-width="1.6"/><ellipse cx="1444.9" cy="2497.5" rx="8.1" ry="6.1" transform="rotate(119 1444.9 2497.5)" fill="#2c328f" stroke="#3138a1" stroke-width="1.6"/><ellipse cx="1479.2" cy="2472.7" rx="9.2" ry="5.4" transform="rotate(46 1479.2 2472.7)" fill="#292f84" stroke="#2d3493" stroke-width="1.6"/><ellipse cx="1300.8" cy="2516.7" rx="6.9" ry="4.8" transform="rotate(68 1300.8 2516.7)" fill="#242a73" stroke="#282d7e" stroke-width="1.6"/><ellipse cx="1410.8" cy="2693.1" rx="6.9" ry="5.1" transform="rotate(163 1410.8 2693.1)" fill="#3e46cf" stroke="#4048d4" stroke-width="1.6"/><ellipse cx="1448" cy="2585.6" rx="9" ry="5.1" transform="rotate(163 1448 2585.6)" fill="#2c328c" stroke="#30379d" stroke-width="1.6"/><ellipse cx="1414.4" cy="2482.3" rx="9.2" ry="6.3" transform="rotate(78 1414.4 2482.3)" fill="#23286e" stroke="#262c79" stroke-width="1.6"/><ellipse cx="1365.1" cy="2451.9" rx="9.4" ry="5.6" transform="rotate(151 1365.1 2451.9)" fill="#31379e" stroke="#373eb3" stroke-width="1.6"/><ellipse cx="1455.8" cy="2640.6" rx="8.1" ry="6.2" transform="rotate(156 1455.8 2640.6)" fill="#383fb8" stroke="#3f47d3" stroke-width="1.6"/><ellipse cx="1356.8" cy="2510.9" rx="13.1" ry="4.8" transform="rotate(25 1356.8 2510.9)" fill="#2c328e" stroke="#3138a0" stroke-width="1.6"/><ellipse cx="1395.2" cy="2479.9" rx="9.1" ry="6.3" transform="rotate(40 1395.2 2479.9)" fill="#292f83" stroke="#2d3392" stroke-width="1.6"/><ellipse cx="1444.9" cy="2662.4" rx="8.9" ry="5.2" transform="rotate(78 1444.9 2662.4)" fill="#2d3391" stroke="#3239a3" stroke-width="1.6"/><ellipse cx="1342.1" cy="2675.9" rx="11.2" ry="6.5" transform="rotate(167 1342.1 2675.9)" fill="#383fb9" stroke="#4048d4" stroke-width="1.6"/><ellipse cx="1481.2" cy="2519.3" rx="6.6" ry="6.5" transform="rotate(118 1481.2 2519.3)" fill="#2a3087" stroke="#2f3597" stroke-width="1.6"/><ellipse cx="1320.6" cy="2491.8" rx="6.6" ry="4.8" transform="rotate(161 1320.6 2491.8)" fill="#292f84" stroke="#2e3493" stroke-width="1.6"/><ellipse cx="1380.5" cy="2648.9" rx="8.7" ry="6.6" transform="rotate(122 1380.5 2648.9)" fill="#363eb3" stroke="#3e46cd" stroke-width="1.6"/><ellipse cx="1314.2" cy="2606" rx="7.5" ry="6.6" transform="rotate(92 1314.2 2606)" fill="#333aa7" stroke="#3941be" stroke-width="1.6"/><ellipse cx="1384.3" cy="2680.9" rx="6.9" ry="4.8" transform="rotate(109 1384.3 2680.9)" fill="#3940bc" stroke="#4048d4" stroke-width="1.6"/><ellipse cx="1336.8" cy="2584.8" rx="7.2" ry="6.3" transform="rotate(14 1336.8 2584.8)" fill="#2d3391" stroke="#3239a3" stroke-width="1.6"/><ellipse cx="1473.7" cy="2618.8" rx="7.8" ry="4.7" transform="rotate(22 1473.7 2618.8)" fill="#2e3494" stroke="#333aa6" stroke-width="1.6"/><ellipse cx="1315.8" cy="2447.6" rx="9.4" ry="4.6" transform="rotate(25 1315.8 2447.6)" fill="#22276b" stroke="#252b75" stroke-width="1.6"/><ellipse cx="1396" cy="2454.7" rx="7" ry="5.2" transform="rotate(164 1396 2454.7)" fill="#23286e" stroke="#262c79" stroke-width="1.6"/><ellipse cx="1334" cy="2633.4" rx="6.8" ry="5.9" transform="rotate(107 1334 2633.4)" fill="#3a41c0" stroke="#4048d4" stroke-width="1.6"/><ellipse cx="1475.3" cy="2502.4" rx="10.5" ry="5.6" transform="rotate(1 1475.3 2502.4)" fill="#262c79" stroke="#2a3087" stroke-width="1.6"/><ellipse cx="1461.9" cy="2518.1" rx="12.8" ry="6.1" transform="rotate(56 1461.9 2518.1)" fill="#292f82" stroke="#2d3392" stroke-width="1.6"/><ellipse cx="1415.7" cy="2455.6" rx="6.7" ry="6.1" transform="rotate(86 1415.7 2455.6)" fill="#252a74" stroke="#282e80" stroke-width="1.6"/><ellipse cx="1381.8" cy="2444.4" rx="8.8" ry="6.1" transform="rotate(171 1381.8 2444.4)" fill="#252b76" stroke="#292f82" stroke-width="1.6"/><ellipse cx="1439.3" cy="2450.4" rx="6.9" ry="5" transform="rotate(30 1439.3 2450.4)" fill="#2b318c" stroke="#30379d" stroke-width="1.6"/><ellipse cx="1325" cy="2598.4" rx="7.8" ry="5.5" transform="rotate(122 1325 2598.4)" fill="#31379f" stroke="#373eb5" stroke-width="1.6"/><ellipse cx="1484.9" cy="2459.2" rx="9.5" ry="6.2" transform="rotate(128 1484.9 2459.2)" fill="#2b328c" stroke="#30379d" stroke-width="1.6"/><ellipse cx="1419.4" cy="2628.8" rx="9.3" ry="5.7" transform="rotate(26 1419.4 2628.8)" fill="#2d3493" stroke="#333aa6" stroke-width="1.6"/><ellipse cx="1477.6" cy="2447.5" rx="9.4" ry="4.8" transform="rotate(112 1477.6 2447.5)" fill="#23286e" stroke="#262c79" stroke-width="1.6"/><ellipse cx="1484.1" cy="2488.6" rx="8" ry="5.5" transform="rotate(154 1484.1 2488.6)" fill="#2f3597" stroke="#343bab" stroke-width="1.6"/><ellipse cx="1416.5" cy="2582.5" rx="6.7" ry="5.7" transform="rotate(136 1416.5 2582.5)" fill="#3238a2" stroke="#383fb8" stroke-width="1.6"/><ellipse cx="1426" cy="2445.9" rx="7.1" ry="5.1" transform="rotate(21 1426 2445.9)" fill="#3138a1" stroke="#373fb7" stroke-width="1.6"/><ellipse cx="1328.7" cy="2571.5" rx="13.1" ry="6.2" transform="rotate(154 1328.7 2571.5)" fill="#353cad" stroke="#3c43c6" stroke-width="1.6"/><ellipse cx="1415.6" cy="2669.1" rx="8.4" ry="5" transform="rotate(67 1415.6 2669.1)" fill="#363db1" stroke="#3d45cb" stroke-width="1.6"/><ellipse cx="1364.6" cy="2686.7" rx="9" ry="5.4" transform="rotate(122 1364.6 2686.7)" fill="#2c328d" stroke="#31379e" stroke-width="1.6"/><ellipse cx="1492" cy="2505.7" rx="8" ry="6" transform="rotate(58 1492 2505.7)" fill="#292f84" stroke="#2d3493" stroke-width="1.6"/><ellipse cx="1405.1" cy="2521.6" rx="7.9" ry="5.2" transform="rotate(110 1405.1 2521.6)" fill="#2c328f" stroke="#3138a0" stroke-width="1.6"/><ellipse cx="1390.7" cy="2466.8" rx="8.5" ry="6.2" transform="rotate(29 1390.7 2466.8)" fill="#3238a2" stroke="#383fb8" stroke-width="1.6"/><ellipse cx="1437" cy="2508" rx="7.7" ry="4.8" transform="rotate(100 1437 2508)" fill="#30379d" stroke="#363db3" stroke-width="1.6"/><ellipse cx="1332.4" cy="2459.1" rx="9.2" ry="5.4" transform="rotate(79 1332.4 2459.1)" fill="#262b77" stroke="#292f84" stroke-width="1.6"/><ellipse cx="1397.3" cy="2679.7" rx="6.8" ry="5.6" transform="rotate(114 1397.3 2679.7)" fill="#2e3596" stroke="#343aa9" stroke-width="1.6"/><ellipse cx="1351.9" cy="2438.9" rx="10.5" ry="5" transform="rotate(92 1351.9 2438.9)" fill="#262c7a" stroke="#2a3087" stroke-width="1.6"/><ellipse cx="1346" cy="2616.6" rx="6.5" ry="5.3" transform="rotate(82 1346 2616.6)" fill="#292f85" stroke="#2e3495" stroke-width="1.6"/><ellipse cx="1480.3" cy="2532.8" rx="7.5" ry="6.4" transform="rotate(106 1480.3 2532.8)" fill="#2b318c" stroke="#30379d" stroke-width="1.6"/><ellipse cx="1287.6" cy="2578.4" rx="7.1" ry="5.8" transform="rotate(58 1287.6 2578.4)" fill="#3b42c2" stroke="#4048d4" stroke-width="1.6"/><ellipse cx="1405.8" cy="2467.5" rx="9.6" ry="4.6" transform="rotate(128 1405.8 2467.5)" fill="#2c328d" stroke="#31379e" stroke-width="1.6"/><ellipse cx="1422.4" cy="2684.7" rx="6.7" ry="5.6" transform="rotate(107 1422.4 2684.7)" fill="#343aa9" stroke="#3a42c1" stroke-width="1.6"/><ellipse cx="1417.1" cy="2655.7" rx="8.1" ry="5.4" transform="rotate(30 1417.1 2655.7)" fill="#3e46ce" stroke="#4048d4" stroke-width="1.6"/><ellipse cx="1292.4" cy="2526.7" rx="11.5" ry="6.2" transform="rotate(178 1292.4 2526.7)" fill="#2a3086" stroke="#2e3596" stroke-width="1.6"/><ellipse cx="1467.9" cy="2564.4" rx="9.4" ry="6.1" transform="rotate(4 1467.9 2564.4)" fill="#2d3391" stroke="#3239a4" stroke-width="1.6"/><ellipse cx="1458.4" cy="2456.7" rx="9.6" ry="5.7" transform="rotate(92 1458.4 2456.7)" fill="#2d3392" stroke="#3239a4" stroke-width="1.6"/><ellipse cx="1453.2" cy="2440.5" rx="9.2" ry="4.8" transform="rotate(92 1453.2 2440.5)" fill="#272c7b" stroke="#2a3088" stroke-width="1.6"/><ellipse cx="1347.8" cy="2568.5" rx="9" ry="5.1" transform="rotate(175 1347.8 2568.5)" fill="#2f3699" stroke="#353cad" stroke-width="1.6"/><ellipse cx="1390.4" cy="2699.6" rx="7" ry="5.4" transform="rotate(23 1390.4 2699.6)" fill="#2c328f" stroke="#3138a1" stroke-width="1.6"/><ellipse cx="1344.7" cy="2506.5" rx="6.6" ry="5.2" transform="rotate(80 1344.7 2506.5)" fill="#1f2460" stroke="#212667" stroke-width="1.6"/><ellipse cx="1296.5" cy="2496.5" rx="9.1" ry="6.5" transform="rotate(88 1296.5 2496.5)" fill="#23286e" stroke="#262b78" stroke-width="1.6"/><ellipse cx="1359.6" cy="2466.6" rx="9.4" ry="5.1" transform="rotate(55 1359.6 2466.6)" fill="#242a73" stroke="#282d7f" stroke-width="1.6"/><ellipse cx="1340.4" cy="2602.8" rx="8.5" ry="6.1" transform="rotate(49 1340.4 2602.8)" fill="#3c44c7" stroke="#4048d4" stroke-width="1.6"/><ellipse cx="1284.1" cy="2515.9" rx="9.5" ry="5.8" transform="rotate(26 1284.1 2515.9)" fill="#252b75" stroke="#292e81" stroke-width="1.6"/><ellipse cx="1451.6" cy="2627.5" rx="8.8" ry="4.9" transform="rotate(1 1451.6 2627.5)" fill="#2a3086" stroke="#2e3596" stroke-width="1.6"/><ellipse cx="1374" cy="2628.8" rx="7.1" ry="5.7" transform="rotate(51 1374 2628.8)" fill="#3c44c7" stroke="#4048d4" stroke-width="1.6"/><ellipse cx="1283.8" cy="2498.8" rx="6.6" ry="5" transform="rotate(146 1283.8 2498.8)" fill="#282e7f" stroke="#2c328e" stroke-width="1.6"/><ellipse cx="1439.7" cy="2674.3" rx="8.6" ry="4.7" transform="rotate(138 1439.7 2674.3)" fill="#3f47d3" stroke="#4048d4" stroke-width="1.6"/><ellipse cx="1375.9" cy="2693.7" rx="9.6" ry="6.1" transform="rotate(67 1375.9 2693.7)" fill="#3a41bf" stroke="#4048d4" stroke-width="1.6"/><ellipse cx="1446.2" cy="2480.9" rx="7.6" ry="5.7" transform="rotate(42 1446.2 2480.9)" fill="#2b318b" stroke="#30369b" stroke-width="1.6"/><ellipse cx="1435.8" cy="2566.5" rx="7.3" ry="5.9" transform="rotate(17 1435.8 2566.5)" fill="#383fb8" stroke="#3f47d2" stroke-width="1.6"/><ellipse cx="1461.2" cy="2587.8" rx="7.8" ry="6.3" transform="rotate(71 1461.2 2587.8)" fill="#2a3086" stroke="#2e3596" stroke-width="1.6"/><ellipse cx="1295.7" cy="2470.5" rx="8.3" ry="5.1" transform="rotate(66 1295.7 2470.5)" fill="#272d7d" stroke="#2b318b" stroke-width="1.6"/><ellipse cx="1328.4" cy="2503.4" rx="11.7" ry="5.4" transform="rotate(42 1328.4 2503.4)" fill="#262b78" stroke="#2a2f85" stroke-width="1.6"/><ellipse cx="1388.7" cy="2667.8" rx="12.7" ry="5.6" transform="rotate(158 1388.7 2667.8)" fill="#363db2" stroke="#3d45cc" stroke-width="1.6"/><ellipse cx="1464.3" cy="2471.6" rx="7.3" ry="5.5" transform="rotate(83 1464.3 2471.6)" fill="#30379e" stroke="#363eb3" stroke-width="1.6"/><ellipse cx="1362.9" cy="2494.8" rx="8.8" ry="5.6" transform="rotate(50 1362.9 2494.8)" fill="#292e82" stroke="#2d3391" stroke-width="1.6"/><ellipse cx="1328.5" cy="2615.2" rx="8.8" ry="5.9" transform="rotate(161 1328.5 2615.2)" fill="#3138a1" stroke="#383fb7" stroke-width="1.6"/><ellipse cx="1446.5" cy="2465.4" rx="9.7" ry="5.6" transform="rotate(81 1446.5 2465.4)" fill="#282e81" stroke="#2d3390" stroke-width="1.6"/><ellipse cx="1319.6" cy="2463.9" rx="7" ry="5.1" transform="rotate(165 1319.6 2463.9)" fill="#1f2461" stroke="#222769" stroke-width="1.6"/><ellipse cx="1451.9" cy="2598.6" rx="8.8" ry="6" transform="rotate(12 1451.9 2598.6)" fill="#30369c" stroke="#363db0" stroke-width="1.6"/><ellipse cx="1329.8" cy="2658.9" rx="7.7" ry="6.1" transform="rotate(67 1329.8 2658.9)" fill="#2d3392" stroke="#3239a4" stroke-width="1.6"/><ellipse cx="1440" cy="2632.9" rx="8.1" ry="5" transform="rotate(60 1440 2632.9)" fill="#2f3699" stroke="#353cad" stroke-width="1.6"/><ellipse cx="1478.7" cy="2595.2" rx="8.2" ry="6.4" transform="rotate(53 1478.7 2595.2)" fill="#2c328c" stroke="#30379e" stroke-width="1.6"/><ellipse cx="1425.1" cy="2556.2" rx="9.4" ry="5.8" transform="rotate(19 1425.1 2556.2)" fill="#3239a3" stroke="#383fb9" stroke-width="1.6"/><ellipse cx="1289.2" cy="2485.1" rx="9.2" ry="5.8" transform="rotate(95 1289.2 2485.1)" fill="#262b77" stroke="#292f84" stroke-width="1.6"/><ellipse cx="1286.6" cy="2562.8" rx="9.1" ry="5.5" transform="rotate(33 1286.6 2562.8)" fill="#3b42c3" stroke="#4048d4" stroke-width="1.6"/><ellipse cx="1359.7" cy="2616.6" rx="7.3" ry="4.9" transform="rotate(168 1359.7 2616.6)" fill="#373eb5" stroke="#3e46d0" stroke-width="1.6"/><ellipse cx="1411.3" cy="2552.6" rx="7.2" ry="5.8" transform="rotate(80 1411.3 2552.6)" fill="#30369c" stroke="#363db0" stroke-width="1.6"/><ellipse cx="1325.5" cy="2439.3" rx="11.2" ry="5.2" transform="rotate(114 1325.5 2439.3)" fill="#22286c" stroke="#252b76" stroke-width="1.6"/><ellipse cx="1348.4" cy="2687.5" rx="7.5" ry="6.2" transform="rotate(134 1348.4 2687.5)" fill="#3e46cf" stroke="#4048d4" stroke-width="1.6"/><ellipse cx="1336.3" cy="2446.4" rx="8" ry="5" transform="rotate(78 1336.3 2446.4)" fill="#23296f" stroke="#262c7a" stroke-width="1.6"/><ellipse cx="1376.6" cy="2459.5" rx="7.1" ry="4.8" transform="rotate(17 1376.6 2459.5)" fill="#2e3495" stroke="#333aa8" stroke-width="1.6"/><ellipse cx="1294.5" cy="2594.6" rx="9.2" ry="6.2" transform="rotate(31 1294.5 2594.6)" fill="#30379d" stroke="#363db2" stroke-width="1.6"/><ellipse cx="1433.5" cy="2595.6" rx="9.1" ry="5.5" transform="rotate(127 1433.5 2595.6)" fill="#3e46ce" stroke="#4048d4" stroke-width="1.6"/><ellipse cx="1359.8" cy="2524.1" rx="7.7" ry="5.8" transform="rotate(18 1359.8 2524.1)" fill="#242a73" stroke="#282d7f" stroke-width="1.6"/><ellipse cx="1401.6" cy="2442.1" rx="7.8" ry="4.8" transform="rotate(55 1401.6 2442.1)" fill="#262c78" stroke="#2a2f85" stroke-width="1.6"/><ellipse cx="1454.9" cy="2611.1" rx="12.3" ry="5.7" transform="rotate(144 1454.9 2611.1)" fill="#3d45ca" stroke="#4048d4" stroke-width="1.6"/><ellipse cx="1395.5" cy="2506.7" rx="9.5" ry="6.5" transform="rotate(39 1395.5 2506.7)" fill="#2e3597" stroke="#343baa" stroke-width="1.6"/><ellipse cx="1315.4" cy="2523.2" rx="10.7" ry="5.1" transform="rotate(92 1315.4 2523.2)" fill="#22276a" stroke="#252a73" stroke-width="1.6"/><ellipse cx="1323.8" cy="2585.3" rx="12" ry="4.9" transform="rotate(25 1323.8 2585.3)" fill="#2f369a" stroke="#353caf" stroke-width="1.6"/><ellipse cx="1428" cy="2662.2" rx="7.6" ry="5.3" transform="rotate(114 1428 2662.2)" fill="#343aa9" stroke="#3a42c1" stroke-width="1.6"/><ellipse cx="1418.3" cy="2595" rx="7.8" ry="6.1" transform="rotate(69 1418.3 2595)" fill="#2a3086" stroke="#2e3596" stroke-width="1.6"/><ellipse cx="1282.1" cy="2546.4" rx="9.1" ry="4.8" transform="rotate(18 1282.1 2546.4)" fill="#2d3390" stroke="#3238a3" stroke-width="1.6"/><ellipse cx="1443.6" cy="2534.7" rx="7.3" ry="4.7" transform="rotate(66 1443.6 2534.7)" fill="#272d7c" stroke="#2b318a" stroke-width="1.6"/><ellipse cx="1390" cy="2518.6" rx="7.5" ry="4.7" transform="rotate(141 1390 2518.6)" fill="#3239a3" stroke="#383fb9" stroke-width="1.6"/><ellipse cx="1338" cy="2556.1" rx="7.6" ry="5.5" transform="rotate(8 1338 2556.1)" fill="#2d3493" stroke="#3339a6" stroke-width="1.6"/><ellipse cx="1311" cy="2542" rx="7.9" ry="6.5" transform="rotate(83 1311 2542)" fill="#3239a3" stroke="#383fb9" stroke-width="1.6"/><ellipse cx="1309.6" cy="2650.5" rx="8.4" ry="4.8" transform="rotate(102 1309.6 2650.5)" fill="#3941be" stroke="#4048d4" stroke-width="1.6"/><ellipse cx="1477.2" cy="2581.2" rx="9" ry="6.5" transform="rotate(78 1477.2 2581.2)" fill="#3239a4" stroke="#3940bb" stroke-width="1.6"/><ellipse cx="1329.5" cy="2529.6" rx="7.1" ry="5.5" transform="rotate(155 1329.5 2529.6)" fill="#23286e" stroke="#262c79" stroke-width="1.6"/><ellipse cx="1424.2" cy="2571.9" rx="7.8" ry="5.2" transform="rotate(61 1424.2 2571.9)" fill="#373eb6" stroke="#3f46d0" stroke-width="1.6"/><ellipse cx="1456.6" cy="2530.3" rx="7.4" ry="4.7" transform="rotate(164 1456.6 2530.3)" fill="#3239a3" stroke="#3840ba" stroke-width="1.6"/><ellipse cx="1301.6" cy="2635.9" rx="9.4" ry="5.1" transform="rotate(62 1301.6 2635.9)" fill="#3f47d2" stroke="#4048d4" stroke-width="1.6"/><ellipse cx="1466" cy="2440.2" rx="8.1" ry="5.5" transform="rotate(162 1466 2440.2)" fill="#282e7f" stroke="#2c328d" stroke-width="1.6"/><ellipse cx="1311.9" cy="2505.2" rx="7.3" ry="5.7" transform="rotate(102 1311.9 2505.2)" fill="#2a3086" stroke="#2e3596" stroke-width="1.6"/><ellipse cx="1373.4" cy="2667.1" rx="9" ry="5.6" transform="rotate(82 1373.4 2667.1)" fill="#3941bd" stroke="#4048d4" stroke-width="1.6"/><ellipse cx="1312.9" cy="2573.7" rx="7.9" ry="5.3" transform="rotate(99 1312.9 2573.7)" fill="#4048d4" stroke="#4048d4" stroke-width="1.6"/><ellipse cx="1454.1" cy="2508" rx="7.3" ry="6" transform="rotate(143 1454.1 2508)" fill="#2e3494" stroke="#333aa7" stroke-width="1.6"/><ellipse cx="1419.3" cy="2607.8" rx="6.8" ry="4.8" transform="rotate(128 1419.3 2607.8)" fill="#3b42c3" stroke="#4048d4" stroke-width="1.6"/><ellipse cx="1301.7" cy="2608.5" rx="8.8" ry="6.2" transform="rotate(28 1301.7 2608.5)" fill="#3d45cb" stroke="#4048d4" stroke-width="1.6"/><ellipse cx="1472.3" cy="2461.6" rx="7.2" ry="5.1" transform="rotate(24 1472.3 2461.6)" fill="#2c328e" stroke="#3138a0" stroke-width="1.6"/><ellipse cx="1333.7" cy="2517.3" rx="9.2" ry="5.9" transform="rotate(9 1333.7 2517.3)" fill="#202562" stroke="#22276a" stroke-width="1.6"/><ellipse cx="1352.3" cy="2456.2" rx="6.5" ry="4.7" transform="rotate(106 1352.3 2456.2)" fill="#272c7b" stroke="#2b3189" stroke-width="1.6"/><ellipse cx="1455.7" cy="2653.3" rx="6.9" ry="4.8" transform="rotate(170 1455.7 2653.3)" fill="#3339a5" stroke="#3940bc" stroke-width="1.6"/><ellipse cx="1457.2" cy="2556.8" rx="8.2" ry="4.7" transform="rotate(159 1457.2 2556.8)" fill="#2a3088" stroke="#2f3598" stroke-width="1.6"/><ellipse cx="1413.7" cy="2438.1" rx="7.1" ry="5.9" transform="rotate(120 1413.7 2438.1)" fill="#3238a2" stroke="#383fb9" stroke-width="1.6"/><ellipse cx="1368.5" cy="2439" rx="6.5" ry="5.6" transform="rotate(94 1368.5 2439)" fill="#2f3597" stroke="#343bab" stroke-width="1.6"/><ellipse cx="1468.1" cy="2630.4" rx="6.8" ry="5" transform="rotate(112 1468.1 2630.4)" fill="#2c328f" stroke="#3138a0" stroke-width="1.6"/><ellipse cx="1404.6" cy="2494.6" rx="7.4" ry="6" transform="rotate(76 1404.6 2494.6)" fill="#2d3390" stroke="#3238a2" stroke-width="1.6"/><ellipse cx="1493.5" cy="2473.1" rx="8.7" ry="6.3" transform="rotate(16 1493.5 2473.1)" fill="#2e3495" stroke="#333aa8" stroke-width="1.6"/><ellipse cx="1402.1" cy="2667.2" rx="9.3" ry="6.2" transform="rotate(149 1402.1 2667.2)" fill="#363db3" stroke="#3d45cc" stroke-width="1.6"/><ellipse cx="1305.6" cy="2455.4" rx="11.9" ry="6.4" transform="rotate(120 1305.6 2455.4)" fill="#242970" stroke="#272d7c" stroke-width="1.6"/><ellipse cx="1332.1" cy="2473.9" rx="8.9" ry="6.5" transform="rotate(127 1332.1 2473.9)" fill="#22276b" stroke="#252b75" stroke-width="1.6"/><ellipse cx="1405.4" cy="2631.8" rx="7.1" ry="6.2" transform="rotate(122 1405.4 2631.8)" fill="#30379d" stroke="#363db2" stroke-width="1.6"/><ellipse cx="1305.4" cy="2486.7" rx="9.4" ry="5.3" transform="rotate(152 1305.4 2486.7)" fill="#23286d" stroke="#262b78" stroke-width="1.6"/><ellipse cx="1280.1" cy="2533.8" rx="6.5" ry="5.6" transform="rotate(118 1280.1 2533.8)" fill="#292f84" stroke="#2e3493" stroke-width="1.6"/><ellipse cx="1324.4" cy="2559.3" rx="8.2" ry="6.4" transform="rotate(132 1324.4 2559.3)" fill="#30379d" stroke="#363db2" stroke-width="1.6"/><ellipse cx="1350" cy="2494.9" rx="8.2" ry="5.9" transform="rotate(18 1350 2494.9)" fill="#212665" stroke="#23286e" stroke-width="1.6"/><ellipse cx="1328" cy="2672.3" rx="8.5" ry="6.4" transform="rotate(77 1328 2672.3)" fill="#2c338f" stroke="#3138a1" stroke-width="1.6"/><ellipse cx="1349.5" cy="2665.4" rx="7" ry="5.6" transform="rotate(9 1349.5 2665.4)" fill="#3d45cc" stroke="#4048d4" stroke-width="1.6"/><ellipse cx="1310.4" cy="2593.9" rx="8.8" ry="5.8" transform="rotate(79 1310.4 2593.9)" fill="#3d45cb" stroke="#4048d4" stroke-width="1.6"/></g><ellipse cx="1446" cy="2640" rx="20" ry="28" fill="#2a8ab0" opacity="0.3" filter="url(#gb)"/><ellipse cx="1377" cy="2692" rx="7" ry="5" fill="#2ce07a" filter="url(#gb2)"/><ellipse cx="1391" cy="2692" rx="4" ry="4" fill="#2cc060" filter="url(#gb2)"/><rect x="1433.5" y="2695.7" width="70" height="2.6" fill="#fff"/></g>
<text x="1462" y="2425.5" font-size="9" text-anchor="middle" font-weight="bold" fill="#fff">50 µm</text>
<text x="1468" y="2707" font-size="9" text-anchor="middle" font-weight="bold" fill="#fff">50 µm</text>
<text x="761.2" y="2152" font-size="15" fill="#fff" textLength="56" lengthAdjust="spacingAndGlyphs">Hoechst</text>
<text x="1014.5" y="2152" font-size="15" fill="#fff" textLength="47.5" lengthAdjust="spacingAndGlyphs">DDIT3</text>
<text x="1267.5" y="2152" font-size="15" fill="#fff" textLength="51.5" lengthAdjust="spacingAndGlyphs">Merged</text>
<text x="761.2" y="2455.5" font-size="15" fill="#fff" textLength="56" lengthAdjust="spacingAndGlyphs">Hoechst</text>
<text x="1014.5" y="2455.5" font-size="15" fill="#fff" textLength="47.5" lengthAdjust="spacingAndGlyphs">DDIT3</text>
<text x="1267.5" y="2455.5" font-size="15" fill="#fff" textLength="51.5" lengthAdjust="spacingAndGlyphs">Merged</text>
<text x="1573" y="2105.3" font-size="49.5" font-weight="bold" fill="#000">g</text>
<line x1="1708.5" y1="2316.5" x2="1708.5" y2="2549.6" stroke="#000" stroke-width="3"/>
<line x1="1707" y1="2549.6" x2="2057" y2="2549.6" stroke="#000" stroke-width="3.2"/>
<line x1="1699" y1="2549.6" x2="1708.5" y2="2549.6" stroke="#000" stroke-width="3"/>
<text x="1693.5" y="2559.6" font-size="25.5" text-anchor="end">0</text>
<line x1="1699" y1="2491.3" x2="1708.5" y2="2491.3" stroke="#000" stroke-width="3"/>
<text x="1693.5" y="2501.3" font-size="25.5" text-anchor="end">10</text>
<line x1="1699" y1="2433" x2="1708.5" y2="2433" stroke="#000" stroke-width="3"/>
<text x="1693.5" y="2443" font-size="25.5" text-anchor="end">20</text>
<line x1="1699" y1="2374.7" x2="1708.5" y2="2374.7" stroke="#000" stroke-width="3"/>
<text x="1693.5" y="2384.7" font-size="25.5" text-anchor="end">30</text>
<line x1="1699" y1="2316.4" x2="1708.5" y2="2316.4" stroke="#000" stroke-width="3"/>
<text x="1693.5" y="2326.4" font-size="25.5" text-anchor="end">40</text>
<line x1="1807" y1="2549.6" x2="1807" y2="2566" stroke="#000" stroke-width="3"/>
<text x="1807" y="2596" font-size="25.5" text-anchor="middle">DMSO</text>
<line x1="1956" y1="2549.6" x2="1956" y2="2566" stroke="#000" stroke-width="3"/>
<text x="1956" y="2596" font-size="25.5" text-anchor="middle">CI</text>
<text transform="translate(1603,2443) rotate(-90)" font-size="26.8" text-anchor="middle">% Epiblat cells with</text>
<text transform="translate(1641.5,2447) rotate(-90)" font-size="26.8" text-anchor="middle">nuclear DDIT3 staining</text>
<line x1="1809" y1="2353.4" x2="1955" y2="2353.4" stroke="#111" stroke-width="1.6"/>
<text x="1877.5" y="2351" font-size="29" text-anchor="middle" font-weight="bold">***</text>
<circle cx="1766" cy="2548.6" r="9.4" fill="#f6e58a" stroke="#d8c35a" stroke-width="1.3"/>
<circle cx="1777" cy="2548.6" r="9.4" fill="#f6e58a" stroke="#d8c35a" stroke-width="1.3"/>
<circle cx="1790" cy="2548.6" r="9.4" fill="#f6e58a" stroke="#d8c35a" stroke-width="1.3"/>
<circle cx="1801" cy="2548.6" r="9.4" fill="#f6e58a" stroke="#d8c35a" stroke-width="1.3"/>
<circle cx="1811" cy="2548.6" r="9.4" fill="#f6e58a" stroke="#d8c35a" stroke-width="1.3"/>
<circle cx="1824" cy="2548.6" r="9.4" fill="#f6e58a" stroke="#d8c35a" stroke-width="1.3"/>
<circle cx="1836" cy="2548.6" r="9.4" fill="#f6e58a" stroke="#d8c35a" stroke-width="1.3"/>
<circle cx="1848" cy="2548.6" r="9.4" fill="#f6e58a" stroke="#d8c35a" stroke-width="1.3"/>
<circle cx="1807" cy="2505.9" r="9.4" fill="#f6e58a" stroke="#d8c35a" stroke-width="1.3"/>
<circle cx="1807" cy="2476.7" r="9.4" fill="#f6e58a" stroke="#d8c35a" stroke-width="1.3"/>
<line x1="1758" y1="2538" x2="1857" y2="2538" stroke="#000" stroke-width="3.2"/>
<line x1="1807" y1="2530.3" x2="1807" y2="2545" stroke="#e3cf6a" stroke-width="1.8"/>
<line x1="1783" y1="2530.3" x2="1831.6" y2="2530.3" stroke="#e3cf6a" stroke-width="1.8"/>
<path d="M1942.6,2387.2 L1952.1,2404.3 L1933.1,2404.3 Z" fill="#0d9a12"/>
<path d="M1969.8,2387.2 L1979.3,2404.3 L1960.3,2404.3 Z" fill="#0d9a12"/>
<path d="M1942.6,2404.9 L1952.1,2422 L1933.1,2422 Z" fill="#0d9a12"/>
<path d="M1969.8,2411.3 L1979.3,2428.4 L1960.3,2428.4 Z" fill="#0d9a12"/>
<path d="M1997.7,2411.3 L2007.2,2428.4 L1988.2,2428.4 Z" fill="#0d9a12"/>
<path d="M1916,2422.5 L1925.5,2439.6 L1906.5,2439.6 Z" fill="#0d9a12"/>
<path d="M1942.6,2436.9 L1952.1,2454 L1933.1,2454 Z" fill="#0d9a12"/>
<path d="M1942.6,2461 L1952.1,2478.1 L1933.1,2478.1 Z" fill="#0d9a12"/>
<path d="M1969.8,2453.9 L1979.3,2471 L1960.3,2471 Z" fill="#0d9a12"/>
<line x1="1907" y1="2427.1" x2="1982" y2="2427.1" stroke="#000" stroke-width="3.2"/>
<line x1="1956" y1="2418.4" x2="1956" y2="2436.7" stroke="#2aa02a" stroke-width="1.8"/>
<line x1="1932" y1="2418.4" x2="1982" y2="2418.4" stroke="#2aa02a" stroke-width="1.8"/>
<line x1="1932" y1="2436.7" x2="1982" y2="2436.7" stroke="#2aa02a" stroke-width="1.8"/>
</svg>
</body></html>
